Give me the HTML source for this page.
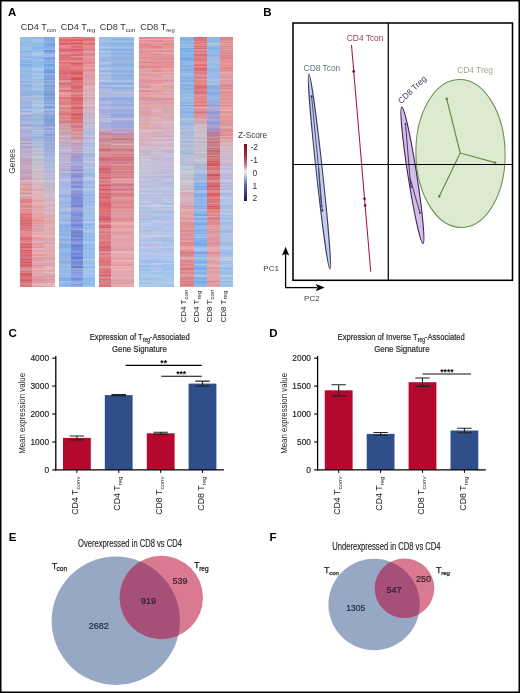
<!DOCTYPE html>
<html><head><meta charset="utf-8"><title>Figure</title>
<style>html,body{margin:0;padding:0;background:#fff;}svg{display:block;font-family:"Liberation Sans",sans-serif;will-change:transform;}</style>
</head><body>
<svg width="520" height="693" viewBox="0 0 520 693" font-family="Liberation Sans, sans-serif">
<rect x="0" y="0" width="520" height="693" fill="#fff"/>
<text x="8" y="16" font-size="11.5" font-weight="bold" fill="#000">A</text>
<text x="20.8" y="30.3" font-size="9" fill="#333">CD4 T<tspan font-size="5.9" dy="2.1">con</tspan></text>
<text x="60.8" y="30.3" font-size="9" fill="#333">CD4 T<tspan font-size="5.9" dy="2.1">reg</tspan></text>
<text x="99.8" y="30.3" font-size="9" fill="#333">CD8 T<tspan font-size="5.9" dy="2.1">con</tspan></text>
<text x="140.3" y="30.3" font-size="9" fill="#333">CD8 T<tspan font-size="5.9" dy="2.1">reg</tspan></text>
<g shape-rendering="crispEdges"><defs><linearGradient id="h0" x1="0" y1="0" x2="0" y2="1"><stop offset="0.2%" stop-color="#94bcf0"/><stop offset="0.6%" stop-color="#8ebde5"/><stop offset="1.0%" stop-color="#96c4e5"/><stop offset="1.4%" stop-color="#9abee4"/><stop offset="1.8%" stop-color="#97b7ea"/><stop offset="2.2%" stop-color="#93bbe7"/><stop offset="2.6%" stop-color="#9ab7e0"/><stop offset="3.0%" stop-color="#9ab8e6"/><stop offset="3.4%" stop-color="#8fbbe6"/><stop offset="3.8%" stop-color="#9ebde1"/><stop offset="4.2%" stop-color="#9ec3e4"/><stop offset="4.6%" stop-color="#91beed"/><stop offset="5.0%" stop-color="#a7c5e7"/><stop offset="5.4%" stop-color="#8dbae3"/><stop offset="5.8%" stop-color="#7eb2f5"/><stop offset="6.2%" stop-color="#96b8e5"/><stop offset="6.6%" stop-color="#98b7e7"/><stop offset="7.0%" stop-color="#a8bfe8"/><stop offset="7.4%" stop-color="#97bce5"/><stop offset="7.8%" stop-color="#99bbe2"/><stop offset="8.2%" stop-color="#8bb1e1"/><stop offset="8.6%" stop-color="#a1c2ec"/><stop offset="9.0%" stop-color="#96bbeb"/><stop offset="9.4%" stop-color="#8fb4ee"/><stop offset="9.8%" stop-color="#8eb6e5"/><stop offset="10.2%" stop-color="#80b2e5"/><stop offset="10.6%" stop-color="#94bae6"/><stop offset="11.0%" stop-color="#7face9"/><stop offset="11.4%" stop-color="#7faeee"/><stop offset="11.8%" stop-color="#8bb0e5"/><stop offset="12.2%" stop-color="#97bbec"/><stop offset="12.6%" stop-color="#9ebbe5"/><stop offset="13.0%" stop-color="#9bbae6"/><stop offset="13.4%" stop-color="#9fbbe3"/><stop offset="13.8%" stop-color="#90b2e5"/><stop offset="14.2%" stop-color="#9abdee"/><stop offset="14.6%" stop-color="#9abbe8"/><stop offset="15.0%" stop-color="#91b8e7"/><stop offset="15.4%" stop-color="#96b9ed"/><stop offset="15.8%" stop-color="#93b1e5"/><stop offset="16.2%" stop-color="#9cb4de"/><stop offset="16.6%" stop-color="#97bde8"/><stop offset="17.0%" stop-color="#9fb7e9"/><stop offset="17.4%" stop-color="#a7bddf"/><stop offset="17.8%" stop-color="#94b3e5"/><stop offset="18.2%" stop-color="#91b1e2"/><stop offset="18.6%" stop-color="#b0c4de"/><stop offset="19.0%" stop-color="#8fb3e0"/><stop offset="19.4%" stop-color="#8db1e4"/><stop offset="19.8%" stop-color="#92b8f1"/><stop offset="20.2%" stop-color="#9bb5e2"/><stop offset="20.6%" stop-color="#9ebae6"/><stop offset="21.0%" stop-color="#99b2e7"/><stop offset="21.4%" stop-color="#94b8e5"/><stop offset="21.8%" stop-color="#94b6dd"/><stop offset="22.2%" stop-color="#90b0e0"/><stop offset="22.6%" stop-color="#91b4e0"/><stop offset="23.0%" stop-color="#93addf"/><stop offset="23.4%" stop-color="#90b1e4"/><stop offset="23.8%" stop-color="#afc0e0"/><stop offset="24.2%" stop-color="#a6b7e1"/><stop offset="24.6%" stop-color="#a3b6e2"/><stop offset="25.1%" stop-color="#a9b8dc"/><stop offset="25.5%" stop-color="#a6b9dc"/><stop offset="25.9%" stop-color="#9ab5e3"/><stop offset="26.3%" stop-color="#a3b4d6"/><stop offset="26.7%" stop-color="#a4b2df"/><stop offset="27.1%" stop-color="#9bb7e3"/><stop offset="27.5%" stop-color="#aabce5"/><stop offset="27.9%" stop-color="#97aedc"/><stop offset="28.3%" stop-color="#97aee0"/><stop offset="28.7%" stop-color="#a2b4dd"/><stop offset="29.1%" stop-color="#b9c5e2"/><stop offset="29.5%" stop-color="#a9b9e6"/><stop offset="29.9%" stop-color="#96afe3"/><stop offset="30.3%" stop-color="#b1c0dd"/><stop offset="30.7%" stop-color="#c0c1d7"/><stop offset="31.1%" stop-color="#acb4df"/><stop offset="31.5%" stop-color="#94a9db"/><stop offset="31.9%" stop-color="#99b1e5"/><stop offset="32.3%" stop-color="#a5b2dd"/><stop offset="32.7%" stop-color="#9db3da"/><stop offset="33.1%" stop-color="#9daad5"/><stop offset="33.5%" stop-color="#a9b0df"/><stop offset="33.9%" stop-color="#a1b5dc"/><stop offset="34.3%" stop-color="#aeb5da"/><stop offset="34.7%" stop-color="#afbae6"/><stop offset="35.1%" stop-color="#a0a8d3"/><stop offset="35.5%" stop-color="#9ca6d4"/><stop offset="35.9%" stop-color="#aab1d7"/><stop offset="36.3%" stop-color="#c5bdd5"/><stop offset="36.7%" stop-color="#bbb5ce"/><stop offset="37.1%" stop-color="#9fb1dd"/><stop offset="37.5%" stop-color="#aaacdc"/><stop offset="37.9%" stop-color="#a2a8da"/><stop offset="38.3%" stop-color="#adadd5"/><stop offset="38.7%" stop-color="#b1b3dc"/><stop offset="39.1%" stop-color="#a9acd3"/><stop offset="39.5%" stop-color="#b9b1cf"/><stop offset="39.9%" stop-color="#b1b2d6"/><stop offset="40.3%" stop-color="#a7a6d5"/><stop offset="40.7%" stop-color="#a5a7d6"/><stop offset="41.1%" stop-color="#a8a7cd"/><stop offset="41.5%" stop-color="#a9a2c5"/><stop offset="41.9%" stop-color="#c5b5cc"/><stop offset="42.3%" stop-color="#b4b3d0"/><stop offset="42.7%" stop-color="#a49cca"/><stop offset="43.1%" stop-color="#c0b7d3"/><stop offset="43.5%" stop-color="#b7b5d3"/><stop offset="43.9%" stop-color="#b1a6c8"/><stop offset="44.3%" stop-color="#afa1c6"/><stop offset="44.7%" stop-color="#bcaacd"/><stop offset="45.1%" stop-color="#c2b5cc"/><stop offset="45.5%" stop-color="#b7accc"/><stop offset="45.9%" stop-color="#bca7c7"/><stop offset="46.3%" stop-color="#b5adc5"/><stop offset="46.7%" stop-color="#beadc7"/><stop offset="47.1%" stop-color="#ccb7ca"/><stop offset="47.5%" stop-color="#bca5c2"/><stop offset="47.9%" stop-color="#c8b7ce"/><stop offset="48.3%" stop-color="#c2b4cd"/><stop offset="48.7%" stop-color="#b0a7ca"/><stop offset="49.1%" stop-color="#baa4bc"/><stop offset="49.5%" stop-color="#bca5bc"/><stop offset="49.9%" stop-color="#bfa7bf"/><stop offset="50.3%" stop-color="#c0aac0"/><stop offset="50.7%" stop-color="#bda5ba"/><stop offset="51.1%" stop-color="#c6a9b9"/><stop offset="51.5%" stop-color="#c3b5c9"/><stop offset="51.9%" stop-color="#c3a5c6"/><stop offset="52.3%" stop-color="#cba9b7"/><stop offset="52.7%" stop-color="#ccaabe"/><stop offset="53.1%" stop-color="#c8a5b6"/><stop offset="53.5%" stop-color="#c39eb9"/><stop offset="53.9%" stop-color="#c5a4b8"/><stop offset="54.3%" stop-color="#c3a1bc"/><stop offset="54.7%" stop-color="#c0a0bd"/><stop offset="55.1%" stop-color="#cdacbe"/><stop offset="55.5%" stop-color="#c7a7bc"/><stop offset="55.9%" stop-color="#d29fb6"/><stop offset="56.3%" stop-color="#c699b6"/><stop offset="56.7%" stop-color="#c49cb8"/><stop offset="57.1%" stop-color="#c796b1"/><stop offset="57.5%" stop-color="#dab7c4"/><stop offset="57.9%" stop-color="#d5b1c1"/><stop offset="58.3%" stop-color="#d1a6b9"/><stop offset="58.7%" stop-color="#d0adb3"/><stop offset="59.1%" stop-color="#d49b9f"/><stop offset="59.5%" stop-color="#d9a0ac"/><stop offset="59.9%" stop-color="#dfaba7"/><stop offset="60.3%" stop-color="#dda2a1"/><stop offset="60.7%" stop-color="#dca9a6"/><stop offset="61.1%" stop-color="#d29199"/><stop offset="61.5%" stop-color="#dd9da3"/><stop offset="61.9%" stop-color="#e5adae"/><stop offset="62.3%" stop-color="#d5a5af"/><stop offset="62.7%" stop-color="#d5959a"/><stop offset="63.1%" stop-color="#d5a5a7"/><stop offset="63.5%" stop-color="#dfb6b5"/><stop offset="63.9%" stop-color="#dea7b3"/><stop offset="64.3%" stop-color="#de9b9e"/><stop offset="64.7%" stop-color="#e19b9f"/><stop offset="65.1%" stop-color="#d78a8d"/><stop offset="65.5%" stop-color="#dd8187"/><stop offset="65.9%" stop-color="#dc8489"/><stop offset="66.3%" stop-color="#e37672"/><stop offset="66.7%" stop-color="#e1a1a2"/><stop offset="67.1%" stop-color="#df989d"/><stop offset="67.5%" stop-color="#e58c8a"/><stop offset="67.9%" stop-color="#df7c85"/><stop offset="68.3%" stop-color="#d88c97"/><stop offset="68.7%" stop-color="#dfa5a9"/><stop offset="69.1%" stop-color="#e18580"/><stop offset="69.5%" stop-color="#e48c94"/><stop offset="69.9%" stop-color="#dc9096"/><stop offset="70.3%" stop-color="#e59697"/><stop offset="70.7%" stop-color="#e58285"/><stop offset="71.1%" stop-color="#e36971"/><stop offset="71.5%" stop-color="#db7b86"/><stop offset="71.9%" stop-color="#e17d87"/><stop offset="72.3%" stop-color="#e2747c"/><stop offset="72.7%" stop-color="#e4726f"/><stop offset="73.1%" stop-color="#e36e73"/><stop offset="73.5%" stop-color="#d86e76"/><stop offset="73.9%" stop-color="#da6773"/><stop offset="74.3%" stop-color="#e17d80"/><stop offset="74.7%" stop-color="#df5e64"/><stop offset="75.2%" stop-color="#d97780"/><stop offset="75.6%" stop-color="#db656e"/><stop offset="76.0%" stop-color="#db7f83"/><stop offset="76.4%" stop-color="#dc7983"/><stop offset="76.8%" stop-color="#d37180"/><stop offset="77.2%" stop-color="#de888a"/><stop offset="77.6%" stop-color="#e1767b"/><stop offset="78.0%" stop-color="#e69498"/><stop offset="78.4%" stop-color="#df8d90"/><stop offset="78.8%" stop-color="#e08490"/><stop offset="79.2%" stop-color="#db95a3"/><stop offset="79.6%" stop-color="#e38b8f"/><stop offset="80.0%" stop-color="#e58587"/><stop offset="80.4%" stop-color="#e17076"/><stop offset="80.8%" stop-color="#d86872"/><stop offset="81.2%" stop-color="#df6e72"/><stop offset="81.6%" stop-color="#dc858d"/><stop offset="82.0%" stop-color="#dd7985"/><stop offset="82.4%" stop-color="#e39293"/><stop offset="82.8%" stop-color="#d9767f"/><stop offset="83.2%" stop-color="#d9606c"/><stop offset="83.6%" stop-color="#db7a79"/><stop offset="84.0%" stop-color="#d06675"/><stop offset="84.4%" stop-color="#d76570"/><stop offset="84.8%" stop-color="#de828d"/><stop offset="85.2%" stop-color="#da858c"/><stop offset="85.6%" stop-color="#d65465"/><stop offset="86.0%" stop-color="#df7a7a"/><stop offset="86.4%" stop-color="#dd646a"/><stop offset="86.8%" stop-color="#d8777f"/><stop offset="87.2%" stop-color="#da6c73"/><stop offset="87.6%" stop-color="#e36463"/><stop offset="88.0%" stop-color="#d9727b"/><stop offset="88.4%" stop-color="#da7582"/><stop offset="88.8%" stop-color="#d97282"/><stop offset="89.2%" stop-color="#d06067"/><stop offset="89.6%" stop-color="#d56c73"/><stop offset="90.0%" stop-color="#da7076"/><stop offset="90.4%" stop-color="#db5956"/><stop offset="90.8%" stop-color="#e46c6f"/><stop offset="91.2%" stop-color="#d26a76"/><stop offset="91.6%" stop-color="#d65665"/><stop offset="92.0%" stop-color="#d6727a"/><stop offset="92.4%" stop-color="#d87f89"/><stop offset="92.8%" stop-color="#dd8d97"/><stop offset="93.2%" stop-color="#da939d"/><stop offset="93.6%" stop-color="#de929f"/><stop offset="94.0%" stop-color="#dd6d79"/><stop offset="94.4%" stop-color="#e17d80"/><stop offset="94.8%" stop-color="#d8666f"/><stop offset="95.2%" stop-color="#d7535c"/><stop offset="95.6%" stop-color="#dc6f75"/><stop offset="96.0%" stop-color="#d7667a"/><stop offset="96.4%" stop-color="#d57a84"/><stop offset="96.8%" stop-color="#db7479"/><stop offset="97.2%" stop-color="#d86872"/><stop offset="97.6%" stop-color="#d75a62"/><stop offset="98.0%" stop-color="#da7786"/><stop offset="98.4%" stop-color="#d4707c"/><stop offset="98.8%" stop-color="#da8a95"/><stop offset="99.2%" stop-color="#d98385"/><stop offset="99.6%" stop-color="#e0808c"/><stop offset="100.0%" stop-color="#de6c72"/></linearGradient>
<linearGradient id="h1" x1="0" y1="0" x2="0" y2="1"><stop offset="0.2%" stop-color="#8dbaed"/><stop offset="0.6%" stop-color="#8cb8ea"/><stop offset="1.0%" stop-color="#a2c4ed"/><stop offset="1.4%" stop-color="#a3c1ed"/><stop offset="1.8%" stop-color="#a8c8f0"/><stop offset="2.2%" stop-color="#92bae7"/><stop offset="2.6%" stop-color="#8cb9e6"/><stop offset="3.0%" stop-color="#90bbe7"/><stop offset="3.4%" stop-color="#8cbde9"/><stop offset="3.8%" stop-color="#95b9e8"/><stop offset="4.2%" stop-color="#7db8e8"/><stop offset="4.6%" stop-color="#86b3ec"/><stop offset="5.0%" stop-color="#9bc1ea"/><stop offset="5.4%" stop-color="#8bb8e0"/><stop offset="5.8%" stop-color="#9ac1e8"/><stop offset="6.2%" stop-color="#a5c5e6"/><stop offset="6.6%" stop-color="#b1c6e1"/><stop offset="7.0%" stop-color="#b7c6e8"/><stop offset="7.4%" stop-color="#a5c3e6"/><stop offset="7.8%" stop-color="#9dbee7"/><stop offset="8.2%" stop-color="#7db6ea"/><stop offset="8.6%" stop-color="#95bbee"/><stop offset="9.0%" stop-color="#8fbceb"/><stop offset="9.4%" stop-color="#9ac1eb"/><stop offset="9.8%" stop-color="#96bee9"/><stop offset="10.2%" stop-color="#8abce3"/><stop offset="10.6%" stop-color="#8cbaee"/><stop offset="11.0%" stop-color="#91b9e6"/><stop offset="11.4%" stop-color="#8cbce8"/><stop offset="11.8%" stop-color="#90bbe4"/><stop offset="12.2%" stop-color="#9abeed"/><stop offset="12.6%" stop-color="#aec6e7"/><stop offset="13.0%" stop-color="#a6c6f2"/><stop offset="13.4%" stop-color="#adc6ec"/><stop offset="13.8%" stop-color="#94bbe7"/><stop offset="14.2%" stop-color="#93bee6"/><stop offset="14.6%" stop-color="#a0bfe5"/><stop offset="15.0%" stop-color="#b4cae9"/><stop offset="15.4%" stop-color="#9ebdf0"/><stop offset="15.8%" stop-color="#96bfea"/><stop offset="16.2%" stop-color="#aec7eb"/><stop offset="16.6%" stop-color="#a6c3eb"/><stop offset="17.0%" stop-color="#99bae2"/><stop offset="17.4%" stop-color="#a6c0dc"/><stop offset="17.8%" stop-color="#9cbfe8"/><stop offset="18.2%" stop-color="#95bce0"/><stop offset="18.6%" stop-color="#b6c1de"/><stop offset="19.0%" stop-color="#a4c4e4"/><stop offset="19.4%" stop-color="#9ec1e6"/><stop offset="19.8%" stop-color="#98beed"/><stop offset="20.2%" stop-color="#99bae7"/><stop offset="20.6%" stop-color="#a7c4e3"/><stop offset="21.0%" stop-color="#a8c5ea"/><stop offset="21.4%" stop-color="#a3bbe1"/><stop offset="21.8%" stop-color="#8fb6df"/><stop offset="22.2%" stop-color="#8bb8e8"/><stop offset="22.6%" stop-color="#8db6e5"/><stop offset="23.0%" stop-color="#92b2e2"/><stop offset="23.4%" stop-color="#98bde3"/><stop offset="23.8%" stop-color="#b7c4e4"/><stop offset="24.2%" stop-color="#a4bedb"/><stop offset="24.6%" stop-color="#9dbedf"/><stop offset="25.1%" stop-color="#98bce5"/><stop offset="25.5%" stop-color="#a6c0e2"/><stop offset="25.9%" stop-color="#a6c5e4"/><stop offset="26.3%" stop-color="#afc3e6"/><stop offset="26.7%" stop-color="#a7bfdf"/><stop offset="27.1%" stop-color="#b3c9e2"/><stop offset="27.5%" stop-color="#b2c6e6"/><stop offset="27.9%" stop-color="#a8c4e5"/><stop offset="28.3%" stop-color="#96bbe7"/><stop offset="28.7%" stop-color="#a4c1e0"/><stop offset="29.1%" stop-color="#aec2e4"/><stop offset="29.5%" stop-color="#b1c7e9"/><stop offset="29.9%" stop-color="#aac1e6"/><stop offset="30.3%" stop-color="#acc6eb"/><stop offset="30.7%" stop-color="#aeb7dd"/><stop offset="31.1%" stop-color="#98b6db"/><stop offset="31.5%" stop-color="#9abae1"/><stop offset="31.9%" stop-color="#90b4ec"/><stop offset="32.3%" stop-color="#9dbee0"/><stop offset="32.7%" stop-color="#9cb5df"/><stop offset="33.1%" stop-color="#9fb0de"/><stop offset="33.5%" stop-color="#a2b9df"/><stop offset="33.9%" stop-color="#a0bade"/><stop offset="34.3%" stop-color="#9fb8dd"/><stop offset="34.7%" stop-color="#a7c5e7"/><stop offset="35.1%" stop-color="#94b1e0"/><stop offset="35.5%" stop-color="#90b1e5"/><stop offset="35.9%" stop-color="#90b3dd"/><stop offset="36.3%" stop-color="#a8bfda"/><stop offset="36.7%" stop-color="#acbadd"/><stop offset="37.1%" stop-color="#a2b7e3"/><stop offset="37.5%" stop-color="#b1c3eb"/><stop offset="37.9%" stop-color="#adc0e2"/><stop offset="38.3%" stop-color="#a4b8e1"/><stop offset="38.7%" stop-color="#b1bee7"/><stop offset="39.1%" stop-color="#98b8dc"/><stop offset="39.5%" stop-color="#b5bdd6"/><stop offset="39.9%" stop-color="#9bb3dc"/><stop offset="40.3%" stop-color="#96afde"/><stop offset="40.7%" stop-color="#a0b4e2"/><stop offset="41.1%" stop-color="#aab7d6"/><stop offset="41.5%" stop-color="#a6b7d5"/><stop offset="41.9%" stop-color="#b4bed2"/><stop offset="42.3%" stop-color="#b1bcdc"/><stop offset="42.7%" stop-color="#a7bae1"/><stop offset="43.1%" stop-color="#b2c4de"/><stop offset="43.5%" stop-color="#b0c0dd"/><stop offset="43.9%" stop-color="#acb7d7"/><stop offset="44.3%" stop-color="#aebbd4"/><stop offset="44.7%" stop-color="#c2c1d4"/><stop offset="45.1%" stop-color="#bbc5d7"/><stop offset="45.5%" stop-color="#babcd5"/><stop offset="45.9%" stop-color="#bbbdd5"/><stop offset="46.3%" stop-color="#c0c7d7"/><stop offset="46.7%" stop-color="#b7bbcf"/><stop offset="47.1%" stop-color="#b7bfd3"/><stop offset="47.5%" stop-color="#b7bbce"/><stop offset="47.9%" stop-color="#c9c9d4"/><stop offset="48.3%" stop-color="#c2c7d8"/><stop offset="48.7%" stop-color="#bbc3ce"/><stop offset="49.1%" stop-color="#bab8cf"/><stop offset="49.5%" stop-color="#b6bccc"/><stop offset="49.9%" stop-color="#bdc4ce"/><stop offset="50.3%" stop-color="#c2c6d1"/><stop offset="50.7%" stop-color="#c7bbc8"/><stop offset="51.1%" stop-color="#c2c0cc"/><stop offset="51.5%" stop-color="#bdc3dd"/><stop offset="51.9%" stop-color="#c7c2d3"/><stop offset="52.3%" stop-color="#c7c3cd"/><stop offset="52.7%" stop-color="#c9c0c6"/><stop offset="53.1%" stop-color="#d0c5cb"/><stop offset="53.5%" stop-color="#ccbfd0"/><stop offset="53.9%" stop-color="#c4b9c4"/><stop offset="54.3%" stop-color="#cbbfc7"/><stop offset="54.7%" stop-color="#c8bfd1"/><stop offset="55.1%" stop-color="#d4b9c4"/><stop offset="55.5%" stop-color="#cdbdcc"/><stop offset="55.9%" stop-color="#d4bdc5"/><stop offset="56.3%" stop-color="#cfbecb"/><stop offset="56.7%" stop-color="#c8bcc9"/><stop offset="57.1%" stop-color="#ccb5c5"/><stop offset="57.5%" stop-color="#e5c6ca"/><stop offset="57.9%" stop-color="#d2bfc9"/><stop offset="58.3%" stop-color="#d2bcd0"/><stop offset="58.7%" stop-color="#dabac2"/><stop offset="59.1%" stop-color="#d8b1c1"/><stop offset="59.5%" stop-color="#d8b7bf"/><stop offset="59.9%" stop-color="#dab6c0"/><stop offset="60.3%" stop-color="#e0b6b0"/><stop offset="60.7%" stop-color="#ddb9bf"/><stop offset="61.1%" stop-color="#d0a8ba"/><stop offset="61.5%" stop-color="#d8a9b1"/><stop offset="61.9%" stop-color="#e3b8b8"/><stop offset="62.3%" stop-color="#e0b7b1"/><stop offset="62.7%" stop-color="#e6bbb6"/><stop offset="63.1%" stop-color="#d9b0b8"/><stop offset="63.5%" stop-color="#ddbac4"/><stop offset="63.9%" stop-color="#e4b3c0"/><stop offset="64.3%" stop-color="#e1b3b6"/><stop offset="64.7%" stop-color="#e5b4b9"/><stop offset="65.1%" stop-color="#e9aaa8"/><stop offset="65.5%" stop-color="#dda1ab"/><stop offset="65.9%" stop-color="#e2a6a8"/><stop offset="66.3%" stop-color="#eaafab"/><stop offset="66.7%" stop-color="#ebb8bc"/><stop offset="67.1%" stop-color="#e1adb0"/><stop offset="67.5%" stop-color="#dbafb6"/><stop offset="67.9%" stop-color="#eb9ca1"/><stop offset="68.3%" stop-color="#e49da1"/><stop offset="68.7%" stop-color="#e6b1b3"/><stop offset="69.1%" stop-color="#e3a3a5"/><stop offset="69.5%" stop-color="#deb0bc"/><stop offset="69.9%" stop-color="#d8aabb"/><stop offset="70.3%" stop-color="#e8b1ab"/><stop offset="70.7%" stop-color="#e4a7ad"/><stop offset="71.1%" stop-color="#e09fa3"/><stop offset="71.5%" stop-color="#e4a5aa"/><stop offset="71.9%" stop-color="#e3a5a6"/><stop offset="72.3%" stop-color="#e4a29f"/><stop offset="72.7%" stop-color="#e79e9d"/><stop offset="73.1%" stop-color="#eaa1a5"/><stop offset="73.5%" stop-color="#e59098"/><stop offset="73.9%" stop-color="#e3969a"/><stop offset="74.3%" stop-color="#e3a4a5"/><stop offset="74.7%" stop-color="#df949b"/><stop offset="75.2%" stop-color="#dda9b4"/><stop offset="75.6%" stop-color="#e098a1"/><stop offset="76.0%" stop-color="#dea3ab"/><stop offset="76.4%" stop-color="#dea8ae"/><stop offset="76.8%" stop-color="#dea1ab"/><stop offset="77.2%" stop-color="#da9eb0"/><stop offset="77.6%" stop-color="#dea3a7"/><stop offset="78.0%" stop-color="#e5a3ad"/><stop offset="78.4%" stop-color="#e4aeba"/><stop offset="78.8%" stop-color="#e4a1a2"/><stop offset="79.2%" stop-color="#e3aaaf"/><stop offset="79.6%" stop-color="#ecb3b4"/><stop offset="80.0%" stop-color="#e6afb1"/><stop offset="80.4%" stop-color="#eb9c9b"/><stop offset="80.8%" stop-color="#e19c9f"/><stop offset="81.2%" stop-color="#de9ca7"/><stop offset="81.6%" stop-color="#d8a7b5"/><stop offset="82.0%" stop-color="#e3aebb"/><stop offset="82.4%" stop-color="#e3b0b6"/><stop offset="82.8%" stop-color="#df96a1"/><stop offset="83.2%" stop-color="#e7969a"/><stop offset="83.6%" stop-color="#e8a7a6"/><stop offset="84.0%" stop-color="#de9daa"/><stop offset="84.4%" stop-color="#d699a8"/><stop offset="84.8%" stop-color="#ddb1c0"/><stop offset="85.2%" stop-color="#e3b8bd"/><stop offset="85.6%" stop-color="#e3999c"/><stop offset="86.0%" stop-color="#e6a7a1"/><stop offset="86.4%" stop-color="#edb0b3"/><stop offset="86.8%" stop-color="#e7abb1"/><stop offset="87.2%" stop-color="#e0979d"/><stop offset="87.6%" stop-color="#e1999d"/><stop offset="88.0%" stop-color="#edaaab"/><stop offset="88.4%" stop-color="#e199a0"/><stop offset="88.8%" stop-color="#e7929d"/><stop offset="89.2%" stop-color="#dca3ba"/><stop offset="89.6%" stop-color="#d59dad"/><stop offset="90.0%" stop-color="#e5a8b3"/><stop offset="90.4%" stop-color="#e6abb0"/><stop offset="90.8%" stop-color="#e6a2a4"/><stop offset="91.2%" stop-color="#e0a7b8"/><stop offset="91.6%" stop-color="#e2909a"/><stop offset="92.0%" stop-color="#e1a1ac"/><stop offset="92.4%" stop-color="#e1a5ab"/><stop offset="92.8%" stop-color="#e8aaae"/><stop offset="93.2%" stop-color="#edb0b1"/><stop offset="93.6%" stop-color="#e39ba5"/><stop offset="94.0%" stop-color="#e2a6af"/><stop offset="94.4%" stop-color="#e4aeb9"/><stop offset="94.8%" stop-color="#dca5b1"/><stop offset="95.2%" stop-color="#e3a2a7"/><stop offset="95.6%" stop-color="#e4adb1"/><stop offset="96.0%" stop-color="#da97a5"/><stop offset="96.4%" stop-color="#df9eaa"/><stop offset="96.8%" stop-color="#e196a2"/><stop offset="97.2%" stop-color="#dd919b"/><stop offset="97.6%" stop-color="#e49497"/><stop offset="98.0%" stop-color="#dd97aa"/><stop offset="98.4%" stop-color="#dd9fac"/><stop offset="98.8%" stop-color="#deb1b2"/><stop offset="99.2%" stop-color="#e7b7bd"/><stop offset="99.6%" stop-color="#e6b1b1"/><stop offset="100.0%" stop-color="#e49ea3"/></linearGradient>
<linearGradient id="h2" x1="0" y1="0" x2="0" y2="1"><stop offset="0.2%" stop-color="#85aeeb"/><stop offset="0.6%" stop-color="#7fa2e4"/><stop offset="1.0%" stop-color="#84ade3"/><stop offset="1.4%" stop-color="#83ade1"/><stop offset="1.8%" stop-color="#81b1e6"/><stop offset="2.2%" stop-color="#90b6e4"/><stop offset="2.6%" stop-color="#78a5d8"/><stop offset="3.0%" stop-color="#7ba4e4"/><stop offset="3.4%" stop-color="#79a6e3"/><stop offset="3.8%" stop-color="#8aa8e4"/><stop offset="4.2%" stop-color="#8aaee3"/><stop offset="4.6%" stop-color="#8bade5"/><stop offset="5.0%" stop-color="#9eb5e3"/><stop offset="5.4%" stop-color="#6b98db"/><stop offset="5.8%" stop-color="#6b99e3"/><stop offset="6.2%" stop-color="#7ea5e0"/><stop offset="6.6%" stop-color="#91b4de"/><stop offset="7.0%" stop-color="#a2bce1"/><stop offset="7.4%" stop-color="#a1bbe7"/><stop offset="7.8%" stop-color="#9fbade"/><stop offset="8.2%" stop-color="#7bacdf"/><stop offset="8.6%" stop-color="#6c9fe5"/><stop offset="9.0%" stop-color="#7ba4e0"/><stop offset="9.4%" stop-color="#8bb2e8"/><stop offset="9.8%" stop-color="#8aa8dc"/><stop offset="10.2%" stop-color="#87ace4"/><stop offset="10.6%" stop-color="#90b4ec"/><stop offset="11.0%" stop-color="#72a1e2"/><stop offset="11.4%" stop-color="#79a3e4"/><stop offset="11.8%" stop-color="#7da7e5"/><stop offset="12.2%" stop-color="#8eb2e6"/><stop offset="12.6%" stop-color="#93b4e8"/><stop offset="13.0%" stop-color="#75a8e7"/><stop offset="13.4%" stop-color="#709fe1"/><stop offset="13.8%" stop-color="#729de1"/><stop offset="14.2%" stop-color="#6398e4"/><stop offset="14.6%" stop-color="#92b5dd"/><stop offset="15.0%" stop-color="#8eade0"/><stop offset="15.4%" stop-color="#8bade9"/><stop offset="15.8%" stop-color="#789ee2"/><stop offset="16.2%" stop-color="#87aae1"/><stop offset="16.6%" stop-color="#77a0dd"/><stop offset="17.0%" stop-color="#72a0dd"/><stop offset="17.4%" stop-color="#99aeda"/><stop offset="17.8%" stop-color="#88aae4"/><stop offset="18.2%" stop-color="#74a4e0"/><stop offset="18.6%" stop-color="#93b2e0"/><stop offset="19.0%" stop-color="#92addd"/><stop offset="19.4%" stop-color="#77a0da"/><stop offset="19.8%" stop-color="#6ea1e6"/><stop offset="20.2%" stop-color="#8baad9"/><stop offset="20.6%" stop-color="#86a1d5"/><stop offset="21.0%" stop-color="#85abde"/><stop offset="21.4%" stop-color="#92aad7"/><stop offset="21.8%" stop-color="#81a0d5"/><stop offset="22.2%" stop-color="#73a3da"/><stop offset="22.6%" stop-color="#7c9cd8"/><stop offset="23.0%" stop-color="#729ad7"/><stop offset="23.4%" stop-color="#7a9ee0"/><stop offset="23.8%" stop-color="#93aadb"/><stop offset="24.2%" stop-color="#7aa1dc"/><stop offset="24.6%" stop-color="#7fa0d9"/><stop offset="25.1%" stop-color="#81a1de"/><stop offset="25.5%" stop-color="#8babdc"/><stop offset="25.9%" stop-color="#91abe0"/><stop offset="26.3%" stop-color="#96b1df"/><stop offset="26.7%" stop-color="#80a0dd"/><stop offset="27.1%" stop-color="#a4b4dc"/><stop offset="27.5%" stop-color="#a6b6dc"/><stop offset="27.9%" stop-color="#789bde"/><stop offset="28.3%" stop-color="#74a0e1"/><stop offset="28.7%" stop-color="#8bafdf"/><stop offset="29.1%" stop-color="#abb9de"/><stop offset="29.5%" stop-color="#a3b5de"/><stop offset="29.9%" stop-color="#88a6da"/><stop offset="30.3%" stop-color="#9aafe0"/><stop offset="30.7%" stop-color="#a5afda"/><stop offset="31.1%" stop-color="#91a5d4"/><stop offset="31.5%" stop-color="#87a3d5"/><stop offset="31.9%" stop-color="#81a3e3"/><stop offset="32.3%" stop-color="#8ca9da"/><stop offset="32.7%" stop-color="#83a0dc"/><stop offset="33.1%" stop-color="#7e9ad6"/><stop offset="33.5%" stop-color="#85a1dd"/><stop offset="33.9%" stop-color="#799ee2"/><stop offset="34.3%" stop-color="#7ca3d8"/><stop offset="34.7%" stop-color="#8ea6e2"/><stop offset="35.1%" stop-color="#85a3d7"/><stop offset="35.5%" stop-color="#879dd8"/><stop offset="35.9%" stop-color="#96acdf"/><stop offset="36.3%" stop-color="#a9b6de"/><stop offset="36.7%" stop-color="#96a5dc"/><stop offset="37.1%" stop-color="#87a1df"/><stop offset="37.5%" stop-color="#a5b8e3"/><stop offset="37.9%" stop-color="#9bb4e1"/><stop offset="38.3%" stop-color="#97a8dc"/><stop offset="38.7%" stop-color="#98aedb"/><stop offset="39.1%" stop-color="#7c9ad9"/><stop offset="39.5%" stop-color="#90a3d7"/><stop offset="39.9%" stop-color="#9bb2da"/><stop offset="40.3%" stop-color="#95a6dc"/><stop offset="40.7%" stop-color="#85a5de"/><stop offset="41.1%" stop-color="#98afdc"/><stop offset="41.5%" stop-color="#8ea4d3"/><stop offset="41.9%" stop-color="#9fafdd"/><stop offset="42.3%" stop-color="#a1b5de"/><stop offset="42.7%" stop-color="#95a9da"/><stop offset="43.1%" stop-color="#98a9d9"/><stop offset="43.5%" stop-color="#9baee4"/><stop offset="43.9%" stop-color="#9cafde"/><stop offset="44.3%" stop-color="#97acd6"/><stop offset="44.7%" stop-color="#9badda"/><stop offset="45.1%" stop-color="#a2b3df"/><stop offset="45.5%" stop-color="#a3b1da"/><stop offset="45.9%" stop-color="#9cb0d7"/><stop offset="46.3%" stop-color="#a3b8e0"/><stop offset="46.7%" stop-color="#a1b1dc"/><stop offset="47.1%" stop-color="#aab4df"/><stop offset="47.5%" stop-color="#9dabdd"/><stop offset="47.9%" stop-color="#aabbde"/><stop offset="48.3%" stop-color="#b3badf"/><stop offset="48.7%" stop-color="#a9b8e6"/><stop offset="49.1%" stop-color="#aabbe1"/><stop offset="49.5%" stop-color="#a8b5d7"/><stop offset="49.9%" stop-color="#a5b3d9"/><stop offset="50.3%" stop-color="#b0bfdc"/><stop offset="50.7%" stop-color="#a7b9df"/><stop offset="51.1%" stop-color="#adbbe0"/><stop offset="51.5%" stop-color="#bbbce3"/><stop offset="51.9%" stop-color="#abb4de"/><stop offset="52.3%" stop-color="#acb7d4"/><stop offset="52.7%" stop-color="#b8c0db"/><stop offset="53.1%" stop-color="#bbc0da"/><stop offset="53.5%" stop-color="#b3b9d7"/><stop offset="53.9%" stop-color="#b6b2d2"/><stop offset="54.3%" stop-color="#b2b8da"/><stop offset="54.7%" stop-color="#bbc3e5"/><stop offset="55.1%" stop-color="#bebfda"/><stop offset="55.5%" stop-color="#bdbada"/><stop offset="55.9%" stop-color="#c3bcd4"/><stop offset="56.3%" stop-color="#bbbcd6"/><stop offset="56.7%" stop-color="#acb7dd"/><stop offset="57.1%" stop-color="#b7b8d6"/><stop offset="57.5%" stop-color="#cec4d5"/><stop offset="57.9%" stop-color="#c4c5d4"/><stop offset="58.3%" stop-color="#bfc0d5"/><stop offset="58.7%" stop-color="#beb5d5"/><stop offset="59.1%" stop-color="#c6b4c4"/><stop offset="59.5%" stop-color="#c1b7c9"/><stop offset="59.9%" stop-color="#c5b1cd"/><stop offset="60.3%" stop-color="#c4bacb"/><stop offset="60.7%" stop-color="#cabdce"/><stop offset="61.1%" stop-color="#c3b2cd"/><stop offset="61.5%" stop-color="#c5c1cc"/><stop offset="61.9%" stop-color="#cbb6c8"/><stop offset="62.3%" stop-color="#ccbccc"/><stop offset="62.7%" stop-color="#d5bac9"/><stop offset="63.1%" stop-color="#d4c2cb"/><stop offset="63.5%" stop-color="#d3bfd3"/><stop offset="63.9%" stop-color="#d0bbd0"/><stop offset="64.3%" stop-color="#cfbeca"/><stop offset="64.7%" stop-color="#d5b8c5"/><stop offset="65.1%" stop-color="#c8b3be"/><stop offset="65.5%" stop-color="#d4b2ba"/><stop offset="65.9%" stop-color="#d3b4be"/><stop offset="66.3%" stop-color="#ddb6bd"/><stop offset="66.7%" stop-color="#dabacb"/><stop offset="67.1%" stop-color="#d3b5c1"/><stop offset="67.5%" stop-color="#d1a8b8"/><stop offset="67.9%" stop-color="#d7b5bd"/><stop offset="68.3%" stop-color="#d7b5c1"/><stop offset="68.7%" stop-color="#d9bbc6"/><stop offset="69.1%" stop-color="#d7b1bb"/><stop offset="69.5%" stop-color="#d4b7c7"/><stop offset="69.9%" stop-color="#ceb0c5"/><stop offset="70.3%" stop-color="#dcc3c9"/><stop offset="70.7%" stop-color="#dcbcc0"/><stop offset="71.1%" stop-color="#d9acba"/><stop offset="71.5%" stop-color="#dbaab5"/><stop offset="71.9%" stop-color="#d8afb1"/><stop offset="72.3%" stop-color="#dfa5a8"/><stop offset="72.7%" stop-color="#ddb6b3"/><stop offset="73.1%" stop-color="#ddabb2"/><stop offset="73.5%" stop-color="#dca9ac"/><stop offset="73.9%" stop-color="#dea3a7"/><stop offset="74.3%" stop-color="#deabaf"/><stop offset="74.7%" stop-color="#dda3a9"/><stop offset="75.2%" stop-color="#e0b2b6"/><stop offset="75.6%" stop-color="#e5aeb7"/><stop offset="76.0%" stop-color="#e2a9b8"/><stop offset="76.4%" stop-color="#dfb2b8"/><stop offset="76.8%" stop-color="#dba8b6"/><stop offset="77.2%" stop-color="#d8acb5"/><stop offset="77.6%" stop-color="#e3acae"/><stop offset="78.0%" stop-color="#e1b2b4"/><stop offset="78.4%" stop-color="#dfb4be"/><stop offset="78.8%" stop-color="#dba5ae"/><stop offset="79.2%" stop-color="#dbb0b7"/><stop offset="79.6%" stop-color="#e7b8b4"/><stop offset="80.0%" stop-color="#e3b8bc"/><stop offset="80.4%" stop-color="#e5a9a8"/><stop offset="80.8%" stop-color="#dfa8b0"/><stop offset="81.2%" stop-color="#daa5ae"/><stop offset="81.6%" stop-color="#d9a8b2"/><stop offset="82.0%" stop-color="#dfaab8"/><stop offset="82.4%" stop-color="#d9aab0"/><stop offset="82.8%" stop-color="#dba2b0"/><stop offset="83.2%" stop-color="#e4acac"/><stop offset="83.6%" stop-color="#e7bbbf"/><stop offset="84.0%" stop-color="#d5a1af"/><stop offset="84.4%" stop-color="#daaeb8"/><stop offset="84.8%" stop-color="#e0a9b4"/><stop offset="85.2%" stop-color="#e2afb7"/><stop offset="85.6%" stop-color="#dba0a9"/><stop offset="86.0%" stop-color="#e3adb1"/><stop offset="86.4%" stop-color="#dcb0b9"/><stop offset="86.8%" stop-color="#dca7b1"/><stop offset="87.2%" stop-color="#e4adac"/><stop offset="87.6%" stop-color="#e5a4a8"/><stop offset="88.0%" stop-color="#e4b0b4"/><stop offset="88.4%" stop-color="#d99eaa"/><stop offset="88.8%" stop-color="#e0a2a7"/><stop offset="89.2%" stop-color="#dba5a6"/><stop offset="89.6%" stop-color="#d9aebf"/><stop offset="90.0%" stop-color="#e8b5b9"/><stop offset="90.4%" stop-color="#e5a8b1"/><stop offset="90.8%" stop-color="#d8acaf"/><stop offset="91.2%" stop-color="#d6a5b1"/><stop offset="91.6%" stop-color="#d9a0af"/><stop offset="92.0%" stop-color="#e2aebc"/><stop offset="92.4%" stop-color="#e1babd"/><stop offset="92.8%" stop-color="#e4b5b9"/><stop offset="93.2%" stop-color="#e9b3b4"/><stop offset="93.6%" stop-color="#e2a3a9"/><stop offset="94.0%" stop-color="#e4aaaf"/><stop offset="94.4%" stop-color="#eabcbf"/><stop offset="94.8%" stop-color="#e0b3b7"/><stop offset="95.2%" stop-color="#dca4ac"/><stop offset="95.6%" stop-color="#dca6a8"/><stop offset="96.0%" stop-color="#dc99a0"/><stop offset="96.4%" stop-color="#daa7b9"/><stop offset="96.8%" stop-color="#d9aab2"/><stop offset="97.2%" stop-color="#d79ba7"/><stop offset="97.6%" stop-color="#e2a19e"/><stop offset="98.0%" stop-color="#dfa4a7"/><stop offset="98.4%" stop-color="#d7a2ac"/><stop offset="98.8%" stop-color="#e3b8ba"/><stop offset="99.2%" stop-color="#deb4b3"/><stop offset="99.6%" stop-color="#e6bac3"/><stop offset="100.0%" stop-color="#e3a8ad"/></linearGradient>
<linearGradient id="h3" x1="0" y1="0" x2="0" y2="1"><stop offset="0.2%" stop-color="#eb897f"/><stop offset="0.6%" stop-color="#df808b"/><stop offset="1.0%" stop-color="#e36b6c"/><stop offset="1.4%" stop-color="#e76364"/><stop offset="1.8%" stop-color="#e17876"/><stop offset="2.2%" stop-color="#e47f82"/><stop offset="2.6%" stop-color="#d85f65"/><stop offset="3.0%" stop-color="#de686b"/><stop offset="3.4%" stop-color="#e68b8b"/><stop offset="3.8%" stop-color="#e1888a"/><stop offset="4.2%" stop-color="#e5888f"/><stop offset="4.6%" stop-color="#e07a7f"/><stop offset="5.0%" stop-color="#d96a7a"/><stop offset="5.4%" stop-color="#d96878"/><stop offset="5.8%" stop-color="#e36d76"/><stop offset="6.2%" stop-color="#dd8c96"/><stop offset="6.6%" stop-color="#de8f90"/><stop offset="7.0%" stop-color="#e17c88"/><stop offset="7.4%" stop-color="#de6e7a"/><stop offset="7.8%" stop-color="#dc7178"/><stop offset="8.2%" stop-color="#e0727d"/><stop offset="8.6%" stop-color="#e2727b"/><stop offset="9.0%" stop-color="#db7681"/><stop offset="9.4%" stop-color="#e3797c"/><stop offset="9.8%" stop-color="#e19d9c"/><stop offset="10.2%" stop-color="#eb5d5a"/><stop offset="10.6%" stop-color="#e4787b"/><stop offset="11.0%" stop-color="#e88283"/><stop offset="11.4%" stop-color="#e78382"/><stop offset="11.8%" stop-color="#db767f"/><stop offset="12.2%" stop-color="#de7f7f"/><stop offset="12.6%" stop-color="#e57c7c"/><stop offset="13.0%" stop-color="#df726f"/><stop offset="13.4%" stop-color="#db7482"/><stop offset="13.8%" stop-color="#dd6b6c"/><stop offset="14.2%" stop-color="#da6776"/><stop offset="14.6%" stop-color="#dc6a77"/><stop offset="15.0%" stop-color="#dc6c82"/><stop offset="15.4%" stop-color="#e37e81"/><stop offset="15.8%" stop-color="#e07475"/><stop offset="16.2%" stop-color="#dd7278"/><stop offset="16.6%" stop-color="#de7f8a"/><stop offset="17.0%" stop-color="#d66569"/><stop offset="17.4%" stop-color="#e48f94"/><stop offset="17.8%" stop-color="#e69f9f"/><stop offset="18.2%" stop-color="#e07982"/><stop offset="18.6%" stop-color="#e06c74"/><stop offset="19.0%" stop-color="#da6c7a"/><stop offset="19.4%" stop-color="#d9878f"/><stop offset="19.8%" stop-color="#e67d84"/><stop offset="20.2%" stop-color="#de848b"/><stop offset="20.6%" stop-color="#df9da5"/><stop offset="21.0%" stop-color="#e3989a"/><stop offset="21.4%" stop-color="#db6977"/><stop offset="21.8%" stop-color="#e67674"/><stop offset="22.2%" stop-color="#ea9d9f"/><stop offset="22.6%" stop-color="#e49da0"/><stop offset="23.0%" stop-color="#e6a1a8"/><stop offset="23.4%" stop-color="#db8f92"/><stop offset="23.8%" stop-color="#ee9a97"/><stop offset="24.2%" stop-color="#e27c81"/><stop offset="24.6%" stop-color="#d56f7c"/><stop offset="25.1%" stop-color="#e48a89"/><stop offset="25.5%" stop-color="#e0878a"/><stop offset="25.9%" stop-color="#dd7c7f"/><stop offset="26.3%" stop-color="#e0888c"/><stop offset="26.7%" stop-color="#dc767a"/><stop offset="27.1%" stop-color="#dc8891"/><stop offset="27.5%" stop-color="#e0979b"/><stop offset="27.9%" stop-color="#e19da7"/><stop offset="28.3%" stop-color="#dc898d"/><stop offset="28.7%" stop-color="#df7977"/><stop offset="29.1%" stop-color="#db8d94"/><stop offset="29.5%" stop-color="#de938e"/><stop offset="29.9%" stop-color="#e18488"/><stop offset="30.3%" stop-color="#da7e7e"/><stop offset="30.7%" stop-color="#e36f6b"/><stop offset="31.1%" stop-color="#d57883"/><stop offset="31.5%" stop-color="#d9828d"/><stop offset="31.9%" stop-color="#dd9091"/><stop offset="32.3%" stop-color="#dd8a8c"/><stop offset="32.7%" stop-color="#d17d88"/><stop offset="33.1%" stop-color="#d8979b"/><stop offset="33.5%" stop-color="#d48889"/><stop offset="33.9%" stop-color="#d27b87"/><stop offset="34.3%" stop-color="#d6807e"/><stop offset="34.7%" stop-color="#d99593"/><stop offset="35.1%" stop-color="#d49ea3"/><stop offset="35.5%" stop-color="#cda4b9"/><stop offset="35.9%" stop-color="#c795a7"/><stop offset="36.3%" stop-color="#d1a9af"/><stop offset="36.7%" stop-color="#cf9da1"/><stop offset="37.1%" stop-color="#c8a1b1"/><stop offset="37.5%" stop-color="#d0a6af"/><stop offset="37.9%" stop-color="#cfa6b6"/><stop offset="38.3%" stop-color="#c49eb0"/><stop offset="38.7%" stop-color="#c4a0ac"/><stop offset="39.1%" stop-color="#cca8b6"/><stop offset="39.5%" stop-color="#d2abb4"/><stop offset="39.9%" stop-color="#d0b6c6"/><stop offset="40.3%" stop-color="#cbacb7"/><stop offset="40.7%" stop-color="#c79dad"/><stop offset="41.1%" stop-color="#cdb2bd"/><stop offset="41.5%" stop-color="#c9b1c0"/><stop offset="41.9%" stop-color="#c1acbb"/><stop offset="42.3%" stop-color="#c6aabc"/><stop offset="42.7%" stop-color="#bfa6c3"/><stop offset="43.1%" stop-color="#c5b3c3"/><stop offset="43.5%" stop-color="#b3a5c5"/><stop offset="43.9%" stop-color="#bdafca"/><stop offset="44.3%" stop-color="#c3b7d1"/><stop offset="44.7%" stop-color="#c1b1d3"/><stop offset="45.1%" stop-color="#c7bdd2"/><stop offset="45.5%" stop-color="#d0b7ca"/><stop offset="45.9%" stop-color="#c5bad3"/><stop offset="46.3%" stop-color="#bdb3d0"/><stop offset="46.7%" stop-color="#b7a1bf"/><stop offset="47.1%" stop-color="#b5b0d0"/><stop offset="47.5%" stop-color="#bab1ce"/><stop offset="47.9%" stop-color="#b7adce"/><stop offset="48.3%" stop-color="#beb5d0"/><stop offset="48.7%" stop-color="#b8b4d8"/><stop offset="49.1%" stop-color="#b6b2d2"/><stop offset="49.5%" stop-color="#bbb6d3"/><stop offset="49.9%" stop-color="#b5b8da"/><stop offset="50.3%" stop-color="#c7bfd9"/><stop offset="50.7%" stop-color="#afb1ce"/><stop offset="51.1%" stop-color="#b6b2d0"/><stop offset="51.5%" stop-color="#b5b9da"/><stop offset="51.9%" stop-color="#aeb2d2"/><stop offset="52.3%" stop-color="#c2b6c9"/><stop offset="52.7%" stop-color="#b7afd2"/><stop offset="53.1%" stop-color="#b3b1cf"/><stop offset="53.5%" stop-color="#a5a7d5"/><stop offset="53.9%" stop-color="#bfbcdb"/><stop offset="54.3%" stop-color="#b4bad9"/><stop offset="54.7%" stop-color="#a7aad0"/><stop offset="55.1%" stop-color="#a8b3e0"/><stop offset="55.5%" stop-color="#a6aed4"/><stop offset="55.9%" stop-color="#acb5de"/><stop offset="56.3%" stop-color="#aab4df"/><stop offset="56.7%" stop-color="#b3b9d9"/><stop offset="57.1%" stop-color="#bfc1e1"/><stop offset="57.5%" stop-color="#c2c2dd"/><stop offset="57.9%" stop-color="#acbae5"/><stop offset="58.3%" stop-color="#a7b5e4"/><stop offset="58.7%" stop-color="#acb6dd"/><stop offset="59.1%" stop-color="#a6b6e4"/><stop offset="59.5%" stop-color="#9fb6ef"/><stop offset="59.9%" stop-color="#a3b9e5"/><stop offset="60.3%" stop-color="#a3b8e1"/><stop offset="60.7%" stop-color="#afbce5"/><stop offset="61.1%" stop-color="#a3b9e8"/><stop offset="61.5%" stop-color="#b5c2e9"/><stop offset="61.9%" stop-color="#a8b9e2"/><stop offset="62.3%" stop-color="#b0bbe1"/><stop offset="62.7%" stop-color="#adbde3"/><stop offset="63.1%" stop-color="#a4b7dd"/><stop offset="63.5%" stop-color="#88ade6"/><stop offset="63.9%" stop-color="#93ace7"/><stop offset="64.3%" stop-color="#a3b4e5"/><stop offset="64.7%" stop-color="#abb9e1"/><stop offset="65.1%" stop-color="#a7bee0"/><stop offset="65.5%" stop-color="#a8bae3"/><stop offset="65.9%" stop-color="#9ab3e5"/><stop offset="66.3%" stop-color="#98b4e5"/><stop offset="66.7%" stop-color="#8faee4"/><stop offset="67.1%" stop-color="#a7b9e1"/><stop offset="67.5%" stop-color="#a3b8e0"/><stop offset="67.9%" stop-color="#96b2de"/><stop offset="68.3%" stop-color="#a1bbe4"/><stop offset="68.7%" stop-color="#a9bfe7"/><stop offset="69.1%" stop-color="#b6c0dd"/><stop offset="69.5%" stop-color="#aabcdf"/><stop offset="69.9%" stop-color="#a6bbe6"/><stop offset="70.3%" stop-color="#8fb1e9"/><stop offset="70.7%" stop-color="#90b3e6"/><stop offset="71.1%" stop-color="#8fb2ef"/><stop offset="71.5%" stop-color="#a4bce3"/><stop offset="71.9%" stop-color="#a4bae2"/><stop offset="72.3%" stop-color="#a1b8dd"/><stop offset="72.7%" stop-color="#a1bce5"/><stop offset="73.1%" stop-color="#99b2e9"/><stop offset="73.5%" stop-color="#8fb2ea"/><stop offset="73.9%" stop-color="#9bb8e9"/><stop offset="74.3%" stop-color="#adc2e2"/><stop offset="74.7%" stop-color="#a8c0e8"/><stop offset="75.2%" stop-color="#8eb2ed"/><stop offset="75.6%" stop-color="#7aabed"/><stop offset="76.0%" stop-color="#8cb3e9"/><stop offset="76.4%" stop-color="#88aeeb"/><stop offset="76.8%" stop-color="#8db6ed"/><stop offset="77.2%" stop-color="#8cb5e7"/><stop offset="77.6%" stop-color="#87ade1"/><stop offset="78.0%" stop-color="#8fb3e8"/><stop offset="78.4%" stop-color="#99b8e3"/><stop offset="78.8%" stop-color="#8bb0e8"/><stop offset="79.2%" stop-color="#90b5e2"/><stop offset="79.6%" stop-color="#92b2eb"/><stop offset="80.0%" stop-color="#9bbbe3"/><stop offset="80.4%" stop-color="#a2c0e9"/><stop offset="80.8%" stop-color="#8ab2de"/><stop offset="81.2%" stop-color="#85aee2"/><stop offset="81.6%" stop-color="#8eaddf"/><stop offset="82.0%" stop-color="#94b9e7"/><stop offset="82.4%" stop-color="#a8b9e7"/><stop offset="82.8%" stop-color="#8fb1e0"/><stop offset="83.2%" stop-color="#88aae2"/><stop offset="83.6%" stop-color="#80acea"/><stop offset="84.0%" stop-color="#7eade7"/><stop offset="84.4%" stop-color="#80aeed"/><stop offset="84.8%" stop-color="#9ab3e1"/><stop offset="85.2%" stop-color="#93b9eb"/><stop offset="85.6%" stop-color="#9cc1e8"/><stop offset="86.0%" stop-color="#8fb7ef"/><stop offset="86.4%" stop-color="#94b7e2"/><stop offset="86.8%" stop-color="#83aee7"/><stop offset="87.2%" stop-color="#90b3e9"/><stop offset="87.6%" stop-color="#81b2e9"/><stop offset="88.0%" stop-color="#93b7e9"/><stop offset="88.4%" stop-color="#99b6e5"/><stop offset="88.8%" stop-color="#90b7e4"/><stop offset="89.2%" stop-color="#99bae4"/><stop offset="89.6%" stop-color="#8fb6e5"/><stop offset="90.0%" stop-color="#84ace4"/><stop offset="90.4%" stop-color="#7faee9"/><stop offset="90.8%" stop-color="#96b4e1"/><stop offset="91.2%" stop-color="#a4badd"/><stop offset="91.6%" stop-color="#9bb9e2"/><stop offset="92.0%" stop-color="#8dbce5"/><stop offset="92.4%" stop-color="#95b9e3"/><stop offset="92.8%" stop-color="#9cbee8"/><stop offset="93.2%" stop-color="#99bbef"/><stop offset="93.6%" stop-color="#9ab3e8"/><stop offset="94.0%" stop-color="#91bae7"/><stop offset="94.4%" stop-color="#90b8e9"/><stop offset="94.8%" stop-color="#a3c2ea"/><stop offset="95.2%" stop-color="#95b9ec"/><stop offset="95.6%" stop-color="#91b7ec"/><stop offset="96.0%" stop-color="#97bae8"/><stop offset="96.4%" stop-color="#8bbaea"/><stop offset="96.8%" stop-color="#70aded"/><stop offset="97.2%" stop-color="#84b0e6"/><stop offset="97.6%" stop-color="#88b0e6"/><stop offset="98.0%" stop-color="#a1bfe5"/><stop offset="98.4%" stop-color="#93bdef"/><stop offset="98.8%" stop-color="#95b7ef"/><stop offset="99.2%" stop-color="#89b9ea"/><stop offset="99.6%" stop-color="#87b3ee"/><stop offset="100.0%" stop-color="#9bbaea"/></linearGradient>
<linearGradient id="h4" x1="0" y1="0" x2="0" y2="1"><stop offset="0.2%" stop-color="#e56864"/><stop offset="0.6%" stop-color="#e3848c"/><stop offset="1.0%" stop-color="#de6b71"/><stop offset="1.4%" stop-color="#e15757"/><stop offset="1.8%" stop-color="#e38183"/><stop offset="2.2%" stop-color="#e26b6b"/><stop offset="2.6%" stop-color="#e1575e"/><stop offset="3.0%" stop-color="#df7178"/><stop offset="3.4%" stop-color="#e3817f"/><stop offset="3.8%" stop-color="#d96c77"/><stop offset="4.2%" stop-color="#e46971"/><stop offset="4.6%" stop-color="#e18288"/><stop offset="5.0%" stop-color="#d8525e"/><stop offset="5.4%" stop-color="#d96c78"/><stop offset="5.8%" stop-color="#e67477"/><stop offset="6.2%" stop-color="#dc7e8a"/><stop offset="6.6%" stop-color="#e18285"/><stop offset="7.0%" stop-color="#da6c7d"/><stop offset="7.4%" stop-color="#dc6566"/><stop offset="7.8%" stop-color="#e29095"/><stop offset="8.2%" stop-color="#e07a80"/><stop offset="8.6%" stop-color="#df6970"/><stop offset="9.0%" stop-color="#dc707c"/><stop offset="9.4%" stop-color="#dc7f87"/><stop offset="9.8%" stop-color="#e79296"/><stop offset="10.2%" stop-color="#e2787b"/><stop offset="10.6%" stop-color="#d65967"/><stop offset="11.0%" stop-color="#e06f77"/><stop offset="11.4%" stop-color="#e76a71"/><stop offset="11.8%" stop-color="#e18183"/><stop offset="12.2%" stop-color="#e07d84"/><stop offset="12.6%" stop-color="#eb8782"/><stop offset="13.0%" stop-color="#e4757c"/><stop offset="13.4%" stop-color="#d47684"/><stop offset="13.8%" stop-color="#db686f"/><stop offset="14.2%" stop-color="#da5663"/><stop offset="14.6%" stop-color="#db6163"/><stop offset="15.0%" stop-color="#d75969"/><stop offset="15.4%" stop-color="#df8888"/><stop offset="15.8%" stop-color="#e46f70"/><stop offset="16.2%" stop-color="#db6365"/><stop offset="16.6%" stop-color="#de5255"/><stop offset="17.0%" stop-color="#d74d55"/><stop offset="17.4%" stop-color="#df747c"/><stop offset="17.8%" stop-color="#dc707a"/><stop offset="18.2%" stop-color="#db6473"/><stop offset="18.6%" stop-color="#e47f7a"/><stop offset="19.0%" stop-color="#db727c"/><stop offset="19.4%" stop-color="#df7b7d"/><stop offset="19.8%" stop-color="#dd6062"/><stop offset="20.2%" stop-color="#de6869"/><stop offset="20.6%" stop-color="#d46675"/><stop offset="21.0%" stop-color="#d98687"/><stop offset="21.4%" stop-color="#d8717e"/><stop offset="21.8%" stop-color="#e46b65"/><stop offset="22.2%" stop-color="#e2868f"/><stop offset="22.6%" stop-color="#df9699"/><stop offset="23.0%" stop-color="#e38184"/><stop offset="23.4%" stop-color="#d66e7e"/><stop offset="23.8%" stop-color="#e07d84"/><stop offset="24.2%" stop-color="#da7277"/><stop offset="24.6%" stop-color="#d65563"/><stop offset="25.1%" stop-color="#dd676e"/><stop offset="25.5%" stop-color="#d76a6d"/><stop offset="25.9%" stop-color="#dd6f73"/><stop offset="26.3%" stop-color="#e17978"/><stop offset="26.7%" stop-color="#d9646b"/><stop offset="27.1%" stop-color="#e17d80"/><stop offset="27.5%" stop-color="#e08388"/><stop offset="27.9%" stop-color="#d7808c"/><stop offset="28.3%" stop-color="#d75863"/><stop offset="28.7%" stop-color="#dc6660"/><stop offset="29.1%" stop-color="#d97982"/><stop offset="29.5%" stop-color="#da848c"/><stop offset="29.9%" stop-color="#d8717c"/><stop offset="30.3%" stop-color="#de7f8c"/><stop offset="30.7%" stop-color="#db6868"/><stop offset="31.1%" stop-color="#cd5566"/><stop offset="31.5%" stop-color="#d86771"/><stop offset="31.9%" stop-color="#e47679"/><stop offset="32.3%" stop-color="#db6266"/><stop offset="32.7%" stop-color="#d8696a"/><stop offset="33.1%" stop-color="#e07378"/><stop offset="33.5%" stop-color="#d97a84"/><stop offset="33.9%" stop-color="#d86c6b"/><stop offset="34.3%" stop-color="#e47571"/><stop offset="34.7%" stop-color="#df8585"/><stop offset="35.1%" stop-color="#dd8d91"/><stop offset="35.5%" stop-color="#d57e85"/><stop offset="35.9%" stop-color="#d7747f"/><stop offset="36.3%" stop-color="#d47d85"/><stop offset="36.7%" stop-color="#df9491"/><stop offset="37.1%" stop-color="#d591a0"/><stop offset="37.5%" stop-color="#d88182"/><stop offset="37.9%" stop-color="#db9495"/><stop offset="38.3%" stop-color="#d79da8"/><stop offset="38.7%" stop-color="#d094a4"/><stop offset="39.1%" stop-color="#cb97a1"/><stop offset="39.5%" stop-color="#d69da4"/><stop offset="39.9%" stop-color="#d19da6"/><stop offset="40.3%" stop-color="#d0918f"/><stop offset="40.7%" stop-color="#cd889e"/><stop offset="41.1%" stop-color="#d39bab"/><stop offset="41.5%" stop-color="#ceb0bc"/><stop offset="41.9%" stop-color="#c7acc5"/><stop offset="42.3%" stop-color="#d2abbd"/><stop offset="42.7%" stop-color="#ba96b9"/><stop offset="43.1%" stop-color="#c19fb6"/><stop offset="43.5%" stop-color="#bc9fbc"/><stop offset="43.9%" stop-color="#c3acc7"/><stop offset="44.3%" stop-color="#bfa5c1"/><stop offset="44.7%" stop-color="#b9a9c5"/><stop offset="45.1%" stop-color="#bfa6c7"/><stop offset="45.5%" stop-color="#c5afc8"/><stop offset="45.9%" stop-color="#b3a3ca"/><stop offset="46.3%" stop-color="#c1b4ce"/><stop offset="46.7%" stop-color="#ac9bc2"/><stop offset="47.1%" stop-color="#a89acb"/><stop offset="47.5%" stop-color="#a3a0cb"/><stop offset="47.9%" stop-color="#a698d0"/><stop offset="48.3%" stop-color="#9896d0"/><stop offset="48.7%" stop-color="#a2a0dd"/><stop offset="49.1%" stop-color="#a49dd2"/><stop offset="49.5%" stop-color="#9f9bcb"/><stop offset="49.9%" stop-color="#a2a6d6"/><stop offset="50.3%" stop-color="#a7acd6"/><stop offset="50.7%" stop-color="#a9a7da"/><stop offset="51.1%" stop-color="#b3a7d2"/><stop offset="51.5%" stop-color="#a5a9df"/><stop offset="51.9%" stop-color="#969ad7"/><stop offset="52.3%" stop-color="#9b9ece"/><stop offset="52.7%" stop-color="#aaa2cd"/><stop offset="53.1%" stop-color="#9f96cd"/><stop offset="53.5%" stop-color="#898bce"/><stop offset="53.9%" stop-color="#aaa8db"/><stop offset="54.3%" stop-color="#a5aadc"/><stop offset="54.7%" stop-color="#9a99cd"/><stop offset="55.1%" stop-color="#8c95d5"/><stop offset="55.5%" stop-color="#878ed1"/><stop offset="55.9%" stop-color="#798bd6"/><stop offset="56.3%" stop-color="#939fde"/><stop offset="56.7%" stop-color="#a09bcf"/><stop offset="57.1%" stop-color="#a8a3da"/><stop offset="57.5%" stop-color="#9ea7dd"/><stop offset="57.9%" stop-color="#859ae1"/><stop offset="58.3%" stop-color="#7e8dd4"/><stop offset="58.7%" stop-color="#8e94d2"/><stop offset="59.1%" stop-color="#9ea0e0"/><stop offset="59.5%" stop-color="#889be4"/><stop offset="59.9%" stop-color="#898ad1"/><stop offset="60.3%" stop-color="#7e88d1"/><stop offset="60.7%" stop-color="#a3add8"/><stop offset="61.1%" stop-color="#9bafd6"/><stop offset="61.5%" stop-color="#9ba6df"/><stop offset="61.9%" stop-color="#8893d6"/><stop offset="62.3%" stop-color="#999ad4"/><stop offset="62.7%" stop-color="#9498d8"/><stop offset="63.1%" stop-color="#7f89d2"/><stop offset="63.5%" stop-color="#8893d6"/><stop offset="63.9%" stop-color="#8690d9"/><stop offset="64.3%" stop-color="#788ada"/><stop offset="64.7%" stop-color="#7989d5"/><stop offset="65.1%" stop-color="#868fd6"/><stop offset="65.5%" stop-color="#898fd5"/><stop offset="65.9%" stop-color="#868dd5"/><stop offset="66.3%" stop-color="#7b87dc"/><stop offset="66.7%" stop-color="#888fd6"/><stop offset="67.1%" stop-color="#8790d4"/><stop offset="67.5%" stop-color="#6e86dc"/><stop offset="67.9%" stop-color="#7683d1"/><stop offset="68.3%" stop-color="#8d99e2"/><stop offset="68.7%" stop-color="#a3a6d9"/><stop offset="69.1%" stop-color="#989ed6"/><stop offset="69.5%" stop-color="#9da4dd"/><stop offset="69.9%" stop-color="#8d96e0"/><stop offset="70.3%" stop-color="#8697dc"/><stop offset="70.7%" stop-color="#8794d4"/><stop offset="71.1%" stop-color="#7c85d3"/><stop offset="71.5%" stop-color="#7c8cd5"/><stop offset="71.9%" stop-color="#8d99d9"/><stop offset="72.3%" stop-color="#8590d5"/><stop offset="72.7%" stop-color="#929cdc"/><stop offset="73.1%" stop-color="#8890d4"/><stop offset="73.5%" stop-color="#788dd8"/><stop offset="73.9%" stop-color="#7b90d9"/><stop offset="74.3%" stop-color="#9ba3dc"/><stop offset="74.7%" stop-color="#8a98d9"/><stop offset="75.2%" stop-color="#7c8bd9"/><stop offset="75.6%" stop-color="#6b7fd6"/><stop offset="76.0%" stop-color="#9191d3"/><stop offset="76.4%" stop-color="#8390d8"/><stop offset="76.8%" stop-color="#939ee0"/><stop offset="77.2%" stop-color="#99aae5"/><stop offset="77.6%" stop-color="#7c88cf"/><stop offset="78.0%" stop-color="#7586da"/><stop offset="78.4%" stop-color="#7281d2"/><stop offset="78.8%" stop-color="#7487d3"/><stop offset="79.2%" stop-color="#8191d0"/><stop offset="79.6%" stop-color="#7383d6"/><stop offset="80.0%" stop-color="#6880d5"/><stop offset="80.4%" stop-color="#8c93d5"/><stop offset="80.8%" stop-color="#8d99d4"/><stop offset="81.2%" stop-color="#6a7dd4"/><stop offset="81.6%" stop-color="#7c8cd8"/><stop offset="82.0%" stop-color="#8a99d4"/><stop offset="82.4%" stop-color="#8b95d9"/><stop offset="82.8%" stop-color="#9098d8"/><stop offset="83.2%" stop-color="#808ed6"/><stop offset="83.6%" stop-color="#547ae2"/><stop offset="84.0%" stop-color="#6982d6"/><stop offset="84.4%" stop-color="#7189e1"/><stop offset="84.8%" stop-color="#7388d7"/><stop offset="85.2%" stop-color="#748dd6"/><stop offset="85.6%" stop-color="#7e8fdd"/><stop offset="86.0%" stop-color="#8797e4"/><stop offset="86.4%" stop-color="#7a93de"/><stop offset="86.8%" stop-color="#7185d8"/><stop offset="87.2%" stop-color="#7087d5"/><stop offset="87.6%" stop-color="#8091de"/><stop offset="88.0%" stop-color="#6d88e1"/><stop offset="88.4%" stop-color="#647ad8"/><stop offset="88.8%" stop-color="#637bd3"/><stop offset="89.2%" stop-color="#9096d3"/><stop offset="89.6%" stop-color="#8295d4"/><stop offset="90.0%" stop-color="#7f90db"/><stop offset="90.4%" stop-color="#7388db"/><stop offset="90.8%" stop-color="#828bd2"/><stop offset="91.2%" stop-color="#7c8ed6"/><stop offset="91.6%" stop-color="#929edf"/><stop offset="92.0%" stop-color="#637bdb"/><stop offset="92.4%" stop-color="#6f83da"/><stop offset="92.8%" stop-color="#97a2dc"/><stop offset="93.2%" stop-color="#96a9df"/><stop offset="93.6%" stop-color="#8895d8"/><stop offset="94.0%" stop-color="#a0a2d4"/><stop offset="94.4%" stop-color="#8197dd"/><stop offset="94.8%" stop-color="#949edc"/><stop offset="95.2%" stop-color="#919cdb"/><stop offset="95.6%" stop-color="#8aa3dd"/><stop offset="96.0%" stop-color="#8faae7"/><stop offset="96.4%" stop-color="#8ba2de"/><stop offset="96.8%" stop-color="#708ce5"/><stop offset="97.2%" stop-color="#7093dd"/><stop offset="97.6%" stop-color="#809cdd"/><stop offset="98.0%" stop-color="#a0abde"/><stop offset="98.4%" stop-color="#97aee8"/><stop offset="98.8%" stop-color="#96b0e7"/><stop offset="99.2%" stop-color="#759be9"/><stop offset="99.6%" stop-color="#84a5e5"/><stop offset="100.0%" stop-color="#9fafe2"/></linearGradient>
<linearGradient id="h5" x1="0" y1="0" x2="0" y2="1"><stop offset="0.2%" stop-color="#df868b"/><stop offset="0.6%" stop-color="#dc7f80"/><stop offset="1.0%" stop-color="#e66565"/><stop offset="1.4%" stop-color="#e66e70"/><stop offset="1.8%" stop-color="#da8f96"/><stop offset="2.2%" stop-color="#e18b95"/><stop offset="2.6%" stop-color="#e16c74"/><stop offset="3.0%" stop-color="#df7a7b"/><stop offset="3.4%" stop-color="#e28483"/><stop offset="3.8%" stop-color="#e09594"/><stop offset="4.2%" stop-color="#e88989"/><stop offset="4.6%" stop-color="#de8287"/><stop offset="5.0%" stop-color="#db7885"/><stop offset="5.4%" stop-color="#da8998"/><stop offset="5.8%" stop-color="#e89a98"/><stop offset="6.2%" stop-color="#e29ba1"/><stop offset="6.6%" stop-color="#ec888b"/><stop offset="7.0%" stop-color="#db898c"/><stop offset="7.4%" stop-color="#e3848b"/><stop offset="7.8%" stop-color="#e09ba1"/><stop offset="8.2%" stop-color="#e29b9b"/><stop offset="8.6%" stop-color="#e28f91"/><stop offset="9.0%" stop-color="#e58d96"/><stop offset="9.4%" stop-color="#e88f95"/><stop offset="9.8%" stop-color="#ea9091"/><stop offset="10.2%" stop-color="#e87c82"/><stop offset="10.6%" stop-color="#db878e"/><stop offset="11.0%" stop-color="#e2a2aa"/><stop offset="11.4%" stop-color="#e78b95"/><stop offset="11.8%" stop-color="#e39ba3"/><stop offset="12.2%" stop-color="#ea9ea1"/><stop offset="12.6%" stop-color="#ec999e"/><stop offset="13.0%" stop-color="#e39190"/><stop offset="13.4%" stop-color="#e18796"/><stop offset="13.8%" stop-color="#e59595"/><stop offset="14.2%" stop-color="#e2a3a9"/><stop offset="14.6%" stop-color="#e6a2a9"/><stop offset="15.0%" stop-color="#df94a0"/><stop offset="15.4%" stop-color="#dfa2a9"/><stop offset="15.8%" stop-color="#dd949a"/><stop offset="16.2%" stop-color="#dd9aa1"/><stop offset="16.6%" stop-color="#db9eaa"/><stop offset="17.0%" stop-color="#df9da6"/><stop offset="17.4%" stop-color="#e0a3ab"/><stop offset="17.8%" stop-color="#e5a7ac"/><stop offset="18.2%" stop-color="#e2a4aa"/><stop offset="18.6%" stop-color="#e0a3a9"/><stop offset="19.0%" stop-color="#d79eae"/><stop offset="19.4%" stop-color="#e1abb3"/><stop offset="19.8%" stop-color="#e3b3b4"/><stop offset="20.2%" stop-color="#e5b4b8"/><stop offset="20.6%" stop-color="#d6aebd"/><stop offset="21.0%" stop-color="#d7b2c0"/><stop offset="21.4%" stop-color="#dfa4a6"/><stop offset="21.8%" stop-color="#e9abb3"/><stop offset="22.2%" stop-color="#dcb8bd"/><stop offset="22.6%" stop-color="#dbb6c3"/><stop offset="23.0%" stop-color="#d6aeb9"/><stop offset="23.4%" stop-color="#d7afb7"/><stop offset="23.8%" stop-color="#e2bbbc"/><stop offset="24.2%" stop-color="#cfa4b2"/><stop offset="24.6%" stop-color="#d2a7be"/><stop offset="25.1%" stop-color="#d9b0b2"/><stop offset="25.5%" stop-color="#d9aeb8"/><stop offset="25.9%" stop-color="#d4b3c1"/><stop offset="26.3%" stop-color="#dcb9ca"/><stop offset="26.7%" stop-color="#d3b0bf"/><stop offset="27.1%" stop-color="#dcbac2"/><stop offset="27.5%" stop-color="#e1bfc8"/><stop offset="27.9%" stop-color="#d6b5c5"/><stop offset="28.3%" stop-color="#cfa9bb"/><stop offset="28.7%" stop-color="#d3adbd"/><stop offset="29.1%" stop-color="#d6bac5"/><stop offset="29.5%" stop-color="#cab1c8"/><stop offset="29.9%" stop-color="#cdb9cf"/><stop offset="30.3%" stop-color="#cdb6c9"/><stop offset="30.7%" stop-color="#cdafc0"/><stop offset="31.1%" stop-color="#c3b5cb"/><stop offset="31.5%" stop-color="#c9b7d2"/><stop offset="31.9%" stop-color="#ccb5c7"/><stop offset="32.3%" stop-color="#cab0c8"/><stop offset="32.7%" stop-color="#c9bdd6"/><stop offset="33.1%" stop-color="#cabdd0"/><stop offset="33.5%" stop-color="#ccbbd2"/><stop offset="33.9%" stop-color="#c3b4ce"/><stop offset="34.3%" stop-color="#c0bacd"/><stop offset="34.7%" stop-color="#b9adce"/><stop offset="35.1%" stop-color="#c7c3d7"/><stop offset="35.5%" stop-color="#bfc2d8"/><stop offset="35.9%" stop-color="#babdd7"/><stop offset="36.3%" stop-color="#c2c4d8"/><stop offset="36.7%" stop-color="#babdda"/><stop offset="37.1%" stop-color="#babde6"/><stop offset="37.5%" stop-color="#b6bcdd"/><stop offset="37.9%" stop-color="#b1badf"/><stop offset="38.3%" stop-color="#aeb5de"/><stop offset="38.7%" stop-color="#b6beda"/><stop offset="39.1%" stop-color="#bebad8"/><stop offset="39.5%" stop-color="#c7c2d8"/><stop offset="39.9%" stop-color="#bbc6e0"/><stop offset="40.3%" stop-color="#adb4d9"/><stop offset="40.7%" stop-color="#b4b8d3"/><stop offset="41.1%" stop-color="#bdc0d9"/><stop offset="41.5%" stop-color="#c0c5db"/><stop offset="41.9%" stop-color="#bcc6df"/><stop offset="42.3%" stop-color="#b8bfe2"/><stop offset="42.7%" stop-color="#a3b7e4"/><stop offset="43.1%" stop-color="#b5bee2"/><stop offset="43.5%" stop-color="#a6b8ef"/><stop offset="43.9%" stop-color="#aebbe7"/><stop offset="44.3%" stop-color="#bac2e5"/><stop offset="44.7%" stop-color="#b6c4e7"/><stop offset="45.1%" stop-color="#b4bfdf"/><stop offset="45.5%" stop-color="#bebeda"/><stop offset="45.9%" stop-color="#b7bcdd"/><stop offset="46.3%" stop-color="#bac5e5"/><stop offset="46.7%" stop-color="#adb5d6"/><stop offset="47.1%" stop-color="#9eb5e1"/><stop offset="47.5%" stop-color="#acbae3"/><stop offset="47.9%" stop-color="#a4b3d8"/><stop offset="48.3%" stop-color="#acbfe6"/><stop offset="48.7%" stop-color="#b4c5e8"/><stop offset="49.1%" stop-color="#afb9de"/><stop offset="49.5%" stop-color="#afbbe3"/><stop offset="49.9%" stop-color="#bac9e7"/><stop offset="50.3%" stop-color="#c2c7e1"/><stop offset="50.7%" stop-color="#aeb7dd"/><stop offset="51.1%" stop-color="#a5bfe4"/><stop offset="51.5%" stop-color="#a7bfea"/><stop offset="51.9%" stop-color="#a0bbe5"/><stop offset="52.3%" stop-color="#bfc5df"/><stop offset="52.7%" stop-color="#b6bcdf"/><stop offset="53.1%" stop-color="#a2bbde"/><stop offset="53.5%" stop-color="#9cbfe3"/><stop offset="53.9%" stop-color="#acc1e5"/><stop offset="54.3%" stop-color="#a4bde6"/><stop offset="54.7%" stop-color="#a1b7df"/><stop offset="55.1%" stop-color="#97bae6"/><stop offset="55.5%" stop-color="#9fb7e1"/><stop offset="55.9%" stop-color="#9fbce4"/><stop offset="56.3%" stop-color="#bac7e7"/><stop offset="56.7%" stop-color="#bfc9e3"/><stop offset="57.1%" stop-color="#b6c7e8"/><stop offset="57.5%" stop-color="#b1c5ea"/><stop offset="57.9%" stop-color="#9ebce7"/><stop offset="58.3%" stop-color="#a2bbe2"/><stop offset="58.7%" stop-color="#9db8e1"/><stop offset="59.1%" stop-color="#9cc0e9"/><stop offset="59.5%" stop-color="#a4c4f0"/><stop offset="59.9%" stop-color="#a3bce2"/><stop offset="60.3%" stop-color="#94b9e6"/><stop offset="60.7%" stop-color="#a9c6e6"/><stop offset="61.1%" stop-color="#b3c8e9"/><stop offset="61.5%" stop-color="#abc4e5"/><stop offset="61.9%" stop-color="#a4c0e8"/><stop offset="62.3%" stop-color="#9abde2"/><stop offset="62.7%" stop-color="#a3c3e8"/><stop offset="63.1%" stop-color="#8cbbe4"/><stop offset="63.5%" stop-color="#8eb3e8"/><stop offset="63.9%" stop-color="#a1bde7"/><stop offset="64.3%" stop-color="#9dc3eb"/><stop offset="64.7%" stop-color="#96bae2"/><stop offset="65.1%" stop-color="#a0bde7"/><stop offset="65.5%" stop-color="#9fc1e7"/><stop offset="65.9%" stop-color="#8ab7eb"/><stop offset="66.3%" stop-color="#95bef0"/><stop offset="66.7%" stop-color="#a1b9e5"/><stop offset="67.1%" stop-color="#a1bbe8"/><stop offset="67.5%" stop-color="#9dbae4"/><stop offset="67.9%" stop-color="#a4c4e7"/><stop offset="68.3%" stop-color="#a1c4f2"/><stop offset="68.7%" stop-color="#a4c0ee"/><stop offset="69.1%" stop-color="#9ebee7"/><stop offset="69.5%" stop-color="#afc8e1"/><stop offset="69.9%" stop-color="#9abee9"/><stop offset="70.3%" stop-color="#a2c1f2"/><stop offset="70.7%" stop-color="#93bbe8"/><stop offset="71.1%" stop-color="#9ec1ed"/><stop offset="71.5%" stop-color="#a4c4e8"/><stop offset="71.9%" stop-color="#9fbfe0"/><stop offset="72.3%" stop-color="#a2c6ec"/><stop offset="72.7%" stop-color="#a6bdea"/><stop offset="73.1%" stop-color="#99c4e6"/><stop offset="73.5%" stop-color="#8ab7f0"/><stop offset="73.9%" stop-color="#b1c6ec"/><stop offset="74.3%" stop-color="#becae3"/><stop offset="74.7%" stop-color="#a0c1e5"/><stop offset="75.2%" stop-color="#86baeb"/><stop offset="75.6%" stop-color="#95bce6"/><stop offset="76.0%" stop-color="#aac1e7"/><stop offset="76.4%" stop-color="#94c0f3"/><stop offset="76.8%" stop-color="#86baf6"/><stop offset="77.2%" stop-color="#a8c9ee"/><stop offset="77.6%" stop-color="#afc0e4"/><stop offset="78.0%" stop-color="#b1c2e9"/><stop offset="78.4%" stop-color="#a7c4e4"/><stop offset="78.8%" stop-color="#88b8e8"/><stop offset="79.2%" stop-color="#9fc0e6"/><stop offset="79.6%" stop-color="#82b9f2"/><stop offset="80.0%" stop-color="#8dbfef"/><stop offset="80.4%" stop-color="#9ec1ea"/><stop offset="80.8%" stop-color="#96bfe7"/><stop offset="81.2%" stop-color="#89b9f0"/><stop offset="81.6%" stop-color="#8dbcf3"/><stop offset="82.0%" stop-color="#9dc2f2"/><stop offset="82.4%" stop-color="#aec9ea"/><stop offset="82.8%" stop-color="#9abfe7"/><stop offset="83.2%" stop-color="#96c1e6"/><stop offset="83.6%" stop-color="#83b6f6"/><stop offset="84.0%" stop-color="#98c0e8"/><stop offset="84.4%" stop-color="#8ebdf2"/><stop offset="84.8%" stop-color="#8ab9ea"/><stop offset="85.2%" stop-color="#87bae9"/><stop offset="85.6%" stop-color="#a1c4ea"/><stop offset="86.0%" stop-color="#92bfeb"/><stop offset="86.4%" stop-color="#94bcee"/><stop offset="86.8%" stop-color="#9bbfed"/><stop offset="87.2%" stop-color="#8dbde9"/><stop offset="87.6%" stop-color="#95c2e9"/><stop offset="88.0%" stop-color="#8cc0f0"/><stop offset="88.4%" stop-color="#92bee6"/><stop offset="88.8%" stop-color="#99b9e1"/><stop offset="89.2%" stop-color="#b1cfe9"/><stop offset="89.6%" stop-color="#99c5ee"/><stop offset="90.0%" stop-color="#91bee5"/><stop offset="90.4%" stop-color="#9dc5e5"/><stop offset="90.8%" stop-color="#96bbe6"/><stop offset="91.2%" stop-color="#a2bfe3"/><stop offset="91.6%" stop-color="#a7c9ed"/><stop offset="92.0%" stop-color="#90bbee"/><stop offset="92.4%" stop-color="#8cb9ee"/><stop offset="92.8%" stop-color="#9dc3ea"/><stop offset="93.2%" stop-color="#adcbeb"/><stop offset="93.6%" stop-color="#9cc6e8"/><stop offset="94.0%" stop-color="#a5c5e7"/><stop offset="94.4%" stop-color="#a2c6f0"/><stop offset="94.8%" stop-color="#a6c7f1"/><stop offset="95.2%" stop-color="#a4c6e4"/><stop offset="95.6%" stop-color="#96c1f2"/><stop offset="96.0%" stop-color="#a0c5ec"/><stop offset="96.4%" stop-color="#93c2ea"/><stop offset="96.8%" stop-color="#7db9f4"/><stop offset="97.2%" stop-color="#89bbed"/><stop offset="97.6%" stop-color="#91bde4"/><stop offset="98.0%" stop-color="#9abce8"/><stop offset="98.4%" stop-color="#8dbced"/><stop offset="98.8%" stop-color="#8cbbf1"/><stop offset="99.2%" stop-color="#93c0e9"/><stop offset="99.6%" stop-color="#93c2f3"/><stop offset="100.0%" stop-color="#a4c1e9"/></linearGradient>
<linearGradient id="h6" x1="0" y1="0" x2="0" y2="1"><stop offset="0.2%" stop-color="#94c1ea"/><stop offset="0.6%" stop-color="#8dbbea"/><stop offset="1.0%" stop-color="#a5bfe2"/><stop offset="1.4%" stop-color="#a3bde1"/><stop offset="1.8%" stop-color="#a5c1e4"/><stop offset="2.2%" stop-color="#9ebfe4"/><stop offset="2.6%" stop-color="#8cb7e0"/><stop offset="3.0%" stop-color="#98bee8"/><stop offset="3.4%" stop-color="#8eb6ec"/><stop offset="3.8%" stop-color="#a8c3e6"/><stop offset="4.2%" stop-color="#b5c7e9"/><stop offset="4.6%" stop-color="#9fbdde"/><stop offset="5.0%" stop-color="#95b0df"/><stop offset="5.4%" stop-color="#9cbcee"/><stop offset="5.8%" stop-color="#afc4ec"/><stop offset="6.2%" stop-color="#a9c2ea"/><stop offset="6.6%" stop-color="#8fb8ef"/><stop offset="7.0%" stop-color="#a9bfe4"/><stop offset="7.4%" stop-color="#b0c2e6"/><stop offset="7.8%" stop-color="#a0bee9"/><stop offset="8.2%" stop-color="#9bbde9"/><stop offset="8.6%" stop-color="#99b5e9"/><stop offset="9.0%" stop-color="#9eb6ed"/><stop offset="9.4%" stop-color="#99b1e7"/><stop offset="9.8%" stop-color="#a6b4da"/><stop offset="10.2%" stop-color="#b8c4e0"/><stop offset="10.6%" stop-color="#b1c0e5"/><stop offset="11.0%" stop-color="#9cb8e8"/><stop offset="11.4%" stop-color="#a7b5db"/><stop offset="11.8%" stop-color="#8ab2e7"/><stop offset="12.2%" stop-color="#a8bde6"/><stop offset="12.6%" stop-color="#b3c6e8"/><stop offset="13.0%" stop-color="#a5c0e8"/><stop offset="13.4%" stop-color="#9cb6e9"/><stop offset="13.8%" stop-color="#92afe2"/><stop offset="14.2%" stop-color="#aebfe4"/><stop offset="14.6%" stop-color="#b1c4e3"/><stop offset="15.0%" stop-color="#a9bce2"/><stop offset="15.4%" stop-color="#9ab4e2"/><stop offset="15.8%" stop-color="#a9b7e1"/><stop offset="16.2%" stop-color="#b7c4e3"/><stop offset="16.6%" stop-color="#9db6e2"/><stop offset="17.0%" stop-color="#a4bbe5"/><stop offset="17.4%" stop-color="#bac7e5"/><stop offset="17.8%" stop-color="#b7c4e8"/><stop offset="18.2%" stop-color="#9ab4e3"/><stop offset="18.6%" stop-color="#93b2dd"/><stop offset="19.0%" stop-color="#8aabe6"/><stop offset="19.4%" stop-color="#b3badc"/><stop offset="19.8%" stop-color="#a0b7e5"/><stop offset="20.2%" stop-color="#90b0e6"/><stop offset="20.6%" stop-color="#a3b5e9"/><stop offset="21.0%" stop-color="#adb6e0"/><stop offset="21.4%" stop-color="#b0bde0"/><stop offset="21.8%" stop-color="#b8b8da"/><stop offset="22.2%" stop-color="#b2b6dc"/><stop offset="22.6%" stop-color="#acb7da"/><stop offset="23.0%" stop-color="#a5b4dd"/><stop offset="23.4%" stop-color="#b5badd"/><stop offset="23.8%" stop-color="#b6bde1"/><stop offset="24.2%" stop-color="#9dabd6"/><stop offset="24.6%" stop-color="#a0b1e1"/><stop offset="25.1%" stop-color="#90a6e0"/><stop offset="25.5%" stop-color="#9bb0e9"/><stop offset="25.9%" stop-color="#aabae2"/><stop offset="26.3%" stop-color="#b3bae0"/><stop offset="26.7%" stop-color="#b0bedf"/><stop offset="27.1%" stop-color="#99ade4"/><stop offset="27.5%" stop-color="#a4acda"/><stop offset="27.9%" stop-color="#b1b9e3"/><stop offset="28.3%" stop-color="#b7bee3"/><stop offset="28.7%" stop-color="#afb2df"/><stop offset="29.1%" stop-color="#a6b1d8"/><stop offset="29.5%" stop-color="#9aa7e3"/><stop offset="29.9%" stop-color="#a5ade2"/><stop offset="30.3%" stop-color="#a0ade4"/><stop offset="30.7%" stop-color="#b4b9e3"/><stop offset="31.1%" stop-color="#a3abdb"/><stop offset="31.5%" stop-color="#b3b7e3"/><stop offset="31.9%" stop-color="#adb4e2"/><stop offset="32.3%" stop-color="#acb1e3"/><stop offset="32.7%" stop-color="#b7bee1"/><stop offset="33.1%" stop-color="#babbe1"/><stop offset="33.5%" stop-color="#b9bcdb"/><stop offset="33.9%" stop-color="#b8c3de"/><stop offset="34.3%" stop-color="#a7b2d8"/><stop offset="34.7%" stop-color="#9aade2"/><stop offset="35.1%" stop-color="#a9afdf"/><stop offset="35.5%" stop-color="#a5aee6"/><stop offset="35.9%" stop-color="#b5a9d1"/><stop offset="36.3%" stop-color="#b1a8d2"/><stop offset="36.7%" stop-color="#beaed7"/><stop offset="37.1%" stop-color="#c6b3d1"/><stop offset="37.5%" stop-color="#bdaacb"/><stop offset="37.9%" stop-color="#c49db9"/><stop offset="38.3%" stop-color="#c394b1"/><stop offset="38.7%" stop-color="#bb84a3"/><stop offset="39.1%" stop-color="#cc8990"/><stop offset="39.5%" stop-color="#cb99ab"/><stop offset="39.9%" stop-color="#d598a1"/><stop offset="40.3%" stop-color="#cb8fa0"/><stop offset="40.7%" stop-color="#d08f96"/><stop offset="41.1%" stop-color="#d47f85"/><stop offset="41.5%" stop-color="#cd868f"/><stop offset="41.9%" stop-color="#ce8896"/><stop offset="42.3%" stop-color="#cd95ab"/><stop offset="42.7%" stop-color="#d09fb2"/><stop offset="43.1%" stop-color="#d48895"/><stop offset="43.5%" stop-color="#d48c91"/><stop offset="43.9%" stop-color="#cc8793"/><stop offset="44.3%" stop-color="#db989c"/><stop offset="44.7%" stop-color="#d1797e"/><stop offset="45.1%" stop-color="#d2666f"/><stop offset="45.5%" stop-color="#d17277"/><stop offset="45.9%" stop-color="#d88084"/><stop offset="46.3%" stop-color="#df9098"/><stop offset="46.7%" stop-color="#da919a"/><stop offset="47.1%" stop-color="#db8384"/><stop offset="47.5%" stop-color="#db8a8e"/><stop offset="47.9%" stop-color="#d88997"/><stop offset="48.3%" stop-color="#d57684"/><stop offset="48.7%" stop-color="#d36a74"/><stop offset="49.1%" stop-color="#cb6580"/><stop offset="49.5%" stop-color="#cf6e7c"/><stop offset="49.9%" stop-color="#d38393"/><stop offset="50.3%" stop-color="#d58493"/><stop offset="50.7%" stop-color="#d6838e"/><stop offset="51.1%" stop-color="#d58a98"/><stop offset="51.5%" stop-color="#dd7f8c"/><stop offset="51.9%" stop-color="#d86f76"/><stop offset="52.3%" stop-color="#d5757d"/><stop offset="52.7%" stop-color="#d55e62"/><stop offset="53.1%" stop-color="#d3686e"/><stop offset="53.5%" stop-color="#d1647b"/><stop offset="53.9%" stop-color="#d97077"/><stop offset="54.3%" stop-color="#d3666a"/><stop offset="54.7%" stop-color="#d67482"/><stop offset="55.1%" stop-color="#d68888"/><stop offset="55.5%" stop-color="#df7478"/><stop offset="55.9%" stop-color="#e1818a"/><stop offset="56.3%" stop-color="#d15f67"/><stop offset="56.7%" stop-color="#db767c"/><stop offset="57.1%" stop-color="#d9828b"/><stop offset="57.5%" stop-color="#e08993"/><stop offset="57.9%" stop-color="#d57c8a"/><stop offset="58.3%" stop-color="#d77e8d"/><stop offset="58.7%" stop-color="#d68c92"/><stop offset="59.1%" stop-color="#dc7581"/><stop offset="59.5%" stop-color="#d0525f"/><stop offset="59.9%" stop-color="#dc7a86"/><stop offset="60.3%" stop-color="#df7c82"/><stop offset="60.7%" stop-color="#da7a82"/><stop offset="61.1%" stop-color="#da5560"/><stop offset="61.5%" stop-color="#dc6c7a"/><stop offset="61.9%" stop-color="#de7f89"/><stop offset="62.3%" stop-color="#e37d7f"/><stop offset="62.7%" stop-color="#e06873"/><stop offset="63.1%" stop-color="#dd6869"/><stop offset="63.5%" stop-color="#d5758c"/><stop offset="63.9%" stop-color="#d6727f"/><stop offset="64.3%" stop-color="#d85562"/><stop offset="64.7%" stop-color="#df7579"/><stop offset="65.1%" stop-color="#dc767c"/><stop offset="65.5%" stop-color="#da777b"/><stop offset="65.9%" stop-color="#e07174"/><stop offset="66.3%" stop-color="#e56465"/><stop offset="66.7%" stop-color="#e0686a"/><stop offset="67.1%" stop-color="#d75c61"/><stop offset="67.5%" stop-color="#da686f"/><stop offset="67.9%" stop-color="#de676f"/><stop offset="68.3%" stop-color="#d96673"/><stop offset="68.7%" stop-color="#df6d6d"/><stop offset="69.1%" stop-color="#e2716e"/><stop offset="69.5%" stop-color="#e27d7d"/><stop offset="69.9%" stop-color="#dd6470"/><stop offset="70.3%" stop-color="#e47b84"/><stop offset="70.7%" stop-color="#dc6c76"/><stop offset="71.1%" stop-color="#db7785"/><stop offset="71.5%" stop-color="#e27679"/><stop offset="71.9%" stop-color="#d3647b"/><stop offset="72.3%" stop-color="#d86a71"/><stop offset="72.7%" stop-color="#d5555f"/><stop offset="73.1%" stop-color="#d25a60"/><stop offset="73.5%" stop-color="#da646e"/><stop offset="73.9%" stop-color="#e47781"/><stop offset="74.3%" stop-color="#d27886"/><stop offset="74.7%" stop-color="#e29c9e"/><stop offset="75.2%" stop-color="#d97f89"/><stop offset="75.6%" stop-color="#d56372"/><stop offset="76.0%" stop-color="#e06b73"/><stop offset="76.4%" stop-color="#d9585f"/><stop offset="76.8%" stop-color="#dc8d98"/><stop offset="77.2%" stop-color="#d78f98"/><stop offset="77.6%" stop-color="#e09098"/><stop offset="78.0%" stop-color="#d97f89"/><stop offset="78.4%" stop-color="#db737a"/><stop offset="78.8%" stop-color="#d890a1"/><stop offset="79.2%" stop-color="#d9848e"/><stop offset="79.6%" stop-color="#dc7d83"/><stop offset="80.0%" stop-color="#de797c"/><stop offset="80.4%" stop-color="#e07f8b"/><stop offset="80.8%" stop-color="#d87a8c"/><stop offset="81.2%" stop-color="#dd828a"/><stop offset="81.6%" stop-color="#e4868a"/><stop offset="82.0%" stop-color="#d57d8a"/><stop offset="82.4%" stop-color="#e27070"/><stop offset="82.8%" stop-color="#e17577"/><stop offset="83.2%" stop-color="#e07679"/><stop offset="83.6%" stop-color="#de7b7e"/><stop offset="84.0%" stop-color="#d2606d"/><stop offset="84.4%" stop-color="#d8656a"/><stop offset="84.8%" stop-color="#db666b"/><stop offset="85.2%" stop-color="#da7780"/><stop offset="85.6%" stop-color="#d46577"/><stop offset="86.0%" stop-color="#d78792"/><stop offset="86.4%" stop-color="#dd979d"/><stop offset="86.8%" stop-color="#e0727a"/><stop offset="87.2%" stop-color="#dc797f"/><stop offset="87.6%" stop-color="#e29193"/><stop offset="88.0%" stop-color="#df8991"/><stop offset="88.4%" stop-color="#d87d85"/><stop offset="88.8%" stop-color="#e17576"/><stop offset="89.2%" stop-color="#e88183"/><stop offset="89.6%" stop-color="#de6a72"/><stop offset="90.0%" stop-color="#d8787f"/><stop offset="90.4%" stop-color="#e56d6f"/><stop offset="90.8%" stop-color="#dd7e7f"/><stop offset="91.2%" stop-color="#da757b"/><stop offset="91.6%" stop-color="#de7b7e"/><stop offset="92.0%" stop-color="#dd939a"/><stop offset="92.4%" stop-color="#df9aa3"/><stop offset="92.8%" stop-color="#e6797e"/><stop offset="93.2%" stop-color="#e07372"/><stop offset="93.6%" stop-color="#d57a86"/><stop offset="94.0%" stop-color="#dc7576"/><stop offset="94.4%" stop-color="#d26d7a"/><stop offset="94.8%" stop-color="#db8691"/><stop offset="95.2%" stop-color="#dc6f73"/><stop offset="95.6%" stop-color="#db5f66"/><stop offset="96.0%" stop-color="#da7882"/><stop offset="96.4%" stop-color="#e29297"/><stop offset="96.8%" stop-color="#e57b7b"/><stop offset="97.2%" stop-color="#da6c7b"/><stop offset="97.6%" stop-color="#d5808f"/><stop offset="98.0%" stop-color="#de838b"/><stop offset="98.4%" stop-color="#d97787"/><stop offset="98.8%" stop-color="#d6818b"/><stop offset="99.2%" stop-color="#dd7e82"/><stop offset="99.6%" stop-color="#e26d73"/><stop offset="100.0%" stop-color="#db737f"/></linearGradient>
<linearGradient id="h7" x1="0" y1="0" x2="0" y2="1"><stop offset="0.2%" stop-color="#9ac1e9"/><stop offset="0.6%" stop-color="#96baed"/><stop offset="1.0%" stop-color="#82b2ea"/><stop offset="1.4%" stop-color="#98bae4"/><stop offset="1.8%" stop-color="#a0c0e6"/><stop offset="2.2%" stop-color="#a5bce3"/><stop offset="2.6%" stop-color="#7cb0e8"/><stop offset="3.0%" stop-color="#8cb8e4"/><stop offset="3.4%" stop-color="#89b7e8"/><stop offset="3.8%" stop-color="#9db6e2"/><stop offset="4.2%" stop-color="#aebae2"/><stop offset="4.6%" stop-color="#98b7e4"/><stop offset="5.0%" stop-color="#89afde"/><stop offset="5.4%" stop-color="#81b0e9"/><stop offset="5.8%" stop-color="#9fbde6"/><stop offset="6.2%" stop-color="#94b6e7"/><stop offset="6.6%" stop-color="#8bb3e7"/><stop offset="7.0%" stop-color="#8cb2ec"/><stop offset="7.4%" stop-color="#99b7e5"/><stop offset="7.8%" stop-color="#9eb2e3"/><stop offset="8.2%" stop-color="#8cb3e2"/><stop offset="8.6%" stop-color="#87b2e5"/><stop offset="9.0%" stop-color="#9ab7e1"/><stop offset="9.4%" stop-color="#9db8df"/><stop offset="9.8%" stop-color="#9ab5df"/><stop offset="10.2%" stop-color="#9abbe3"/><stop offset="10.6%" stop-color="#93b3e4"/><stop offset="11.0%" stop-color="#89b4ea"/><stop offset="11.4%" stop-color="#85abd9"/><stop offset="11.8%" stop-color="#98b5e6"/><stop offset="12.2%" stop-color="#a2b8e3"/><stop offset="12.6%" stop-color="#a0bbe6"/><stop offset="13.0%" stop-color="#a4bce7"/><stop offset="13.4%" stop-color="#91b3dc"/><stop offset="13.8%" stop-color="#87ace8"/><stop offset="14.2%" stop-color="#8eb2ed"/><stop offset="14.6%" stop-color="#a4bce3"/><stop offset="15.0%" stop-color="#90b8f0"/><stop offset="15.4%" stop-color="#8ba9dc"/><stop offset="15.8%" stop-color="#98aedf"/><stop offset="16.2%" stop-color="#95b6e7"/><stop offset="16.6%" stop-color="#92a9e3"/><stop offset="17.0%" stop-color="#9db7e4"/><stop offset="17.4%" stop-color="#aabfe7"/><stop offset="17.8%" stop-color="#a9c3e9"/><stop offset="18.2%" stop-color="#9dbbe5"/><stop offset="18.6%" stop-color="#89aae0"/><stop offset="19.0%" stop-color="#8eaeeb"/><stop offset="19.4%" stop-color="#b2c2e4"/><stop offset="19.8%" stop-color="#b0c0e1"/><stop offset="20.2%" stop-color="#8fade9"/><stop offset="20.6%" stop-color="#90b0e8"/><stop offset="21.0%" stop-color="#a6b8e0"/><stop offset="21.4%" stop-color="#a5b6e2"/><stop offset="21.8%" stop-color="#aeb3d9"/><stop offset="22.2%" stop-color="#babdd7"/><stop offset="22.6%" stop-color="#b5c1e2"/><stop offset="23.0%" stop-color="#aabbdc"/><stop offset="23.4%" stop-color="#aabbde"/><stop offset="23.8%" stop-color="#aec0e9"/><stop offset="24.2%" stop-color="#95adde"/><stop offset="24.6%" stop-color="#8fade5"/><stop offset="25.1%" stop-color="#8face6"/><stop offset="25.5%" stop-color="#99aee9"/><stop offset="25.9%" stop-color="#a2b5e0"/><stop offset="26.3%" stop-color="#9faadc"/><stop offset="26.7%" stop-color="#aab9e0"/><stop offset="27.1%" stop-color="#8ca8e5"/><stop offset="27.5%" stop-color="#96a7d8"/><stop offset="27.9%" stop-color="#a7b4dd"/><stop offset="28.3%" stop-color="#b0bae1"/><stop offset="28.7%" stop-color="#a8b1e2"/><stop offset="29.1%" stop-color="#9faedd"/><stop offset="29.5%" stop-color="#91a8e3"/><stop offset="29.9%" stop-color="#9eb0dd"/><stop offset="30.3%" stop-color="#9ab3e7"/><stop offset="30.7%" stop-color="#9dace0"/><stop offset="31.1%" stop-color="#96a4d6"/><stop offset="31.5%" stop-color="#a0a9db"/><stop offset="31.9%" stop-color="#96a6de"/><stop offset="32.3%" stop-color="#9fafe0"/><stop offset="32.7%" stop-color="#acbde8"/><stop offset="33.1%" stop-color="#bac0df"/><stop offset="33.5%" stop-color="#aeaed5"/><stop offset="33.9%" stop-color="#a1abdd"/><stop offset="34.3%" stop-color="#90a6da"/><stop offset="34.7%" stop-color="#98a7e0"/><stop offset="35.1%" stop-color="#91a9e6"/><stop offset="35.5%" stop-color="#9eaae3"/><stop offset="35.9%" stop-color="#a3a1d5"/><stop offset="36.3%" stop-color="#a8a7d4"/><stop offset="36.7%" stop-color="#b4accf"/><stop offset="37.1%" stop-color="#b1a6d4"/><stop offset="37.5%" stop-color="#a99ccf"/><stop offset="37.9%" stop-color="#be9fbe"/><stop offset="38.3%" stop-color="#c6a0bf"/><stop offset="38.7%" stop-color="#bf8cb0"/><stop offset="39.1%" stop-color="#bb8ca5"/><stop offset="39.5%" stop-color="#c18fad"/><stop offset="39.9%" stop-color="#ca9397"/><stop offset="40.3%" stop-color="#ce949c"/><stop offset="40.7%" stop-color="#c67d89"/><stop offset="41.1%" stop-color="#c67e86"/><stop offset="41.5%" stop-color="#d08a91"/><stop offset="41.9%" stop-color="#cc9aa5"/><stop offset="42.3%" stop-color="#c18796"/><stop offset="42.7%" stop-color="#cb9eb2"/><stop offset="43.1%" stop-color="#ddaeac"/><stop offset="43.5%" stop-color="#d59298"/><stop offset="43.9%" stop-color="#d38f9d"/><stop offset="44.3%" stop-color="#d5959b"/><stop offset="44.7%" stop-color="#d38990"/><stop offset="45.1%" stop-color="#cc7a84"/><stop offset="45.5%" stop-color="#ce7f84"/><stop offset="45.9%" stop-color="#d28996"/><stop offset="46.3%" stop-color="#d39497"/><stop offset="46.7%" stop-color="#e4908e"/><stop offset="47.1%" stop-color="#d57575"/><stop offset="47.5%" stop-color="#d2919e"/><stop offset="47.9%" stop-color="#d4818a"/><stop offset="48.3%" stop-color="#d27981"/><stop offset="48.7%" stop-color="#da7786"/><stop offset="49.1%" stop-color="#d36f7b"/><stop offset="49.5%" stop-color="#d2777b"/><stop offset="49.9%" stop-color="#cf8497"/><stop offset="50.3%" stop-color="#d2808c"/><stop offset="50.7%" stop-color="#d3808d"/><stop offset="51.1%" stop-color="#d7939d"/><stop offset="51.5%" stop-color="#e09198"/><stop offset="51.9%" stop-color="#d6737b"/><stop offset="52.3%" stop-color="#da8690"/><stop offset="52.7%" stop-color="#e08184"/><stop offset="53.1%" stop-color="#da7f87"/><stop offset="53.5%" stop-color="#d68b97"/><stop offset="53.9%" stop-color="#d7858d"/><stop offset="54.3%" stop-color="#d5757a"/><stop offset="54.7%" stop-color="#d88ea3"/><stop offset="55.1%" stop-color="#d68294"/><stop offset="55.5%" stop-color="#da9290"/><stop offset="55.9%" stop-color="#df8891"/><stop offset="56.3%" stop-color="#d47980"/><stop offset="56.7%" stop-color="#d8989e"/><stop offset="57.1%" stop-color="#dea7a9"/><stop offset="57.5%" stop-color="#dc989a"/><stop offset="57.9%" stop-color="#e29a9b"/><stop offset="58.3%" stop-color="#dd9eae"/><stop offset="58.7%" stop-color="#d58b96"/><stop offset="59.1%" stop-color="#d27985"/><stop offset="59.5%" stop-color="#d5747d"/><stop offset="59.9%" stop-color="#d89298"/><stop offset="60.3%" stop-color="#d28ba1"/><stop offset="60.7%" stop-color="#da8c92"/><stop offset="61.1%" stop-color="#d77983"/><stop offset="61.5%" stop-color="#dc7982"/><stop offset="61.9%" stop-color="#db97a8"/><stop offset="62.3%" stop-color="#db9097"/><stop offset="62.7%" stop-color="#de8083"/><stop offset="63.1%" stop-color="#e17071"/><stop offset="63.5%" stop-color="#da7d8b"/><stop offset="63.9%" stop-color="#dd8f90"/><stop offset="64.3%" stop-color="#d98d93"/><stop offset="64.7%" stop-color="#d9a4b1"/><stop offset="65.1%" stop-color="#d9929f"/><stop offset="65.5%" stop-color="#dd8c94"/><stop offset="65.9%" stop-color="#de8b8a"/><stop offset="66.3%" stop-color="#e28283"/><stop offset="66.7%" stop-color="#db898e"/><stop offset="67.1%" stop-color="#da8e98"/><stop offset="67.5%" stop-color="#e094a0"/><stop offset="67.9%" stop-color="#da8995"/><stop offset="68.3%" stop-color="#da808b"/><stop offset="68.7%" stop-color="#e29392"/><stop offset="69.1%" stop-color="#e29ca0"/><stop offset="69.5%" stop-color="#e59b99"/><stop offset="69.9%" stop-color="#df878d"/><stop offset="70.3%" stop-color="#dfa6a9"/><stop offset="70.7%" stop-color="#da9ca8"/><stop offset="71.1%" stop-color="#d999a2"/><stop offset="71.5%" stop-color="#e09ca7"/><stop offset="71.9%" stop-color="#df98a5"/><stop offset="72.3%" stop-color="#e49ba0"/><stop offset="72.7%" stop-color="#dd8e93"/><stop offset="73.1%" stop-color="#e08b92"/><stop offset="73.5%" stop-color="#df8a93"/><stop offset="73.9%" stop-color="#e69b9f"/><stop offset="74.3%" stop-color="#e0a6aa"/><stop offset="74.7%" stop-color="#eaafad"/><stop offset="75.2%" stop-color="#e8a9a9"/><stop offset="75.6%" stop-color="#e7989b"/><stop offset="76.0%" stop-color="#e79da1"/><stop offset="76.4%" stop-color="#e99293"/><stop offset="76.8%" stop-color="#e5afb0"/><stop offset="77.2%" stop-color="#e2aab3"/><stop offset="77.6%" stop-color="#e6a5ab"/><stop offset="78.0%" stop-color="#e1a5ab"/><stop offset="78.4%" stop-color="#e397a0"/><stop offset="78.8%" stop-color="#d9a2b1"/><stop offset="79.2%" stop-color="#e2a3a8"/><stop offset="79.6%" stop-color="#e5a2a6"/><stop offset="80.0%" stop-color="#e4afaf"/><stop offset="80.4%" stop-color="#e3a6a4"/><stop offset="80.8%" stop-color="#e5a7b6"/><stop offset="81.2%" stop-color="#e39ea4"/><stop offset="81.6%" stop-color="#e9a2a7"/><stop offset="82.0%" stop-color="#df9ca7"/><stop offset="82.4%" stop-color="#eaada9"/><stop offset="82.8%" stop-color="#e7a2a7"/><stop offset="83.2%" stop-color="#eba7aa"/><stop offset="83.6%" stop-color="#e2a5ac"/><stop offset="84.0%" stop-color="#e19ea1"/><stop offset="84.4%" stop-color="#dba5b0"/><stop offset="84.8%" stop-color="#dd9fa9"/><stop offset="85.2%" stop-color="#e09aa6"/><stop offset="85.6%" stop-color="#de9eae"/><stop offset="86.0%" stop-color="#e8b6b7"/><stop offset="86.4%" stop-color="#e6b9be"/><stop offset="86.8%" stop-color="#e2acab"/><stop offset="87.2%" stop-color="#e0a8a8"/><stop offset="87.6%" stop-color="#e9a9a6"/><stop offset="88.0%" stop-color="#e1a6ad"/><stop offset="88.4%" stop-color="#e4a3aa"/><stop offset="88.8%" stop-color="#e9999b"/><stop offset="89.2%" stop-color="#eaa2ab"/><stop offset="89.6%" stop-color="#e3b1bd"/><stop offset="90.0%" stop-color="#e2baba"/><stop offset="90.4%" stop-color="#e5989c"/><stop offset="90.8%" stop-color="#ebaba9"/><stop offset="91.2%" stop-color="#e39ba0"/><stop offset="91.6%" stop-color="#e797a0"/><stop offset="92.0%" stop-color="#e6b7b6"/><stop offset="92.4%" stop-color="#e9a6a8"/><stop offset="92.8%" stop-color="#eba8aa"/><stop offset="93.2%" stop-color="#edb2b1"/><stop offset="93.6%" stop-color="#e3afb1"/><stop offset="94.0%" stop-color="#e3a7aa"/><stop offset="94.4%" stop-color="#ddabb3"/><stop offset="94.8%" stop-color="#e1aab2"/><stop offset="95.2%" stop-color="#e2acb9"/><stop offset="95.6%" stop-color="#e2a1a3"/><stop offset="96.0%" stop-color="#e1a8b1"/><stop offset="96.4%" stop-color="#e8b1b9"/><stop offset="96.8%" stop-color="#e2acaf"/><stop offset="97.2%" stop-color="#e1a4a5"/><stop offset="97.6%" stop-color="#da9eae"/><stop offset="98.0%" stop-color="#e2a3a8"/><stop offset="98.4%" stop-color="#e19fa8"/><stop offset="98.8%" stop-color="#dd9ea1"/><stop offset="99.2%" stop-color="#ecaaa5"/><stop offset="99.6%" stop-color="#ebb0ae"/><stop offset="100.0%" stop-color="#dea4ae"/></linearGradient>
<linearGradient id="h8" x1="0" y1="0" x2="0" y2="1"><stop offset="0.2%" stop-color="#e28d8f"/><stop offset="0.6%" stop-color="#ea8180"/><stop offset="1.0%" stop-color="#e9abb4"/><stop offset="1.4%" stop-color="#de8fa0"/><stop offset="1.8%" stop-color="#e2979d"/><stop offset="2.2%" stop-color="#e79da5"/><stop offset="2.6%" stop-color="#e39098"/><stop offset="3.0%" stop-color="#e78388"/><stop offset="3.4%" stop-color="#db8d99"/><stop offset="3.8%" stop-color="#e8868a"/><stop offset="4.2%" stop-color="#e98789"/><stop offset="4.6%" stop-color="#d99ca1"/><stop offset="5.0%" stop-color="#df9ea6"/><stop offset="5.4%" stop-color="#e99da4"/><stop offset="5.8%" stop-color="#df828a"/><stop offset="6.2%" stop-color="#e39999"/><stop offset="6.6%" stop-color="#e79092"/><stop offset="7.0%" stop-color="#e49b9a"/><stop offset="7.4%" stop-color="#e5939f"/><stop offset="7.8%" stop-color="#e89b9d"/><stop offset="8.2%" stop-color="#e68888"/><stop offset="8.6%" stop-color="#e49ea4"/><stop offset="9.0%" stop-color="#e1959d"/><stop offset="9.4%" stop-color="#e3a2a9"/><stop offset="9.8%" stop-color="#e29595"/><stop offset="10.2%" stop-color="#de8290"/><stop offset="10.6%" stop-color="#e09da4"/><stop offset="11.0%" stop-color="#e19c9f"/><stop offset="11.4%" stop-color="#e59594"/><stop offset="11.8%" stop-color="#db888a"/><stop offset="12.2%" stop-color="#e0898f"/><stop offset="12.6%" stop-color="#e69996"/><stop offset="13.0%" stop-color="#e3aab3"/><stop offset="13.4%" stop-color="#e39ea4"/><stop offset="13.8%" stop-color="#e29aa0"/><stop offset="14.2%" stop-color="#dda8b3"/><stop offset="14.6%" stop-color="#e5a4a0"/><stop offset="15.0%" stop-color="#dd949e"/><stop offset="15.4%" stop-color="#e19fa2"/><stop offset="15.8%" stop-color="#dda2aa"/><stop offset="16.2%" stop-color="#e5a3a4"/><stop offset="16.6%" stop-color="#eaa8a1"/><stop offset="17.0%" stop-color="#e29d9c"/><stop offset="17.4%" stop-color="#d898a0"/><stop offset="17.8%" stop-color="#e1898a"/><stop offset="18.2%" stop-color="#e09fa4"/><stop offset="18.6%" stop-color="#dd959b"/><stop offset="19.0%" stop-color="#dda7b2"/><stop offset="19.4%" stop-color="#da9faf"/><stop offset="19.8%" stop-color="#e18f97"/><stop offset="20.2%" stop-color="#e49294"/><stop offset="20.6%" stop-color="#e0aab0"/><stop offset="21.0%" stop-color="#dcadb5"/><stop offset="21.4%" stop-color="#df939a"/><stop offset="21.8%" stop-color="#dd8787"/><stop offset="22.2%" stop-color="#dda3b3"/><stop offset="22.6%" stop-color="#dda6b5"/><stop offset="23.0%" stop-color="#e2969a"/><stop offset="23.4%" stop-color="#e8a6a2"/><stop offset="23.8%" stop-color="#e0a7af"/><stop offset="24.2%" stop-color="#e29099"/><stop offset="24.6%" stop-color="#db9399"/><stop offset="25.1%" stop-color="#df9ba6"/><stop offset="25.5%" stop-color="#dd969e"/><stop offset="25.9%" stop-color="#ddadb4"/><stop offset="26.3%" stop-color="#da9fa7"/><stop offset="26.7%" stop-color="#d6a3ad"/><stop offset="27.1%" stop-color="#dea1ae"/><stop offset="27.5%" stop-color="#ddadb3"/><stop offset="27.9%" stop-color="#eaa89f"/><stop offset="28.3%" stop-color="#e4a29f"/><stop offset="28.7%" stop-color="#e0a2a4"/><stop offset="29.1%" stop-color="#d9a6b8"/><stop offset="29.5%" stop-color="#d4a3b5"/><stop offset="29.9%" stop-color="#df9ba2"/><stop offset="30.3%" stop-color="#dca0a3"/><stop offset="30.7%" stop-color="#de9ea4"/><stop offset="31.1%" stop-color="#df9ca0"/><stop offset="31.5%" stop-color="#dda0ac"/><stop offset="31.9%" stop-color="#d8afbb"/><stop offset="32.3%" stop-color="#d0a9b9"/><stop offset="32.7%" stop-color="#dbafb6"/><stop offset="33.1%" stop-color="#e2a9a8"/><stop offset="33.5%" stop-color="#daaab0"/><stop offset="33.9%" stop-color="#d7afbb"/><stop offset="34.3%" stop-color="#d9aeb2"/><stop offset="34.7%" stop-color="#dca6a8"/><stop offset="35.1%" stop-color="#d9a6ad"/><stop offset="35.5%" stop-color="#deafad"/><stop offset="35.9%" stop-color="#d9b0b3"/><stop offset="36.3%" stop-color="#dfa2a0"/><stop offset="36.7%" stop-color="#d9a9ac"/><stop offset="37.1%" stop-color="#d1b3c1"/><stop offset="37.5%" stop-color="#e1bbbb"/><stop offset="37.9%" stop-color="#dbb8c4"/><stop offset="38.3%" stop-color="#dcb8bb"/><stop offset="38.7%" stop-color="#d6b0b9"/><stop offset="39.1%" stop-color="#dbb0bb"/><stop offset="39.5%" stop-color="#d7b2b9"/><stop offset="39.9%" stop-color="#d8aeba"/><stop offset="40.3%" stop-color="#dbb6bf"/><stop offset="40.7%" stop-color="#d4b3c3"/><stop offset="41.1%" stop-color="#d0b4c4"/><stop offset="41.5%" stop-color="#ceaaba"/><stop offset="41.9%" stop-color="#dfb4ba"/><stop offset="42.3%" stop-color="#dcb9bf"/><stop offset="42.7%" stop-color="#cab5c9"/><stop offset="43.1%" stop-color="#c9b1c7"/><stop offset="43.5%" stop-color="#d1afc5"/><stop offset="43.9%" stop-color="#d6bdcb"/><stop offset="44.3%" stop-color="#d6bacf"/><stop offset="44.7%" stop-color="#cec0cb"/><stop offset="45.1%" stop-color="#cfbfd1"/><stop offset="45.5%" stop-color="#d0b4ce"/><stop offset="45.9%" stop-color="#c6b1cd"/><stop offset="46.3%" stop-color="#c4b5cb"/><stop offset="46.7%" stop-color="#c9bed2"/><stop offset="47.1%" stop-color="#c1b4cb"/><stop offset="47.5%" stop-color="#c7bbd2"/><stop offset="47.9%" stop-color="#ccc0d6"/><stop offset="48.3%" stop-color="#cbbfd4"/><stop offset="48.7%" stop-color="#cbb8d1"/><stop offset="49.1%" stop-color="#d0c7db"/><stop offset="49.5%" stop-color="#cdc2de"/><stop offset="49.9%" stop-color="#bfc0e1"/><stop offset="50.3%" stop-color="#c7c1d1"/><stop offset="50.7%" stop-color="#c9c2d4"/><stop offset="51.1%" stop-color="#cbc6dc"/><stop offset="51.5%" stop-color="#bfbfe0"/><stop offset="51.9%" stop-color="#c4c4df"/><stop offset="52.3%" stop-color="#c8c1d4"/><stop offset="52.7%" stop-color="#c1c1d7"/><stop offset="53.1%" stop-color="#ccc2da"/><stop offset="53.5%" stop-color="#c8c7e2"/><stop offset="53.9%" stop-color="#c2c3dd"/><stop offset="54.3%" stop-color="#c6c2d6"/><stop offset="54.7%" stop-color="#c9c1d6"/><stop offset="55.1%" stop-color="#c5c3d4"/><stop offset="55.5%" stop-color="#ccc6d7"/><stop offset="55.9%" stop-color="#b7bedb"/><stop offset="56.3%" stop-color="#b9b8dd"/><stop offset="56.7%" stop-color="#c3c1db"/><stop offset="57.1%" stop-color="#cecadd"/><stop offset="57.5%" stop-color="#c0c1e3"/><stop offset="57.9%" stop-color="#b9c1e0"/><stop offset="58.3%" stop-color="#b5bcde"/><stop offset="58.7%" stop-color="#c5c4df"/><stop offset="59.1%" stop-color="#bac5e1"/><stop offset="59.5%" stop-color="#bcc1e4"/><stop offset="59.9%" stop-color="#c4bdd3"/><stop offset="60.3%" stop-color="#c1c5e2"/><stop offset="60.7%" stop-color="#bdc4de"/><stop offset="61.1%" stop-color="#cacde1"/><stop offset="61.5%" stop-color="#c2c5d8"/><stop offset="61.9%" stop-color="#b3bee3"/><stop offset="62.3%" stop-color="#bfc2e4"/><stop offset="62.7%" stop-color="#cccfe5"/><stop offset="63.1%" stop-color="#bfc2de"/><stop offset="63.5%" stop-color="#a9bfe4"/><stop offset="63.9%" stop-color="#b9c6e5"/><stop offset="64.3%" stop-color="#b0bde1"/><stop offset="64.7%" stop-color="#b8c2e4"/><stop offset="65.1%" stop-color="#c2c4e3"/><stop offset="65.5%" stop-color="#b9c4dd"/><stop offset="65.9%" stop-color="#c4cde1"/><stop offset="66.3%" stop-color="#bec4e4"/><stop offset="66.7%" stop-color="#b5bce3"/><stop offset="67.1%" stop-color="#b7bfdc"/><stop offset="67.5%" stop-color="#c4c9e2"/><stop offset="67.9%" stop-color="#c6cce4"/><stop offset="68.3%" stop-color="#acbfe3"/><stop offset="68.7%" stop-color="#a9bce6"/><stop offset="69.1%" stop-color="#b6c5e4"/><stop offset="69.5%" stop-color="#b8c7e3"/><stop offset="69.9%" stop-color="#acbfe2"/><stop offset="70.3%" stop-color="#adbfe3"/><stop offset="70.7%" stop-color="#b5c1e5"/><stop offset="71.1%" stop-color="#bbc1de"/><stop offset="71.5%" stop-color="#afbee4"/><stop offset="71.9%" stop-color="#b7bcde"/><stop offset="72.3%" stop-color="#b5c5e5"/><stop offset="72.7%" stop-color="#abbeea"/><stop offset="73.1%" stop-color="#a5bbea"/><stop offset="73.5%" stop-color="#b6c5e7"/><stop offset="73.9%" stop-color="#b4c3e4"/><stop offset="74.3%" stop-color="#b7c0e0"/><stop offset="74.7%" stop-color="#bacee9"/><stop offset="75.2%" stop-color="#bac9eb"/><stop offset="75.6%" stop-color="#bec7e7"/><stop offset="76.0%" stop-color="#acc0ea"/><stop offset="76.4%" stop-color="#afc3e9"/><stop offset="76.8%" stop-color="#bdc6e3"/><stop offset="77.2%" stop-color="#b8c3e5"/><stop offset="77.6%" stop-color="#acbcdd"/><stop offset="78.0%" stop-color="#b3c0e0"/><stop offset="78.4%" stop-color="#b4c2e1"/><stop offset="78.8%" stop-color="#bbc6e5"/><stop offset="79.2%" stop-color="#b2c5e6"/><stop offset="79.6%" stop-color="#c1cbe4"/><stop offset="80.0%" stop-color="#c2d3e8"/><stop offset="80.4%" stop-color="#bdc4e4"/><stop offset="80.8%" stop-color="#b2c3e3"/><stop offset="81.2%" stop-color="#b1c1e9"/><stop offset="81.6%" stop-color="#a4c0ea"/><stop offset="82.0%" stop-color="#b5c2eb"/><stop offset="82.4%" stop-color="#bbc4e3"/><stop offset="82.8%" stop-color="#b6c1e7"/><stop offset="83.2%" stop-color="#abbbe8"/><stop offset="83.6%" stop-color="#b8c1e3"/><stop offset="84.0%" stop-color="#b7c5ea"/><stop offset="84.4%" stop-color="#c2c8e8"/><stop offset="84.8%" stop-color="#afc6ed"/><stop offset="85.2%" stop-color="#b2c0e9"/><stop offset="85.6%" stop-color="#b7c5e9"/><stop offset="86.0%" stop-color="#adc8ec"/><stop offset="86.4%" stop-color="#b1cbe8"/><stop offset="86.8%" stop-color="#bbcce8"/><stop offset="87.2%" stop-color="#b5c7f1"/><stop offset="87.6%" stop-color="#b1c4ec"/><stop offset="88.0%" stop-color="#a8c5f2"/><stop offset="88.4%" stop-color="#afcae7"/><stop offset="88.8%" stop-color="#b7c9ec"/><stop offset="89.2%" stop-color="#abc3ec"/><stop offset="89.6%" stop-color="#a7b9e5"/><stop offset="90.0%" stop-color="#9ebded"/><stop offset="90.4%" stop-color="#98bdf2"/><stop offset="90.8%" stop-color="#b2c6e7"/><stop offset="91.2%" stop-color="#b4cee9"/><stop offset="91.6%" stop-color="#96bef3"/><stop offset="92.0%" stop-color="#99bef0"/><stop offset="92.4%" stop-color="#a6c0e8"/><stop offset="92.8%" stop-color="#9ec5ef"/><stop offset="93.2%" stop-color="#a8c0e4"/><stop offset="93.6%" stop-color="#9abdeb"/><stop offset="94.0%" stop-color="#a7c7eb"/><stop offset="94.4%" stop-color="#a0c4ef"/><stop offset="94.8%" stop-color="#a8c2ee"/><stop offset="95.2%" stop-color="#b4cae9"/><stop offset="95.6%" stop-color="#b6cbe8"/><stop offset="96.0%" stop-color="#a6c6ee"/><stop offset="96.4%" stop-color="#aec9eb"/><stop offset="96.8%" stop-color="#a5c2e8"/><stop offset="97.2%" stop-color="#96c0ee"/><stop offset="97.6%" stop-color="#b1c3e6"/><stop offset="98.0%" stop-color="#b2cce8"/><stop offset="98.4%" stop-color="#a6c6f2"/><stop offset="98.8%" stop-color="#95bfee"/><stop offset="99.2%" stop-color="#a8cbe6"/><stop offset="99.6%" stop-color="#accaee"/><stop offset="100.0%" stop-color="#a9c9e9"/></linearGradient>
<linearGradient id="h9" x1="0" y1="0" x2="0" y2="1"><stop offset="0.2%" stop-color="#e87f81"/><stop offset="0.6%" stop-color="#eb8f95"/><stop offset="1.0%" stop-color="#dcabb7"/><stop offset="1.4%" stop-color="#da8fa2"/><stop offset="1.8%" stop-color="#e5828c"/><stop offset="2.2%" stop-color="#e2a1a8"/><stop offset="2.6%" stop-color="#e5969e"/><stop offset="3.0%" stop-color="#ea8f92"/><stop offset="3.4%" stop-color="#e399a2"/><stop offset="3.8%" stop-color="#e67d80"/><stop offset="4.2%" stop-color="#e28288"/><stop offset="4.6%" stop-color="#e38f96"/><stop offset="5.0%" stop-color="#e6a1a7"/><stop offset="5.4%" stop-color="#e89091"/><stop offset="5.8%" stop-color="#e48a97"/><stop offset="6.2%" stop-color="#e2a6b2"/><stop offset="6.6%" stop-color="#e094a1"/><stop offset="7.0%" stop-color="#e38c90"/><stop offset="7.4%" stop-color="#db979d"/><stop offset="7.8%" stop-color="#df9298"/><stop offset="8.2%" stop-color="#df9496"/><stop offset="8.6%" stop-color="#df969e"/><stop offset="9.0%" stop-color="#df838b"/><stop offset="9.4%" stop-color="#df9fa7"/><stop offset="9.8%" stop-color="#e49296"/><stop offset="10.2%" stop-color="#e48a86"/><stop offset="10.6%" stop-color="#df8b93"/><stop offset="11.0%" stop-color="#e4969f"/><stop offset="11.4%" stop-color="#e89297"/><stop offset="11.8%" stop-color="#e58487"/><stop offset="12.2%" stop-color="#dd8d97"/><stop offset="12.6%" stop-color="#e69f9c"/><stop offset="13.0%" stop-color="#e39a9d"/><stop offset="13.4%" stop-color="#e39295"/><stop offset="13.8%" stop-color="#da8d97"/><stop offset="14.2%" stop-color="#e9a9ad"/><stop offset="14.6%" stop-color="#eca6a6"/><stop offset="15.0%" stop-color="#e39698"/><stop offset="15.4%" stop-color="#e4a1a6"/><stop offset="15.8%" stop-color="#e09aaa"/><stop offset="16.2%" stop-color="#e1a2ab"/><stop offset="16.6%" stop-color="#e5a8ad"/><stop offset="17.0%" stop-color="#e2a5aa"/><stop offset="17.4%" stop-color="#de8f98"/><stop offset="17.8%" stop-color="#e39794"/><stop offset="18.2%" stop-color="#e29292"/><stop offset="18.6%" stop-color="#e09798"/><stop offset="19.0%" stop-color="#e3b1b2"/><stop offset="19.4%" stop-color="#e3acb6"/><stop offset="19.8%" stop-color="#dea3a0"/><stop offset="20.2%" stop-color="#e4aaa5"/><stop offset="20.6%" stop-color="#e8a7ad"/><stop offset="21.0%" stop-color="#e1a4ad"/><stop offset="21.4%" stop-color="#e4a09a"/><stop offset="21.8%" stop-color="#e58b8c"/><stop offset="22.2%" stop-color="#e4afac"/><stop offset="22.6%" stop-color="#e6a5a4"/><stop offset="23.0%" stop-color="#dea3a7"/><stop offset="23.4%" stop-color="#e1b0b5"/><stop offset="23.8%" stop-color="#e4abaf"/><stop offset="24.2%" stop-color="#e3a4aa"/><stop offset="24.6%" stop-color="#dc8d9a"/><stop offset="25.1%" stop-color="#de979e"/><stop offset="25.5%" stop-color="#db9998"/><stop offset="25.9%" stop-color="#d9a5b3"/><stop offset="26.3%" stop-color="#d7a3b3"/><stop offset="26.7%" stop-color="#daa5b6"/><stop offset="27.1%" stop-color="#e0aab3"/><stop offset="27.5%" stop-color="#d9afb4"/><stop offset="27.9%" stop-color="#e7a298"/><stop offset="28.3%" stop-color="#e7aba9"/><stop offset="28.7%" stop-color="#dfa6a5"/><stop offset="29.1%" stop-color="#daaebc"/><stop offset="29.5%" stop-color="#d5b5c8"/><stop offset="29.9%" stop-color="#e4b5bb"/><stop offset="30.3%" stop-color="#dbadb3"/><stop offset="30.7%" stop-color="#dda8a9"/><stop offset="31.1%" stop-color="#deacaf"/><stop offset="31.5%" stop-color="#d8a1a3"/><stop offset="31.9%" stop-color="#d7abb6"/><stop offset="32.3%" stop-color="#daafba"/><stop offset="32.7%" stop-color="#e0b6c6"/><stop offset="33.1%" stop-color="#e0aeb1"/><stop offset="33.5%" stop-color="#d8abac"/><stop offset="33.9%" stop-color="#e1b1b7"/><stop offset="34.3%" stop-color="#debbc5"/><stop offset="34.7%" stop-color="#deabae"/><stop offset="35.1%" stop-color="#d9b1bc"/><stop offset="35.5%" stop-color="#d8afba"/><stop offset="35.9%" stop-color="#deaabe"/><stop offset="36.3%" stop-color="#dbadb0"/><stop offset="36.7%" stop-color="#d8abb3"/><stop offset="37.1%" stop-color="#d4b3c8"/><stop offset="37.5%" stop-color="#e2c2ca"/><stop offset="37.9%" stop-color="#d9acb4"/><stop offset="38.3%" stop-color="#dbafb7"/><stop offset="38.7%" stop-color="#d5adbc"/><stop offset="39.1%" stop-color="#d5abbc"/><stop offset="39.5%" stop-color="#d5b2bf"/><stop offset="39.9%" stop-color="#d7a6b3"/><stop offset="40.3%" stop-color="#d7bdc8"/><stop offset="40.7%" stop-color="#d0b9c8"/><stop offset="41.1%" stop-color="#d1bbcc"/><stop offset="41.5%" stop-color="#cfabc4"/><stop offset="41.9%" stop-color="#dabbc5"/><stop offset="42.3%" stop-color="#d4c1d0"/><stop offset="42.7%" stop-color="#cfbdd0"/><stop offset="43.1%" stop-color="#cdb3cb"/><stop offset="43.5%" stop-color="#d2b4c2"/><stop offset="43.9%" stop-color="#cfb2c8"/><stop offset="44.3%" stop-color="#d8c3cf"/><stop offset="44.7%" stop-color="#cebad1"/><stop offset="45.1%" stop-color="#cbbed3"/><stop offset="45.5%" stop-color="#cdbdce"/><stop offset="45.9%" stop-color="#c4b9ce"/><stop offset="46.3%" stop-color="#d2c3d0"/><stop offset="46.7%" stop-color="#ccc0d4"/><stop offset="47.1%" stop-color="#c4b7cd"/><stop offset="47.5%" stop-color="#cfbfda"/><stop offset="47.9%" stop-color="#c8b8d1"/><stop offset="48.3%" stop-color="#c9bfd2"/><stop offset="48.7%" stop-color="#c3b9d2"/><stop offset="49.1%" stop-color="#c0b7d8"/><stop offset="49.5%" stop-color="#c8bed3"/><stop offset="49.9%" stop-color="#c1c2df"/><stop offset="50.3%" stop-color="#c7bfd7"/><stop offset="50.7%" stop-color="#c5bfd8"/><stop offset="51.1%" stop-color="#c5c2d7"/><stop offset="51.5%" stop-color="#c1c0db"/><stop offset="51.9%" stop-color="#c9bfdd"/><stop offset="52.3%" stop-color="#ccc2d0"/><stop offset="52.7%" stop-color="#cac2db"/><stop offset="53.1%" stop-color="#c2bcd5"/><stop offset="53.5%" stop-color="#c7c2db"/><stop offset="53.9%" stop-color="#c3bedd"/><stop offset="54.3%" stop-color="#c5b9cd"/><stop offset="54.7%" stop-color="#c1bbd7"/><stop offset="55.1%" stop-color="#c1c0d9"/><stop offset="55.5%" stop-color="#c1c4df"/><stop offset="55.9%" stop-color="#b5badb"/><stop offset="56.3%" stop-color="#bdbbe1"/><stop offset="56.7%" stop-color="#c1bfda"/><stop offset="57.1%" stop-color="#bbbdd8"/><stop offset="57.5%" stop-color="#b6b7dd"/><stop offset="57.9%" stop-color="#bdc1dc"/><stop offset="58.3%" stop-color="#bdbedd"/><stop offset="58.7%" stop-color="#c0bfda"/><stop offset="59.1%" stop-color="#bdc2de"/><stop offset="59.5%" stop-color="#b2bee8"/><stop offset="59.9%" stop-color="#b3c6e3"/><stop offset="60.3%" stop-color="#c5c5d9"/><stop offset="60.7%" stop-color="#b8c3de"/><stop offset="61.1%" stop-color="#c3c7e2"/><stop offset="61.5%" stop-color="#bcc1df"/><stop offset="61.9%" stop-color="#b5bde0"/><stop offset="62.3%" stop-color="#bec4df"/><stop offset="62.7%" stop-color="#c4cae1"/><stop offset="63.1%" stop-color="#b6c3df"/><stop offset="63.5%" stop-color="#b5c5e2"/><stop offset="63.9%" stop-color="#bec6e0"/><stop offset="64.3%" stop-color="#afc2e8"/><stop offset="64.7%" stop-color="#b9bde0"/><stop offset="65.1%" stop-color="#bcc1d8"/><stop offset="65.5%" stop-color="#b8c0dc"/><stop offset="65.9%" stop-color="#b4bee4"/><stop offset="66.3%" stop-color="#bbc3dd"/><stop offset="66.7%" stop-color="#b6c2de"/><stop offset="67.1%" stop-color="#bdc9e3"/><stop offset="67.5%" stop-color="#c9ceea"/><stop offset="67.9%" stop-color="#c7d0e9"/><stop offset="68.3%" stop-color="#b7c1e4"/><stop offset="68.7%" stop-color="#bfbfe3"/><stop offset="69.1%" stop-color="#c2c3e1"/><stop offset="69.5%" stop-color="#b7c6e4"/><stop offset="69.9%" stop-color="#a6bde9"/><stop offset="70.3%" stop-color="#adbfe5"/><stop offset="70.7%" stop-color="#acbfea"/><stop offset="71.1%" stop-color="#b3c6e8"/><stop offset="71.5%" stop-color="#bbc6da"/><stop offset="71.9%" stop-color="#b3bde3"/><stop offset="72.3%" stop-color="#abbae4"/><stop offset="72.7%" stop-color="#a9bbe8"/><stop offset="73.1%" stop-color="#b0c2e4"/><stop offset="73.5%" stop-color="#b6c2e5"/><stop offset="73.9%" stop-color="#c3cfec"/><stop offset="74.3%" stop-color="#b4c4e9"/><stop offset="74.7%" stop-color="#b2c1eb"/><stop offset="75.2%" stop-color="#b3bfe4"/><stop offset="75.6%" stop-color="#b6c3ea"/><stop offset="76.0%" stop-color="#b4c6eb"/><stop offset="76.4%" stop-color="#acbdef"/><stop offset="76.8%" stop-color="#aebde1"/><stop offset="77.2%" stop-color="#b1c2e7"/><stop offset="77.6%" stop-color="#b7c0e3"/><stop offset="78.0%" stop-color="#bdc9e3"/><stop offset="78.4%" stop-color="#c3c6df"/><stop offset="78.8%" stop-color="#bcc4e5"/><stop offset="79.2%" stop-color="#bec9e4"/><stop offset="79.6%" stop-color="#bfcbe7"/><stop offset="80.0%" stop-color="#c2ccea"/><stop offset="80.4%" stop-color="#b8c3de"/><stop offset="80.8%" stop-color="#b1bce0"/><stop offset="81.2%" stop-color="#aabfe5"/><stop offset="81.6%" stop-color="#a5bcec"/><stop offset="82.0%" stop-color="#b9c9e9"/><stop offset="82.4%" stop-color="#bec7e2"/><stop offset="82.8%" stop-color="#b8c5e0"/><stop offset="83.2%" stop-color="#b9bfe2"/><stop offset="83.6%" stop-color="#bcc5e2"/><stop offset="84.0%" stop-color="#b8c8e9"/><stop offset="84.4%" stop-color="#bccae8"/><stop offset="84.8%" stop-color="#b1c3ed"/><stop offset="85.2%" stop-color="#b8c3e6"/><stop offset="85.6%" stop-color="#adc1ea"/><stop offset="86.0%" stop-color="#aebfee"/><stop offset="86.4%" stop-color="#b2c1e8"/><stop offset="86.8%" stop-color="#c4c9e1"/><stop offset="87.2%" stop-color="#b6c7eb"/><stop offset="87.6%" stop-color="#b8c9ea"/><stop offset="88.0%" stop-color="#b1c3ea"/><stop offset="88.4%" stop-color="#adc5f2"/><stop offset="88.8%" stop-color="#b6c8ea"/><stop offset="89.2%" stop-color="#a4c0e5"/><stop offset="89.6%" stop-color="#aabee8"/><stop offset="90.0%" stop-color="#9dbaed"/><stop offset="90.4%" stop-color="#9dbfee"/><stop offset="90.8%" stop-color="#bdcde8"/><stop offset="91.2%" stop-color="#b4c8ed"/><stop offset="91.6%" stop-color="#9fbfec"/><stop offset="92.0%" stop-color="#9ec0ea"/><stop offset="92.4%" stop-color="#abc3ee"/><stop offset="92.8%" stop-color="#a6c6f1"/><stop offset="93.2%" stop-color="#b3c9e8"/><stop offset="93.6%" stop-color="#a8c3e8"/><stop offset="94.0%" stop-color="#b0c9eb"/><stop offset="94.4%" stop-color="#a0c4e6"/><stop offset="94.8%" stop-color="#99bfe9"/><stop offset="95.2%" stop-color="#9ecaf8"/><stop offset="95.6%" stop-color="#afcde2"/><stop offset="96.0%" stop-color="#b0caed"/><stop offset="96.4%" stop-color="#acc6ea"/><stop offset="96.8%" stop-color="#a2c3e7"/><stop offset="97.2%" stop-color="#97c3ee"/><stop offset="97.6%" stop-color="#b1c4e2"/><stop offset="98.0%" stop-color="#adcae8"/><stop offset="98.4%" stop-color="#b2cbed"/><stop offset="98.8%" stop-color="#adc8e7"/><stop offset="99.2%" stop-color="#a9cbef"/><stop offset="99.6%" stop-color="#acccee"/><stop offset="100.0%" stop-color="#a5c8e9"/></linearGradient>
<linearGradient id="h10" x1="0" y1="0" x2="0" y2="1"><stop offset="0.2%" stop-color="#e39197"/><stop offset="0.6%" stop-color="#ee8c89"/><stop offset="1.0%" stop-color="#e8aaab"/><stop offset="1.4%" stop-color="#e397a0"/><stop offset="1.8%" stop-color="#e19494"/><stop offset="2.2%" stop-color="#e79ea9"/><stop offset="2.6%" stop-color="#e58e91"/><stop offset="3.0%" stop-color="#e28484"/><stop offset="3.4%" stop-color="#e0919b"/><stop offset="3.8%" stop-color="#e49391"/><stop offset="4.2%" stop-color="#e79491"/><stop offset="4.6%" stop-color="#e59697"/><stop offset="5.0%" stop-color="#e4a7af"/><stop offset="5.4%" stop-color="#e19694"/><stop offset="5.8%" stop-color="#e38b8a"/><stop offset="6.2%" stop-color="#dda8b2"/><stop offset="6.6%" stop-color="#e3a5ab"/><stop offset="7.0%" stop-color="#dd9aa5"/><stop offset="7.4%" stop-color="#dd969c"/><stop offset="7.8%" stop-color="#e4989f"/><stop offset="8.2%" stop-color="#e48d8b"/><stop offset="8.6%" stop-color="#de9199"/><stop offset="9.0%" stop-color="#db848e"/><stop offset="9.4%" stop-color="#e4a1a4"/><stop offset="9.8%" stop-color="#e39597"/><stop offset="10.2%" stop-color="#e1828c"/><stop offset="10.6%" stop-color="#dd9aa9"/><stop offset="11.0%" stop-color="#e28d8c"/><stop offset="11.4%" stop-color="#e59b9c"/><stop offset="11.8%" stop-color="#ea8684"/><stop offset="12.2%" stop-color="#e99594"/><stop offset="12.6%" stop-color="#e8a1a3"/><stop offset="13.0%" stop-color="#e5a5a3"/><stop offset="13.4%" stop-color="#e699a1"/><stop offset="13.8%" stop-color="#da9aaa"/><stop offset="14.2%" stop-color="#dfb5b7"/><stop offset="14.6%" stop-color="#e29da8"/><stop offset="15.0%" stop-color="#e09f9d"/><stop offset="15.4%" stop-color="#e5b4b8"/><stop offset="15.8%" stop-color="#dda2af"/><stop offset="16.2%" stop-color="#e4afb8"/><stop offset="16.6%" stop-color="#e5a6ae"/><stop offset="17.0%" stop-color="#e0a2a9"/><stop offset="17.4%" stop-color="#e1929a"/><stop offset="17.8%" stop-color="#df9699"/><stop offset="18.2%" stop-color="#e3b1b3"/><stop offset="18.6%" stop-color="#e1a7af"/><stop offset="19.0%" stop-color="#e2b0b7"/><stop offset="19.4%" stop-color="#dba3b0"/><stop offset="19.8%" stop-color="#d69b9f"/><stop offset="20.2%" stop-color="#e2a2a8"/><stop offset="20.6%" stop-color="#e39f9f"/><stop offset="21.0%" stop-color="#e3aeaa"/><stop offset="21.4%" stop-color="#e0a5ab"/><stop offset="21.8%" stop-color="#e1a2a2"/><stop offset="22.2%" stop-color="#e4b1b9"/><stop offset="22.6%" stop-color="#dea8a9"/><stop offset="23.0%" stop-color="#e49ca5"/><stop offset="23.4%" stop-color="#e6b0b6"/><stop offset="23.8%" stop-color="#daa5af"/><stop offset="24.2%" stop-color="#e7b0b2"/><stop offset="24.6%" stop-color="#d9929b"/><stop offset="25.1%" stop-color="#da93a6"/><stop offset="25.5%" stop-color="#e99e9a"/><stop offset="25.9%" stop-color="#e09fad"/><stop offset="26.3%" stop-color="#d3a1b2"/><stop offset="26.7%" stop-color="#db9ba1"/><stop offset="27.1%" stop-color="#dea5a5"/><stop offset="27.5%" stop-color="#d5aebd"/><stop offset="27.9%" stop-color="#e3a5a5"/><stop offset="28.3%" stop-color="#e0a5ab"/><stop offset="28.7%" stop-color="#dea3a5"/><stop offset="29.1%" stop-color="#d8abb4"/><stop offset="29.5%" stop-color="#d3a9ba"/><stop offset="29.9%" stop-color="#dca6b0"/><stop offset="30.3%" stop-color="#d8a6ad"/><stop offset="30.7%" stop-color="#d9a7ac"/><stop offset="31.1%" stop-color="#dbafb9"/><stop offset="31.5%" stop-color="#daabb9"/><stop offset="31.9%" stop-color="#d8aeb7"/><stop offset="32.3%" stop-color="#d3a8b8"/><stop offset="32.7%" stop-color="#d4aab9"/><stop offset="33.1%" stop-color="#d8b0b2"/><stop offset="33.5%" stop-color="#d5afbb"/><stop offset="33.9%" stop-color="#d9bdc5"/><stop offset="34.3%" stop-color="#dfc1c9"/><stop offset="34.7%" stop-color="#d5afc3"/><stop offset="35.1%" stop-color="#d5b5bb"/><stop offset="35.5%" stop-color="#d8b5be"/><stop offset="35.9%" stop-color="#d8b0c1"/><stop offset="36.3%" stop-color="#d8afb9"/><stop offset="36.7%" stop-color="#d5aebc"/><stop offset="37.1%" stop-color="#d4b7c8"/><stop offset="37.5%" stop-color="#dcb6be"/><stop offset="37.9%" stop-color="#d8afc3"/><stop offset="38.3%" stop-color="#d7b1c1"/><stop offset="38.7%" stop-color="#dcb4c2"/><stop offset="39.1%" stop-color="#dbb6c5"/><stop offset="39.5%" stop-color="#cfaec7"/><stop offset="39.9%" stop-color="#cbabc3"/><stop offset="40.3%" stop-color="#d7b9ca"/><stop offset="40.7%" stop-color="#d7bacb"/><stop offset="41.1%" stop-color="#cfb4cb"/><stop offset="41.5%" stop-color="#c9aecb"/><stop offset="41.9%" stop-color="#d4c1d7"/><stop offset="42.3%" stop-color="#d8c1cc"/><stop offset="42.7%" stop-color="#cab9d4"/><stop offset="43.1%" stop-color="#cfb8cf"/><stop offset="43.5%" stop-color="#d0bcc2"/><stop offset="43.9%" stop-color="#cdb7cb"/><stop offset="44.3%" stop-color="#d3bbd3"/><stop offset="44.7%" stop-color="#d6c7d5"/><stop offset="45.1%" stop-color="#d2b6c9"/><stop offset="45.5%" stop-color="#cbb1ca"/><stop offset="45.9%" stop-color="#c0b2d0"/><stop offset="46.3%" stop-color="#c6b7d3"/><stop offset="46.7%" stop-color="#cabeda"/><stop offset="47.1%" stop-color="#cbc1d8"/><stop offset="47.5%" stop-color="#c4bfe4"/><stop offset="47.9%" stop-color="#cdc7dd"/><stop offset="48.3%" stop-color="#bebed8"/><stop offset="48.7%" stop-color="#c5b8d1"/><stop offset="49.1%" stop-color="#ceb9d2"/><stop offset="49.5%" stop-color="#c3bcdf"/><stop offset="49.9%" stop-color="#c6badc"/><stop offset="50.3%" stop-color="#c8bfdc"/><stop offset="50.7%" stop-color="#c7bdde"/><stop offset="51.1%" stop-color="#cbc3e3"/><stop offset="51.5%" stop-color="#c4b8da"/><stop offset="51.9%" stop-color="#cac7df"/><stop offset="52.3%" stop-color="#c4b8d1"/><stop offset="52.7%" stop-color="#cac0dd"/><stop offset="53.1%" stop-color="#c5c0e1"/><stop offset="53.5%" stop-color="#b7bae4"/><stop offset="53.9%" stop-color="#bac0df"/><stop offset="54.3%" stop-color="#bcbad7"/><stop offset="54.7%" stop-color="#bcbfe1"/><stop offset="55.1%" stop-color="#d0c4da"/><stop offset="55.5%" stop-color="#c2bbe0"/><stop offset="55.9%" stop-color="#b7b8e1"/><stop offset="56.3%" stop-color="#aeb8e0"/><stop offset="56.7%" stop-color="#bdc3d8"/><stop offset="57.1%" stop-color="#c3bedc"/><stop offset="57.5%" stop-color="#bbc2db"/><stop offset="57.9%" stop-color="#c6c2e3"/><stop offset="58.3%" stop-color="#b9bcdf"/><stop offset="58.7%" stop-color="#b1badc"/><stop offset="59.1%" stop-color="#babadd"/><stop offset="59.5%" stop-color="#b6bfe5"/><stop offset="59.9%" stop-color="#b4bcde"/><stop offset="60.3%" stop-color="#c3c8e4"/><stop offset="60.7%" stop-color="#bdc4e9"/><stop offset="61.1%" stop-color="#c3cae2"/><stop offset="61.5%" stop-color="#bac5e5"/><stop offset="61.9%" stop-color="#acbfeb"/><stop offset="62.3%" stop-color="#b1c0e0"/><stop offset="62.7%" stop-color="#c3c9e1"/><stop offset="63.1%" stop-color="#b3bddc"/><stop offset="63.5%" stop-color="#b0b8de"/><stop offset="63.9%" stop-color="#c3c4d9"/><stop offset="64.3%" stop-color="#b4c1e9"/><stop offset="64.7%" stop-color="#c1c8e0"/><stop offset="65.1%" stop-color="#bfc5da"/><stop offset="65.5%" stop-color="#b9c4dc"/><stop offset="65.9%" stop-color="#bec9e4"/><stop offset="66.3%" stop-color="#b7c2e2"/><stop offset="66.7%" stop-color="#abbce2"/><stop offset="67.1%" stop-color="#b1bce1"/><stop offset="67.5%" stop-color="#c2cfea"/><stop offset="67.9%" stop-color="#c0d0e8"/><stop offset="68.3%" stop-color="#b2bfea"/><stop offset="68.7%" stop-color="#bbc9e5"/><stop offset="69.1%" stop-color="#bcc7e1"/><stop offset="69.5%" stop-color="#b7c4e6"/><stop offset="69.9%" stop-color="#a5b7e9"/><stop offset="70.3%" stop-color="#a5bfe8"/><stop offset="70.7%" stop-color="#b4c3e4"/><stop offset="71.1%" stop-color="#b2c3e2"/><stop offset="71.5%" stop-color="#b9c2e6"/><stop offset="71.9%" stop-color="#afc2e7"/><stop offset="72.3%" stop-color="#acbde8"/><stop offset="72.7%" stop-color="#b0c1ed"/><stop offset="73.1%" stop-color="#adc0e5"/><stop offset="73.5%" stop-color="#b3c1ec"/><stop offset="73.9%" stop-color="#c2cae2"/><stop offset="74.3%" stop-color="#c1c4e3"/><stop offset="74.7%" stop-color="#b4bfee"/><stop offset="75.2%" stop-color="#afc3ed"/><stop offset="75.6%" stop-color="#b3c1ea"/><stop offset="76.0%" stop-color="#adc5e4"/><stop offset="76.4%" stop-color="#b8cae9"/><stop offset="76.8%" stop-color="#b5c4e6"/><stop offset="77.2%" stop-color="#b6ccec"/><stop offset="77.6%" stop-color="#abbbe9"/><stop offset="78.0%" stop-color="#b2c5e7"/><stop offset="78.4%" stop-color="#c0c9e6"/><stop offset="78.8%" stop-color="#b4c3e9"/><stop offset="79.2%" stop-color="#b6c4eb"/><stop offset="79.6%" stop-color="#beccea"/><stop offset="80.0%" stop-color="#bfd1ed"/><stop offset="80.4%" stop-color="#afc0e0"/><stop offset="80.8%" stop-color="#a4bdec"/><stop offset="81.2%" stop-color="#a8c3ee"/><stop offset="81.6%" stop-color="#9ab8f4"/><stop offset="82.0%" stop-color="#aac1e8"/><stop offset="82.4%" stop-color="#b7c6e1"/><stop offset="82.8%" stop-color="#aec4f0"/><stop offset="83.2%" stop-color="#aac3e9"/><stop offset="83.6%" stop-color="#bbc6e4"/><stop offset="84.0%" stop-color="#a6c3ec"/><stop offset="84.4%" stop-color="#beceea"/><stop offset="84.8%" stop-color="#a5c2f0"/><stop offset="85.2%" stop-color="#b5c0e5"/><stop offset="85.6%" stop-color="#afc1e6"/><stop offset="86.0%" stop-color="#b2c7e5"/><stop offset="86.4%" stop-color="#b8c6e4"/><stop offset="86.8%" stop-color="#b9c8e9"/><stop offset="87.2%" stop-color="#aacdf0"/><stop offset="87.6%" stop-color="#b2ceea"/><stop offset="88.0%" stop-color="#adc5eb"/><stop offset="88.4%" stop-color="#b5c3f0"/><stop offset="88.8%" stop-color="#b5caeb"/><stop offset="89.2%" stop-color="#a3c5ec"/><stop offset="89.6%" stop-color="#b7c4e5"/><stop offset="90.0%" stop-color="#97c0f5"/><stop offset="90.4%" stop-color="#9bbbee"/><stop offset="90.8%" stop-color="#b7d0e8"/><stop offset="91.2%" stop-color="#a7c2f0"/><stop offset="91.6%" stop-color="#9cc3f1"/><stop offset="92.0%" stop-color="#a4c3ef"/><stop offset="92.4%" stop-color="#9ebef1"/><stop offset="92.8%" stop-color="#a4c2ea"/><stop offset="93.2%" stop-color="#97c1ec"/><stop offset="93.6%" stop-color="#a5c4ea"/><stop offset="94.0%" stop-color="#b3cbe9"/><stop offset="94.4%" stop-color="#9ebfee"/><stop offset="94.8%" stop-color="#a2c1e9"/><stop offset="95.2%" stop-color="#a1c5e7"/><stop offset="95.6%" stop-color="#afc8ec"/><stop offset="96.0%" stop-color="#9dc1f3"/><stop offset="96.4%" stop-color="#a6cbeb"/><stop offset="96.8%" stop-color="#aac4e8"/><stop offset="97.2%" stop-color="#a7cbed"/><stop offset="97.6%" stop-color="#adc7e3"/><stop offset="98.0%" stop-color="#b0c3e5"/><stop offset="98.4%" stop-color="#bbd0e5"/><stop offset="98.8%" stop-color="#abc6ed"/><stop offset="99.2%" stop-color="#a3cbef"/><stop offset="99.6%" stop-color="#a0c6ef"/><stop offset="100.0%" stop-color="#99c4ed"/></linearGradient>
<linearGradient id="h11" x1="0" y1="0" x2="0" y2="1"><stop offset="0.2%" stop-color="#85b4eb"/><stop offset="0.6%" stop-color="#82b4e5"/><stop offset="1.0%" stop-color="#82b0db"/><stop offset="1.4%" stop-color="#89b5e7"/><stop offset="1.8%" stop-color="#8cbbeb"/><stop offset="2.2%" stop-color="#90b7e9"/><stop offset="2.6%" stop-color="#90b2e2"/><stop offset="3.0%" stop-color="#9abcdd"/><stop offset="3.4%" stop-color="#9fb8e4"/><stop offset="3.8%" stop-color="#87b5e9"/><stop offset="4.2%" stop-color="#a0c3e6"/><stop offset="4.6%" stop-color="#76ace4"/><stop offset="5.0%" stop-color="#7ab0e6"/><stop offset="5.4%" stop-color="#86b1e9"/><stop offset="5.8%" stop-color="#7aaeef"/><stop offset="6.2%" stop-color="#8bb4e5"/><stop offset="6.6%" stop-color="#92bbe6"/><stop offset="7.0%" stop-color="#80aee5"/><stop offset="7.4%" stop-color="#83b2e9"/><stop offset="7.8%" stop-color="#8eb5df"/><stop offset="8.2%" stop-color="#83ade4"/><stop offset="8.6%" stop-color="#75abed"/><stop offset="9.0%" stop-color="#71aae8"/><stop offset="9.4%" stop-color="#80b0de"/><stop offset="9.8%" stop-color="#8eb6e2"/><stop offset="10.2%" stop-color="#95b6e7"/><stop offset="10.6%" stop-color="#94b7e3"/><stop offset="11.0%" stop-color="#99b9e4"/><stop offset="11.4%" stop-color="#82b1ea"/><stop offset="11.8%" stop-color="#83abdf"/><stop offset="12.2%" stop-color="#95bce0"/><stop offset="12.6%" stop-color="#88ace1"/><stop offset="13.0%" stop-color="#91b3e2"/><stop offset="13.4%" stop-color="#71a4ec"/><stop offset="13.8%" stop-color="#96bbe7"/><stop offset="14.2%" stop-color="#86b3e9"/><stop offset="14.6%" stop-color="#9cbfeb"/><stop offset="15.0%" stop-color="#a4bdde"/><stop offset="15.4%" stop-color="#93b9e8"/><stop offset="15.8%" stop-color="#95b5ed"/><stop offset="16.2%" stop-color="#8ab9ee"/><stop offset="16.6%" stop-color="#80b1e5"/><stop offset="17.0%" stop-color="#95b6e6"/><stop offset="17.4%" stop-color="#88b1e0"/><stop offset="17.8%" stop-color="#7eace4"/><stop offset="18.2%" stop-color="#9bb9e7"/><stop offset="18.6%" stop-color="#a2c2eb"/><stop offset="19.0%" stop-color="#86b1e2"/><stop offset="19.4%" stop-color="#83afe3"/><stop offset="19.8%" stop-color="#8ab9e7"/><stop offset="20.2%" stop-color="#95b5e5"/><stop offset="20.6%" stop-color="#84aadc"/><stop offset="21.0%" stop-color="#8fb1e0"/><stop offset="21.4%" stop-color="#8bb4da"/><stop offset="21.8%" stop-color="#95bee6"/><stop offset="22.2%" stop-color="#84b0e4"/><stop offset="22.6%" stop-color="#91bae4"/><stop offset="23.0%" stop-color="#9cbbe9"/><stop offset="23.4%" stop-color="#98b9e3"/><stop offset="23.8%" stop-color="#91b4e4"/><stop offset="24.2%" stop-color="#a1c1e8"/><stop offset="24.6%" stop-color="#99b9df"/><stop offset="25.1%" stop-color="#9cbbdf"/><stop offset="25.5%" stop-color="#99bce7"/><stop offset="25.9%" stop-color="#9cb8d8"/><stop offset="26.3%" stop-color="#98b3db"/><stop offset="26.7%" stop-color="#8eb0dc"/><stop offset="27.1%" stop-color="#9dbeec"/><stop offset="27.5%" stop-color="#76a8e0"/><stop offset="27.9%" stop-color="#97bbe2"/><stop offset="28.3%" stop-color="#a5bfe4"/><stop offset="28.7%" stop-color="#92b1e4"/><stop offset="29.1%" stop-color="#9fbbe4"/><stop offset="29.5%" stop-color="#91b4dd"/><stop offset="29.9%" stop-color="#8bb7e7"/><stop offset="30.3%" stop-color="#7faee6"/><stop offset="30.7%" stop-color="#8db7e3"/><stop offset="31.1%" stop-color="#a5bae0"/><stop offset="31.5%" stop-color="#91b2df"/><stop offset="31.9%" stop-color="#93b3df"/><stop offset="32.3%" stop-color="#97badf"/><stop offset="32.7%" stop-color="#abbdde"/><stop offset="33.1%" stop-color="#afc6e4"/><stop offset="33.5%" stop-color="#9abade"/><stop offset="33.9%" stop-color="#adbfe0"/><stop offset="34.3%" stop-color="#9ab9dd"/><stop offset="34.7%" stop-color="#91b4db"/><stop offset="35.1%" stop-color="#9abbe1"/><stop offset="35.5%" stop-color="#9fb8dc"/><stop offset="35.9%" stop-color="#b4c0d9"/><stop offset="36.3%" stop-color="#acbede"/><stop offset="36.7%" stop-color="#a8b9df"/><stop offset="37.1%" stop-color="#a9c4e1"/><stop offset="37.5%" stop-color="#b4c2d9"/><stop offset="37.9%" stop-color="#a6bbde"/><stop offset="38.3%" stop-color="#a1b9da"/><stop offset="38.7%" stop-color="#a3b8d8"/><stop offset="39.1%" stop-color="#acbfe1"/><stop offset="39.5%" stop-color="#b1b8d3"/><stop offset="39.9%" stop-color="#b4bed6"/><stop offset="40.3%" stop-color="#aebbd8"/><stop offset="40.7%" stop-color="#a9bbe5"/><stop offset="41.1%" stop-color="#aec3e2"/><stop offset="41.5%" stop-color="#b3c4dc"/><stop offset="41.9%" stop-color="#a6b1d5"/><stop offset="42.3%" stop-color="#a4bbd6"/><stop offset="42.7%" stop-color="#c1bfd4"/><stop offset="43.1%" stop-color="#b8bdd4"/><stop offset="43.5%" stop-color="#afbad7"/><stop offset="43.9%" stop-color="#b1b7d3"/><stop offset="44.3%" stop-color="#b1c5de"/><stop offset="44.7%" stop-color="#adc1db"/><stop offset="45.1%" stop-color="#bec8d9"/><stop offset="45.5%" stop-color="#abb3d3"/><stop offset="45.9%" stop-color="#adbdd5"/><stop offset="46.3%" stop-color="#a5bbde"/><stop offset="46.7%" stop-color="#a5b7d4"/><stop offset="47.1%" stop-color="#aab8dd"/><stop offset="47.5%" stop-color="#c8c4d8"/><stop offset="47.9%" stop-color="#b1bdd6"/><stop offset="48.3%" stop-color="#bbc0e0"/><stop offset="48.7%" stop-color="#b3bfdb"/><stop offset="49.1%" stop-color="#b7c4d6"/><stop offset="49.5%" stop-color="#c5c0ce"/><stop offset="49.9%" stop-color="#babbce"/><stop offset="50.3%" stop-color="#b1c1e3"/><stop offset="50.7%" stop-color="#b1bfe4"/><stop offset="51.1%" stop-color="#acbad6"/><stop offset="51.5%" stop-color="#b2c1d7"/><stop offset="51.9%" stop-color="#bfcbe0"/><stop offset="52.3%" stop-color="#bec6e0"/><stop offset="52.7%" stop-color="#c3c7cd"/><stop offset="53.1%" stop-color="#b8c2d7"/><stop offset="53.5%" stop-color="#c1c9d8"/><stop offset="53.9%" stop-color="#c5cedd"/><stop offset="54.3%" stop-color="#cdcbdc"/><stop offset="54.7%" stop-color="#bcc7de"/><stop offset="55.1%" stop-color="#c7c8ce"/><stop offset="55.5%" stop-color="#bebcce"/><stop offset="55.9%" stop-color="#c7c1ce"/><stop offset="56.3%" stop-color="#bec0d3"/><stop offset="56.7%" stop-color="#c4bcbe"/><stop offset="57.1%" stop-color="#c2bdca"/><stop offset="57.5%" stop-color="#cac4cc"/><stop offset="57.9%" stop-color="#cdcdd6"/><stop offset="58.3%" stop-color="#c6c6d7"/><stop offset="58.7%" stop-color="#c5c8ce"/><stop offset="59.1%" stop-color="#cdc5cb"/><stop offset="59.5%" stop-color="#bfbbc9"/><stop offset="59.9%" stop-color="#c5bebf"/><stop offset="60.3%" stop-color="#d1c1ca"/><stop offset="60.7%" stop-color="#ccbcc7"/><stop offset="61.1%" stop-color="#c1b0ba"/><stop offset="61.5%" stop-color="#dbc2c5"/><stop offset="61.9%" stop-color="#dcc3cc"/><stop offset="62.3%" stop-color="#d5a9b2"/><stop offset="62.7%" stop-color="#d3adb0"/><stop offset="63.1%" stop-color="#d4acb4"/><stop offset="63.5%" stop-color="#d4afb8"/><stop offset="63.9%" stop-color="#d2b3bf"/><stop offset="64.3%" stop-color="#d5b1c0"/><stop offset="64.7%" stop-color="#d7bbc9"/><stop offset="65.1%" stop-color="#d8b4ba"/><stop offset="65.5%" stop-color="#d9b4be"/><stop offset="65.9%" stop-color="#d9b6c1"/><stop offset="66.3%" stop-color="#d9a6ac"/><stop offset="66.7%" stop-color="#deb1b8"/><stop offset="67.1%" stop-color="#d3aab6"/><stop offset="67.5%" stop-color="#d5abb4"/><stop offset="67.9%" stop-color="#d199aa"/><stop offset="68.3%" stop-color="#dba6a9"/><stop offset="68.7%" stop-color="#df9e9e"/><stop offset="69.1%" stop-color="#e3afb1"/><stop offset="69.5%" stop-color="#deb4b6"/><stop offset="69.9%" stop-color="#d9a5b1"/><stop offset="70.3%" stop-color="#e0a5aa"/><stop offset="70.7%" stop-color="#d8a2a9"/><stop offset="71.1%" stop-color="#dea5a6"/><stop offset="71.5%" stop-color="#e2a5a5"/><stop offset="71.9%" stop-color="#e4a6ab"/><stop offset="72.3%" stop-color="#e2a4a4"/><stop offset="72.7%" stop-color="#d68fa2"/><stop offset="73.1%" stop-color="#d7a0a7"/><stop offset="73.5%" stop-color="#e3aab4"/><stop offset="73.9%" stop-color="#e2a8b0"/><stop offset="74.3%" stop-color="#db9191"/><stop offset="74.7%" stop-color="#db8f9a"/><stop offset="75.2%" stop-color="#da939a"/><stop offset="75.6%" stop-color="#e0a0a3"/><stop offset="76.0%" stop-color="#dd8b8a"/><stop offset="76.4%" stop-color="#e09ca0"/><stop offset="76.8%" stop-color="#e69691"/><stop offset="77.2%" stop-color="#e19b9d"/><stop offset="77.6%" stop-color="#da898c"/><stop offset="78.0%" stop-color="#d68d93"/><stop offset="78.4%" stop-color="#dc9c9f"/><stop offset="78.8%" stop-color="#da8f9c"/><stop offset="79.2%" stop-color="#db9ba7"/><stop offset="79.6%" stop-color="#dc8691"/><stop offset="80.0%" stop-color="#db9ca7"/><stop offset="80.4%" stop-color="#de9899"/><stop offset="80.8%" stop-color="#e08c94"/><stop offset="81.2%" stop-color="#da8998"/><stop offset="81.6%" stop-color="#e299a1"/><stop offset="82.0%" stop-color="#e39ea3"/><stop offset="82.4%" stop-color="#e6878a"/><stop offset="82.8%" stop-color="#e0817d"/><stop offset="83.2%" stop-color="#e29198"/><stop offset="83.6%" stop-color="#e0858b"/><stop offset="84.0%" stop-color="#e1a8a7"/><stop offset="84.4%" stop-color="#e6a2a3"/><stop offset="84.8%" stop-color="#e5abaf"/><stop offset="85.2%" stop-color="#e09a9d"/><stop offset="85.6%" stop-color="#de9996"/><stop offset="86.0%" stop-color="#e18990"/><stop offset="86.4%" stop-color="#d97982"/><stop offset="86.8%" stop-color="#dc8185"/><stop offset="87.2%" stop-color="#d78a94"/><stop offset="87.6%" stop-color="#dc8692"/><stop offset="88.0%" stop-color="#dc9293"/><stop offset="88.4%" stop-color="#e5a8ab"/><stop offset="88.8%" stop-color="#dfaeb0"/><stop offset="89.2%" stop-color="#dd9ba4"/><stop offset="89.6%" stop-color="#e38f90"/><stop offset="90.0%" stop-color="#d48391"/><stop offset="90.4%" stop-color="#d59da6"/><stop offset="90.8%" stop-color="#df8b94"/><stop offset="91.2%" stop-color="#e58284"/><stop offset="91.6%" stop-color="#de8289"/><stop offset="92.0%" stop-color="#e29ea1"/><stop offset="92.4%" stop-color="#dd8791"/><stop offset="92.8%" stop-color="#d8757c"/><stop offset="93.2%" stop-color="#de7677"/><stop offset="93.6%" stop-color="#df9396"/><stop offset="94.0%" stop-color="#da97a0"/><stop offset="94.4%" stop-color="#e08786"/><stop offset="94.8%" stop-color="#dc888b"/><stop offset="95.2%" stop-color="#e0a0a1"/><stop offset="95.6%" stop-color="#db979e"/><stop offset="96.0%" stop-color="#e79a9b"/><stop offset="96.4%" stop-color="#e07f82"/><stop offset="96.8%" stop-color="#da8789"/><stop offset="97.2%" stop-color="#e28487"/><stop offset="97.6%" stop-color="#e08f97"/><stop offset="98.0%" stop-color="#d67781"/><stop offset="98.4%" stop-color="#d88e9c"/><stop offset="98.8%" stop-color="#d7818f"/><stop offset="99.2%" stop-color="#e27c74"/><stop offset="99.6%" stop-color="#de8083"/><stop offset="100.0%" stop-color="#d897a1"/></linearGradient>
<linearGradient id="h12" x1="0" y1="0" x2="0" y2="1"><stop offset="0.2%" stop-color="#da6470"/><stop offset="0.6%" stop-color="#e27778"/><stop offset="1.0%" stop-color="#e16e76"/><stop offset="1.4%" stop-color="#db717a"/><stop offset="1.8%" stop-color="#dd8d97"/><stop offset="2.2%" stop-color="#e0767c"/><stop offset="2.6%" stop-color="#e6898b"/><stop offset="3.0%" stop-color="#e68786"/><stop offset="3.4%" stop-color="#e6888a"/><stop offset="3.8%" stop-color="#da717c"/><stop offset="4.2%" stop-color="#db8891"/><stop offset="4.6%" stop-color="#e06b6d"/><stop offset="5.0%" stop-color="#df929d"/><stop offset="5.4%" stop-color="#dd8b95"/><stop offset="5.8%" stop-color="#d87c86"/><stop offset="6.2%" stop-color="#e3808e"/><stop offset="6.6%" stop-color="#dd8f9b"/><stop offset="7.0%" stop-color="#dc7074"/><stop offset="7.4%" stop-color="#db6f7a"/><stop offset="7.8%" stop-color="#d9838b"/><stop offset="8.2%" stop-color="#e68081"/><stop offset="8.6%" stop-color="#df7e87"/><stop offset="9.0%" stop-color="#dd747f"/><stop offset="9.4%" stop-color="#dd7579"/><stop offset="9.8%" stop-color="#e28588"/><stop offset="10.2%" stop-color="#ea908d"/><stop offset="10.6%" stop-color="#e28c92"/><stop offset="11.0%" stop-color="#e47477"/><stop offset="11.4%" stop-color="#de6e6e"/><stop offset="11.8%" stop-color="#dd888d"/><stop offset="12.2%" stop-color="#e68185"/><stop offset="12.6%" stop-color="#da626a"/><stop offset="13.0%" stop-color="#df6c73"/><stop offset="13.4%" stop-color="#dc686e"/><stop offset="13.8%" stop-color="#df8987"/><stop offset="14.2%" stop-color="#d57884"/><stop offset="14.6%" stop-color="#de888e"/><stop offset="15.0%" stop-color="#db878b"/><stop offset="15.4%" stop-color="#e299a0"/><stop offset="15.8%" stop-color="#d7929f"/><stop offset="16.2%" stop-color="#db7687"/><stop offset="16.6%" stop-color="#e2848c"/><stop offset="17.0%" stop-color="#e19f9e"/><stop offset="17.4%" stop-color="#e68484"/><stop offset="17.8%" stop-color="#dd8896"/><stop offset="18.2%" stop-color="#e27f80"/><stop offset="18.6%" stop-color="#de969e"/><stop offset="19.0%" stop-color="#e78483"/><stop offset="19.4%" stop-color="#e17c82"/><stop offset="19.8%" stop-color="#da686f"/><stop offset="20.2%" stop-color="#d87577"/><stop offset="20.6%" stop-color="#da6d72"/><stop offset="21.0%" stop-color="#de8c8f"/><stop offset="21.4%" stop-color="#e27f7d"/><stop offset="21.8%" stop-color="#df7c7f"/><stop offset="22.2%" stop-color="#db6774"/><stop offset="22.6%" stop-color="#d77884"/><stop offset="23.0%" stop-color="#d78d98"/><stop offset="23.4%" stop-color="#e49298"/><stop offset="23.8%" stop-color="#dd8d90"/><stop offset="24.2%" stop-color="#e48a94"/><stop offset="24.6%" stop-color="#e2868c"/><stop offset="25.1%" stop-color="#e48681"/><stop offset="25.5%" stop-color="#dc92a0"/><stop offset="25.9%" stop-color="#e47c83"/><stop offset="26.3%" stop-color="#e77775"/><stop offset="26.7%" stop-color="#ed9192"/><stop offset="27.1%" stop-color="#e38b8d"/><stop offset="27.5%" stop-color="#e1767b"/><stop offset="27.9%" stop-color="#e88785"/><stop offset="28.3%" stop-color="#e2aba8"/><stop offset="28.7%" stop-color="#e69898"/><stop offset="29.1%" stop-color="#da979f"/><stop offset="29.5%" stop-color="#e59292"/><stop offset="29.9%" stop-color="#d7868e"/><stop offset="30.3%" stop-color="#dd7475"/><stop offset="30.7%" stop-color="#d78a97"/><stop offset="31.1%" stop-color="#db9fa7"/><stop offset="31.5%" stop-color="#da9097"/><stop offset="31.9%" stop-color="#d8959a"/><stop offset="32.3%" stop-color="#d79b9d"/><stop offset="32.7%" stop-color="#db9e9e"/><stop offset="33.1%" stop-color="#d9b4bb"/><stop offset="33.5%" stop-color="#d0a8b1"/><stop offset="33.9%" stop-color="#d2a4b0"/><stop offset="34.3%" stop-color="#d2a1b0"/><stop offset="34.7%" stop-color="#cea8b9"/><stop offset="35.1%" stop-color="#d1bbc7"/><stop offset="35.5%" stop-color="#d4b9c7"/><stop offset="35.9%" stop-color="#d5bdc5"/><stop offset="36.3%" stop-color="#cfbac7"/><stop offset="36.7%" stop-color="#d3bcc3"/><stop offset="37.1%" stop-color="#c8bdcf"/><stop offset="37.5%" stop-color="#c8c3ce"/><stop offset="37.9%" stop-color="#cab7c2"/><stop offset="38.3%" stop-color="#c3c0ca"/><stop offset="38.7%" stop-color="#c8c2c9"/><stop offset="39.1%" stop-color="#cac0d1"/><stop offset="39.5%" stop-color="#cfc3c4"/><stop offset="39.9%" stop-color="#cfbfcf"/><stop offset="40.3%" stop-color="#c2b7c3"/><stop offset="40.7%" stop-color="#bfbbca"/><stop offset="41.1%" stop-color="#c3bfd4"/><stop offset="41.5%" stop-color="#cdc4d4"/><stop offset="41.9%" stop-color="#c6b8c2"/><stop offset="42.3%" stop-color="#b9b6c9"/><stop offset="42.7%" stop-color="#cac0c8"/><stop offset="43.1%" stop-color="#c3becb"/><stop offset="43.5%" stop-color="#c7c1cc"/><stop offset="43.9%" stop-color="#c7b8bf"/><stop offset="44.3%" stop-color="#c8c3d1"/><stop offset="44.7%" stop-color="#c0bbca"/><stop offset="45.1%" stop-color="#c8c2ce"/><stop offset="45.5%" stop-color="#c3bfc8"/><stop offset="45.9%" stop-color="#bdbdcb"/><stop offset="46.3%" stop-color="#c9ccd4"/><stop offset="46.7%" stop-color="#bdc0cb"/><stop offset="47.1%" stop-color="#b1b6d3"/><stop offset="47.5%" stop-color="#c7bbc9"/><stop offset="47.9%" stop-color="#c0bac9"/><stop offset="48.3%" stop-color="#bebfd5"/><stop offset="48.7%" stop-color="#c1c4ce"/><stop offset="49.1%" stop-color="#c6c5ce"/><stop offset="49.5%" stop-color="#d1c5cf"/><stop offset="49.9%" stop-color="#bdc0d6"/><stop offset="50.3%" stop-color="#c5c7da"/><stop offset="50.7%" stop-color="#a8bad5"/><stop offset="51.1%" stop-color="#b6b9cc"/><stop offset="51.5%" stop-color="#a5b6d0"/><stop offset="51.9%" stop-color="#b7bbd5"/><stop offset="52.3%" stop-color="#a7bad2"/><stop offset="52.7%" stop-color="#aab8d2"/><stop offset="53.1%" stop-color="#b3bddb"/><stop offset="53.5%" stop-color="#b5c4e0"/><stop offset="53.9%" stop-color="#abbfe9"/><stop offset="54.3%" stop-color="#bdc8e0"/><stop offset="54.7%" stop-color="#a0bce0"/><stop offset="55.1%" stop-color="#9ebfe2"/><stop offset="55.5%" stop-color="#95b2de"/><stop offset="55.9%" stop-color="#9cb8dd"/><stop offset="56.3%" stop-color="#9bb7e3"/><stop offset="56.7%" stop-color="#99b7e0"/><stop offset="57.1%" stop-color="#9bafdb"/><stop offset="57.5%" stop-color="#9fb9df"/><stop offset="57.9%" stop-color="#afc7e7"/><stop offset="58.3%" stop-color="#97b5ef"/><stop offset="58.7%" stop-color="#82ace9"/><stop offset="59.1%" stop-color="#90b4e3"/><stop offset="59.5%" stop-color="#8eb5ed"/><stop offset="59.9%" stop-color="#75a5e3"/><stop offset="60.3%" stop-color="#85b5e9"/><stop offset="60.7%" stop-color="#84a9ef"/><stop offset="61.1%" stop-color="#79aaf0"/><stop offset="61.5%" stop-color="#99bbea"/><stop offset="61.9%" stop-color="#aec2e5"/><stop offset="62.3%" stop-color="#9fbbe4"/><stop offset="62.7%" stop-color="#97b3eb"/><stop offset="63.1%" stop-color="#73a8ea"/><stop offset="63.5%" stop-color="#84afe8"/><stop offset="63.9%" stop-color="#7fb0e9"/><stop offset="64.3%" stop-color="#8cb2e6"/><stop offset="64.7%" stop-color="#a1bfe8"/><stop offset="65.1%" stop-color="#90aeea"/><stop offset="65.5%" stop-color="#93b9eb"/><stop offset="65.9%" stop-color="#8db6ef"/><stop offset="66.3%" stop-color="#91b2e9"/><stop offset="66.7%" stop-color="#99b8ec"/><stop offset="67.1%" stop-color="#8cb9f0"/><stop offset="67.5%" stop-color="#9bb9eb"/><stop offset="67.9%" stop-color="#73aaee"/><stop offset="68.3%" stop-color="#97b8e6"/><stop offset="68.7%" stop-color="#85ace9"/><stop offset="69.1%" stop-color="#a8bfe4"/><stop offset="69.5%" stop-color="#adbde6"/><stop offset="69.9%" stop-color="#8fb8ee"/><stop offset="70.3%" stop-color="#8bb3e9"/><stop offset="70.7%" stop-color="#93bae9"/><stop offset="71.1%" stop-color="#6da8ea"/><stop offset="71.5%" stop-color="#6eaaea"/><stop offset="71.9%" stop-color="#a0bde4"/><stop offset="72.3%" stop-color="#a5bfe5"/><stop offset="72.7%" stop-color="#74a8f5"/><stop offset="73.1%" stop-color="#78aef4"/><stop offset="73.5%" stop-color="#9dbbe7"/><stop offset="73.9%" stop-color="#93bbe9"/><stop offset="74.3%" stop-color="#88b2ec"/><stop offset="74.7%" stop-color="#7dade7"/><stop offset="75.2%" stop-color="#75a7ee"/><stop offset="75.6%" stop-color="#94b8eb"/><stop offset="76.0%" stop-color="#8eb5e8"/><stop offset="76.4%" stop-color="#a6bbe0"/><stop offset="76.8%" stop-color="#9ab7e4"/><stop offset="77.2%" stop-color="#89b3e9"/><stop offset="77.6%" stop-color="#7aafeb"/><stop offset="78.0%" stop-color="#85b4ef"/><stop offset="78.4%" stop-color="#87b6ea"/><stop offset="78.8%" stop-color="#85b2eb"/><stop offset="79.2%" stop-color="#9bbaea"/><stop offset="79.6%" stop-color="#93b3e7"/><stop offset="80.0%" stop-color="#9abce9"/><stop offset="80.4%" stop-color="#a9bde5"/><stop offset="80.8%" stop-color="#80aeeb"/><stop offset="81.2%" stop-color="#90b5ef"/><stop offset="81.6%" stop-color="#7cabee"/><stop offset="82.0%" stop-color="#86afe4"/><stop offset="82.4%" stop-color="#80abe7"/><stop offset="82.8%" stop-color="#79aae8"/><stop offset="83.2%" stop-color="#6eadf3"/><stop offset="83.6%" stop-color="#75a7ea"/><stop offset="84.0%" stop-color="#a2b9e1"/><stop offset="84.4%" stop-color="#9ebce6"/><stop offset="84.8%" stop-color="#a6c3ea"/><stop offset="85.2%" stop-color="#a5c5ef"/><stop offset="85.6%" stop-color="#acc5e9"/><stop offset="86.0%" stop-color="#8bb5e8"/><stop offset="86.4%" stop-color="#7aa5e4"/><stop offset="86.8%" stop-color="#75a5e7"/><stop offset="87.2%" stop-color="#a0b8e9"/><stop offset="87.6%" stop-color="#90b6ed"/><stop offset="88.0%" stop-color="#8eb1ec"/><stop offset="88.4%" stop-color="#9fbff0"/><stop offset="88.8%" stop-color="#a9c6ea"/><stop offset="89.2%" stop-color="#87b3ed"/><stop offset="89.6%" stop-color="#9abcea"/><stop offset="90.0%" stop-color="#74abe9"/><stop offset="90.4%" stop-color="#80acf4"/><stop offset="90.8%" stop-color="#7cb4f0"/><stop offset="91.2%" stop-color="#adc5e1"/><stop offset="91.6%" stop-color="#92b2e2"/><stop offset="92.0%" stop-color="#8bb6ee"/><stop offset="92.4%" stop-color="#77afef"/><stop offset="92.8%" stop-color="#6ea9e9"/><stop offset="93.2%" stop-color="#8aabe4"/><stop offset="93.6%" stop-color="#97baea"/><stop offset="94.0%" stop-color="#92b5ea"/><stop offset="94.4%" stop-color="#86b4e8"/><stop offset="94.8%" stop-color="#7fa6ef"/><stop offset="95.2%" stop-color="#b4bee7"/><stop offset="95.6%" stop-color="#a0c2e5"/><stop offset="96.0%" stop-color="#adc4e5"/><stop offset="96.4%" stop-color="#8ab1e2"/><stop offset="96.8%" stop-color="#7daeed"/><stop offset="97.2%" stop-color="#8aaee7"/><stop offset="97.6%" stop-color="#8cb3ec"/><stop offset="98.0%" stop-color="#72abeb"/><stop offset="98.4%" stop-color="#7cabeb"/><stop offset="98.8%" stop-color="#83b3f2"/><stop offset="99.2%" stop-color="#90b0e3"/><stop offset="99.6%" stop-color="#9ab6e4"/><stop offset="100.0%" stop-color="#91bbf3"/></linearGradient>
<linearGradient id="h13" x1="0" y1="0" x2="0" y2="1"><stop offset="0.2%" stop-color="#92b7e6"/><stop offset="0.6%" stop-color="#96b9e1"/><stop offset="1.0%" stop-color="#98b4e1"/><stop offset="1.4%" stop-color="#90b7ea"/><stop offset="1.8%" stop-color="#8cb7eb"/><stop offset="2.2%" stop-color="#9db9e0"/><stop offset="2.6%" stop-color="#b9c5d8"/><stop offset="3.0%" stop-color="#abbedb"/><stop offset="3.4%" stop-color="#9fc2e5"/><stop offset="3.8%" stop-color="#8ab9e9"/><stop offset="4.2%" stop-color="#8cb1e0"/><stop offset="4.6%" stop-color="#7faee2"/><stop offset="5.0%" stop-color="#95bae5"/><stop offset="5.4%" stop-color="#8fb7e9"/><stop offset="5.8%" stop-color="#8abaee"/><stop offset="6.2%" stop-color="#91b9e9"/><stop offset="6.6%" stop-color="#98beed"/><stop offset="7.0%" stop-color="#94bae6"/><stop offset="7.4%" stop-color="#8eafdc"/><stop offset="7.8%" stop-color="#9ab3df"/><stop offset="8.2%" stop-color="#a3bee6"/><stop offset="8.6%" stop-color="#9abde4"/><stop offset="9.0%" stop-color="#9ebce1"/><stop offset="9.4%" stop-color="#a1c0e0"/><stop offset="9.8%" stop-color="#a5c0e7"/><stop offset="10.2%" stop-color="#a7bfe2"/><stop offset="10.6%" stop-color="#a9bae0"/><stop offset="11.0%" stop-color="#9bb6de"/><stop offset="11.4%" stop-color="#9bbde1"/><stop offset="11.8%" stop-color="#94b9df"/><stop offset="12.2%" stop-color="#aac0e7"/><stop offset="12.6%" stop-color="#8bb3e5"/><stop offset="13.0%" stop-color="#9eb9dc"/><stop offset="13.4%" stop-color="#94b1e7"/><stop offset="13.8%" stop-color="#89b4ec"/><stop offset="14.2%" stop-color="#98bfeb"/><stop offset="14.6%" stop-color="#9db5e3"/><stop offset="15.0%" stop-color="#a4bde3"/><stop offset="15.4%" stop-color="#a3bce5"/><stop offset="15.8%" stop-color="#96b2eb"/><stop offset="16.2%" stop-color="#a2bdea"/><stop offset="16.6%" stop-color="#9abbea"/><stop offset="17.0%" stop-color="#aec2e4"/><stop offset="17.4%" stop-color="#b3c2df"/><stop offset="17.8%" stop-color="#a2bbe7"/><stop offset="18.2%" stop-color="#9fb6e3"/><stop offset="18.6%" stop-color="#adc2e8"/><stop offset="19.0%" stop-color="#a8badf"/><stop offset="19.4%" stop-color="#9bb5df"/><stop offset="19.8%" stop-color="#82ace4"/><stop offset="20.2%" stop-color="#86afeb"/><stop offset="20.6%" stop-color="#89ace5"/><stop offset="21.0%" stop-color="#8fafed"/><stop offset="21.4%" stop-color="#97b9e7"/><stop offset="21.8%" stop-color="#93b8e2"/><stop offset="22.2%" stop-color="#87a7e3"/><stop offset="22.6%" stop-color="#95acde"/><stop offset="23.0%" stop-color="#85a8e9"/><stop offset="23.4%" stop-color="#97b4e1"/><stop offset="23.8%" stop-color="#99b3e5"/><stop offset="24.2%" stop-color="#9eb9e8"/><stop offset="24.6%" stop-color="#96b3e1"/><stop offset="25.1%" stop-color="#a4b4e0"/><stop offset="25.5%" stop-color="#91ade9"/><stop offset="25.9%" stop-color="#99afda"/><stop offset="26.3%" stop-color="#a2a8d5"/><stop offset="26.7%" stop-color="#a0b0d8"/><stop offset="27.1%" stop-color="#98aadf"/><stop offset="27.5%" stop-color="#919ed8"/><stop offset="27.9%" stop-color="#a0a9cf"/><stop offset="28.3%" stop-color="#afb6e0"/><stop offset="28.7%" stop-color="#adaad5"/><stop offset="29.1%" stop-color="#acadd7"/><stop offset="29.5%" stop-color="#afa9d2"/><stop offset="29.9%" stop-color="#929dd6"/><stop offset="30.3%" stop-color="#9293d3"/><stop offset="30.7%" stop-color="#9c96d3"/><stop offset="31.1%" stop-color="#aca9d2"/><stop offset="31.5%" stop-color="#a69dd6"/><stop offset="31.9%" stop-color="#aea6d6"/><stop offset="32.3%" stop-color="#a39acb"/><stop offset="32.7%" stop-color="#a0a1db"/><stop offset="33.1%" stop-color="#abacdc"/><stop offset="33.5%" stop-color="#a6a2db"/><stop offset="33.9%" stop-color="#9b9cd6"/><stop offset="34.3%" stop-color="#999bca"/><stop offset="34.7%" stop-color="#918fd1"/><stop offset="35.1%" stop-color="#a5a3e0"/><stop offset="35.5%" stop-color="#a7a0cd"/><stop offset="35.9%" stop-color="#bba4cf"/><stop offset="36.3%" stop-color="#aa9aca"/><stop offset="36.7%" stop-color="#aa92ca"/><stop offset="37.1%" stop-color="#a985bd"/><stop offset="37.5%" stop-color="#b494be"/><stop offset="37.9%" stop-color="#b689ac"/><stop offset="38.3%" stop-color="#a87ba6"/><stop offset="38.7%" stop-color="#b881ad"/><stop offset="39.1%" stop-color="#b67da5"/><stop offset="39.5%" stop-color="#c37994"/><stop offset="39.9%" stop-color="#ca8a8b"/><stop offset="40.3%" stop-color="#c78a8d"/><stop offset="40.7%" stop-color="#c58697"/><stop offset="41.1%" stop-color="#b77d90"/><stop offset="41.5%" stop-color="#c8909c"/><stop offset="41.9%" stop-color="#c47b88"/><stop offset="42.3%" stop-color="#c66e7b"/><stop offset="42.7%" stop-color="#cf838a"/><stop offset="43.1%" stop-color="#cc7e8a"/><stop offset="43.5%" stop-color="#c77e88"/><stop offset="43.9%" stop-color="#cc888c"/><stop offset="44.3%" stop-color="#c694a4"/><stop offset="44.7%" stop-color="#ca6f78"/><stop offset="45.1%" stop-color="#d28688"/><stop offset="45.5%" stop-color="#c5636d"/><stop offset="45.9%" stop-color="#c76c78"/><stop offset="46.3%" stop-color="#c37989"/><stop offset="46.7%" stop-color="#cd757d"/><stop offset="47.1%" stop-color="#c67483"/><stop offset="47.5%" stop-color="#d79097"/><stop offset="47.9%" stop-color="#d06b75"/><stop offset="48.3%" stop-color="#d57f88"/><stop offset="48.7%" stop-color="#d88182"/><stop offset="49.1%" stop-color="#d77171"/><stop offset="49.5%" stop-color="#dc7376"/><stop offset="49.9%" stop-color="#ce5c69"/><stop offset="50.3%" stop-color="#c9707e"/><stop offset="50.7%" stop-color="#d05b69"/><stop offset="51.1%" stop-color="#cf5c68"/><stop offset="51.5%" stop-color="#d75658"/><stop offset="51.9%" stop-color="#da7e81"/><stop offset="52.3%" stop-color="#d97b7b"/><stop offset="52.7%" stop-color="#df7172"/><stop offset="53.1%" stop-color="#d5697a"/><stop offset="53.5%" stop-color="#da8e95"/><stop offset="53.9%" stop-color="#d7838b"/><stop offset="54.3%" stop-color="#db929c"/><stop offset="54.7%" stop-color="#d97a7b"/><stop offset="55.1%" stop-color="#d86064"/><stop offset="55.5%" stop-color="#d15059"/><stop offset="55.9%" stop-color="#db7179"/><stop offset="56.3%" stop-color="#e07177"/><stop offset="56.7%" stop-color="#da6d70"/><stop offset="57.1%" stop-color="#e26e6a"/><stop offset="57.5%" stop-color="#dd9192"/><stop offset="57.9%" stop-color="#d992a0"/><stop offset="58.3%" stop-color="#d97b85"/><stop offset="58.7%" stop-color="#d66b72"/><stop offset="59.1%" stop-color="#da696d"/><stop offset="59.5%" stop-color="#d16778"/><stop offset="59.9%" stop-color="#dd4d52"/><stop offset="60.3%" stop-color="#df787a"/><stop offset="60.7%" stop-color="#d87377"/><stop offset="61.1%" stop-color="#d56174"/><stop offset="61.5%" stop-color="#dd8b93"/><stop offset="61.9%" stop-color="#dd8591"/><stop offset="62.3%" stop-color="#da7f8c"/><stop offset="62.7%" stop-color="#de656e"/><stop offset="63.1%" stop-color="#da545b"/><stop offset="63.5%" stop-color="#dd6469"/><stop offset="63.9%" stop-color="#de7073"/><stop offset="64.3%" stop-color="#df858d"/><stop offset="64.7%" stop-color="#dc8694"/><stop offset="65.1%" stop-color="#d77073"/><stop offset="65.5%" stop-color="#d87a86"/><stop offset="65.9%" stop-color="#da747e"/><stop offset="66.3%" stop-color="#e1757a"/><stop offset="66.7%" stop-color="#e49090"/><stop offset="67.1%" stop-color="#d4748a"/><stop offset="67.5%" stop-color="#db7d88"/><stop offset="67.9%" stop-color="#d45861"/><stop offset="68.3%" stop-color="#dc7176"/><stop offset="68.7%" stop-color="#df5d59"/><stop offset="69.1%" stop-color="#e18182"/><stop offset="69.5%" stop-color="#e58f92"/><stop offset="69.9%" stop-color="#e07d83"/><stop offset="70.3%" stop-color="#e18382"/><stop offset="70.7%" stop-color="#df999b"/><stop offset="71.1%" stop-color="#e6878e"/><stop offset="71.5%" stop-color="#db8184"/><stop offset="71.9%" stop-color="#dda3a7"/><stop offset="72.3%" stop-color="#dd8487"/><stop offset="72.7%" stop-color="#d77982"/><stop offset="73.1%" stop-color="#d77989"/><stop offset="73.5%" stop-color="#e2969b"/><stop offset="73.9%" stop-color="#de8a92"/><stop offset="74.3%" stop-color="#df8e95"/><stop offset="74.7%" stop-color="#de888f"/><stop offset="75.2%" stop-color="#e18b91"/><stop offset="75.6%" stop-color="#e2a8ae"/><stop offset="76.0%" stop-color="#df969b"/><stop offset="76.4%" stop-color="#e2a39f"/><stop offset="76.8%" stop-color="#e39a9c"/><stop offset="77.2%" stop-color="#d999a0"/><stop offset="77.6%" stop-color="#e39fa7"/><stop offset="78.0%" stop-color="#da939b"/><stop offset="78.4%" stop-color="#da9fa2"/><stop offset="78.8%" stop-color="#db95a3"/><stop offset="79.2%" stop-color="#e0a8b2"/><stop offset="79.6%" stop-color="#e3a0a4"/><stop offset="80.0%" stop-color="#e29f9e"/><stop offset="80.4%" stop-color="#de9ea2"/><stop offset="80.8%" stop-color="#dd929e"/><stop offset="81.2%" stop-color="#e297a1"/><stop offset="81.6%" stop-color="#db99a9"/><stop offset="82.0%" stop-color="#dea1a1"/><stop offset="82.4%" stop-color="#e1938c"/><stop offset="82.8%" stop-color="#df8c8d"/><stop offset="83.2%" stop-color="#da9ea6"/><stop offset="83.6%" stop-color="#d892a1"/><stop offset="84.0%" stop-color="#dfabae"/><stop offset="84.4%" stop-color="#e3abb1"/><stop offset="84.8%" stop-color="#eaaeb3"/><stop offset="85.2%" stop-color="#dea8af"/><stop offset="85.6%" stop-color="#e2aeb4"/><stop offset="86.0%" stop-color="#dca4a4"/><stop offset="86.4%" stop-color="#df8e94"/><stop offset="86.8%" stop-color="#e28d91"/><stop offset="87.2%" stop-color="#e2a1a6"/><stop offset="87.6%" stop-color="#e7999d"/><stop offset="88.0%" stop-color="#e7a1a4"/><stop offset="88.4%" stop-color="#e2aeb1"/><stop offset="88.8%" stop-color="#deb4bd"/><stop offset="89.2%" stop-color="#ddacb4"/><stop offset="89.6%" stop-color="#deadbe"/><stop offset="90.0%" stop-color="#dd9da0"/><stop offset="90.4%" stop-color="#df9fab"/><stop offset="90.8%" stop-color="#dca4a6"/><stop offset="91.2%" stop-color="#eaa2a2"/><stop offset="91.6%" stop-color="#e7b3b6"/><stop offset="92.0%" stop-color="#e5afa9"/><stop offset="92.4%" stop-color="#d89ea6"/><stop offset="92.8%" stop-color="#dd9da3"/><stop offset="93.2%" stop-color="#e7a4a0"/><stop offset="93.6%" stop-color="#e0a8a8"/><stop offset="94.0%" stop-color="#dd9da5"/><stop offset="94.4%" stop-color="#e29ba0"/><stop offset="94.8%" stop-color="#e1a7a9"/><stop offset="95.2%" stop-color="#e5a6a4"/><stop offset="95.6%" stop-color="#e1abb0"/><stop offset="96.0%" stop-color="#e5a8a3"/><stop offset="96.4%" stop-color="#e2a0a2"/><stop offset="96.8%" stop-color="#ddabb2"/><stop offset="97.2%" stop-color="#dea9b3"/><stop offset="97.6%" stop-color="#dca0a6"/><stop offset="98.0%" stop-color="#dc8c93"/><stop offset="98.4%" stop-color="#e09a9f"/><stop offset="98.8%" stop-color="#e1a2a9"/><stop offset="99.2%" stop-color="#e89797"/><stop offset="99.6%" stop-color="#df98a2"/><stop offset="100.0%" stop-color="#d6acbb"/></linearGradient>
<linearGradient id="h14" x1="0" y1="0" x2="0" y2="1"><stop offset="0.2%" stop-color="#e27a82"/><stop offset="0.6%" stop-color="#e08b8f"/><stop offset="1.0%" stop-color="#e28380"/><stop offset="1.4%" stop-color="#dc9599"/><stop offset="1.8%" stop-color="#dc9c9f"/><stop offset="2.2%" stop-color="#e48c8e"/><stop offset="2.6%" stop-color="#e4a0a4"/><stop offset="3.0%" stop-color="#e6979f"/><stop offset="3.4%" stop-color="#e79e98"/><stop offset="3.8%" stop-color="#da8190"/><stop offset="4.2%" stop-color="#e09c9d"/><stop offset="4.6%" stop-color="#db9098"/><stop offset="5.0%" stop-color="#dfa1a9"/><stop offset="5.4%" stop-color="#d9929d"/><stop offset="5.8%" stop-color="#dd9294"/><stop offset="6.2%" stop-color="#df8d8c"/><stop offset="6.6%" stop-color="#db8e9a"/><stop offset="7.0%" stop-color="#e79491"/><stop offset="7.4%" stop-color="#da8a88"/><stop offset="7.8%" stop-color="#dd848b"/><stop offset="8.2%" stop-color="#e58c8e"/><stop offset="8.6%" stop-color="#d9838e"/><stop offset="9.0%" stop-color="#dc8e9a"/><stop offset="9.4%" stop-color="#dd9998"/><stop offset="9.8%" stop-color="#dc8e93"/><stop offset="10.2%" stop-color="#e99592"/><stop offset="10.6%" stop-color="#e69898"/><stop offset="11.0%" stop-color="#e29996"/><stop offset="11.4%" stop-color="#e19497"/><stop offset="11.8%" stop-color="#e39293"/><stop offset="12.2%" stop-color="#dd9697"/><stop offset="12.6%" stop-color="#de7d81"/><stop offset="13.0%" stop-color="#e59394"/><stop offset="13.4%" stop-color="#de8383"/><stop offset="13.8%" stop-color="#e19b9b"/><stop offset="14.2%" stop-color="#d5acb9"/><stop offset="14.6%" stop-color="#e7a1a6"/><stop offset="15.0%" stop-color="#e3a0a3"/><stop offset="15.4%" stop-color="#daa0a4"/><stop offset="15.8%" stop-color="#d99aa6"/><stop offset="16.2%" stop-color="#d998a7"/><stop offset="16.6%" stop-color="#da989e"/><stop offset="17.0%" stop-color="#e6afb1"/><stop offset="17.4%" stop-color="#de999d"/><stop offset="17.8%" stop-color="#db9faa"/><stop offset="18.2%" stop-color="#dd98a2"/><stop offset="18.6%" stop-color="#e1a9b2"/><stop offset="19.0%" stop-color="#e78e8b"/><stop offset="19.4%" stop-color="#d98392"/><stop offset="19.8%" stop-color="#dc8b98"/><stop offset="20.2%" stop-color="#dd98a4"/><stop offset="20.6%" stop-color="#da868e"/><stop offset="21.0%" stop-color="#dda0a5"/><stop offset="21.4%" stop-color="#e99fa0"/><stop offset="21.8%" stop-color="#e09698"/><stop offset="22.2%" stop-color="#de9194"/><stop offset="22.6%" stop-color="#e19198"/><stop offset="23.0%" stop-color="#df99a7"/><stop offset="23.4%" stop-color="#e29692"/><stop offset="23.8%" stop-color="#e39496"/><stop offset="24.2%" stop-color="#dca3a6"/><stop offset="24.6%" stop-color="#e08e8e"/><stop offset="25.1%" stop-color="#e48e8f"/><stop offset="25.5%" stop-color="#e2a09d"/><stop offset="25.9%" stop-color="#e09a9a"/><stop offset="26.3%" stop-color="#e68f90"/><stop offset="26.7%" stop-color="#e299a0"/><stop offset="27.1%" stop-color="#dea7a4"/><stop offset="27.5%" stop-color="#e18d90"/><stop offset="27.9%" stop-color="#e79397"/><stop offset="28.3%" stop-color="#e3aaaf"/><stop offset="28.7%" stop-color="#e69496"/><stop offset="29.1%" stop-color="#e3afb3"/><stop offset="29.5%" stop-color="#e4abb0"/><stop offset="29.9%" stop-color="#e0959f"/><stop offset="30.3%" stop-color="#df9292"/><stop offset="30.7%" stop-color="#e39c9e"/><stop offset="31.1%" stop-color="#e4b1ae"/><stop offset="31.5%" stop-color="#e69797"/><stop offset="31.9%" stop-color="#e29395"/><stop offset="32.3%" stop-color="#e39b9d"/><stop offset="32.7%" stop-color="#e49d9d"/><stop offset="33.1%" stop-color="#df9da6"/><stop offset="33.5%" stop-color="#e19498"/><stop offset="33.9%" stop-color="#e29896"/><stop offset="34.3%" stop-color="#dc95a3"/><stop offset="34.7%" stop-color="#e09098"/><stop offset="35.1%" stop-color="#d597a3"/><stop offset="35.5%" stop-color="#df9b9b"/><stop offset="35.9%" stop-color="#dfa7b5"/><stop offset="36.3%" stop-color="#dcaab1"/><stop offset="36.7%" stop-color="#e19e9e"/><stop offset="37.1%" stop-color="#d48995"/><stop offset="37.5%" stop-color="#de939b"/><stop offset="37.9%" stop-color="#e68f8c"/><stop offset="38.3%" stop-color="#de97a6"/><stop offset="38.7%" stop-color="#df9aa3"/><stop offset="39.1%" stop-color="#df8e91"/><stop offset="39.5%" stop-color="#e88d89"/><stop offset="39.9%" stop-color="#e2b0ae"/><stop offset="40.3%" stop-color="#df8d95"/><stop offset="40.7%" stop-color="#da9fa2"/><stop offset="41.1%" stop-color="#d8a9af"/><stop offset="41.5%" stop-color="#e0aeaf"/><stop offset="41.9%" stop-color="#e09d99"/><stop offset="42.3%" stop-color="#ddb2b7"/><stop offset="42.7%" stop-color="#d9b2b3"/><stop offset="43.1%" stop-color="#d6b6b8"/><stop offset="43.5%" stop-color="#d2afbe"/><stop offset="43.9%" stop-color="#deb4c1"/><stop offset="44.3%" stop-color="#d6bacd"/><stop offset="44.7%" stop-color="#d6b2c5"/><stop offset="45.1%" stop-color="#dbbcc3"/><stop offset="45.5%" stop-color="#d8b7c3"/><stop offset="45.9%" stop-color="#d9b1c1"/><stop offset="46.3%" stop-color="#d1b9ce"/><stop offset="46.7%" stop-color="#d5baca"/><stop offset="47.1%" stop-color="#c7bad5"/><stop offset="47.5%" stop-color="#d4bdd2"/><stop offset="47.9%" stop-color="#c9b7cb"/><stop offset="48.3%" stop-color="#cab9d3"/><stop offset="48.7%" stop-color="#cfb7cf"/><stop offset="49.1%" stop-color="#c8b7cb"/><stop offset="49.5%" stop-color="#d9bdc6"/><stop offset="49.9%" stop-color="#d1bdd1"/><stop offset="50.3%" stop-color="#c6c1e2"/><stop offset="50.7%" stop-color="#bab4d6"/><stop offset="51.1%" stop-color="#c2bad0"/><stop offset="51.5%" stop-color="#bcafd4"/><stop offset="51.9%" stop-color="#c6c6df"/><stop offset="52.3%" stop-color="#c8c0db"/><stop offset="52.7%" stop-color="#c0b8d1"/><stop offset="53.1%" stop-color="#c3bbd7"/><stop offset="53.5%" stop-color="#cfc7db"/><stop offset="53.9%" stop-color="#c9c1e0"/><stop offset="54.3%" stop-color="#ccc3dd"/><stop offset="54.7%" stop-color="#b9c0df"/><stop offset="55.1%" stop-color="#c2bbd5"/><stop offset="55.5%" stop-color="#b8b7da"/><stop offset="55.9%" stop-color="#c2c0d4"/><stop offset="56.3%" stop-color="#b9b5d5"/><stop offset="56.7%" stop-color="#bfb6d6"/><stop offset="57.1%" stop-color="#c1c2de"/><stop offset="57.5%" stop-color="#ccc7dd"/><stop offset="57.9%" stop-color="#c9c7e0"/><stop offset="58.3%" stop-color="#b7bee3"/><stop offset="58.7%" stop-color="#b6b5da"/><stop offset="59.1%" stop-color="#bec0d6"/><stop offset="59.5%" stop-color="#b4bbdf"/><stop offset="59.9%" stop-color="#afbade"/><stop offset="60.3%" stop-color="#bfc2df"/><stop offset="60.7%" stop-color="#b2bbe2"/><stop offset="61.1%" stop-color="#a9b6e2"/><stop offset="61.5%" stop-color="#c3c6e3"/><stop offset="61.9%" stop-color="#c7c7e1"/><stop offset="62.3%" stop-color="#b5c2e5"/><stop offset="62.7%" stop-color="#abbae3"/><stop offset="63.1%" stop-color="#a9b9de"/><stop offset="63.5%" stop-color="#b3bcdc"/><stop offset="63.9%" stop-color="#b9bee8"/><stop offset="64.3%" stop-color="#bdc4e7"/><stop offset="64.7%" stop-color="#c1c9eb"/><stop offset="65.1%" stop-color="#afc2e9"/><stop offset="65.5%" stop-color="#b2c4ec"/><stop offset="65.9%" stop-color="#b2c2e2"/><stop offset="66.3%" stop-color="#b1c1e7"/><stop offset="66.7%" stop-color="#bfcae0"/><stop offset="67.1%" stop-color="#aec1e9"/><stop offset="67.5%" stop-color="#b0c1ea"/><stop offset="67.9%" stop-color="#9bb9ed"/><stop offset="68.3%" stop-color="#b2c0e5"/><stop offset="68.7%" stop-color="#adbce4"/><stop offset="69.1%" stop-color="#b4c8eb"/><stop offset="69.5%" stop-color="#b4c5e4"/><stop offset="69.9%" stop-color="#acbce2"/><stop offset="70.3%" stop-color="#b3c5e8"/><stop offset="70.7%" stop-color="#bccae6"/><stop offset="71.1%" stop-color="#b8c4e6"/><stop offset="71.5%" stop-color="#a6bce1"/><stop offset="71.9%" stop-color="#b4c6e6"/><stop offset="72.3%" stop-color="#a8bde8"/><stop offset="72.7%" stop-color="#a4bae9"/><stop offset="73.1%" stop-color="#a3baea"/><stop offset="73.5%" stop-color="#becbe1"/><stop offset="73.9%" stop-color="#b0c1ea"/><stop offset="74.3%" stop-color="#99baeb"/><stop offset="74.7%" stop-color="#9cbdee"/><stop offset="75.2%" stop-color="#acbee9"/><stop offset="75.6%" stop-color="#b5c6e4"/><stop offset="76.0%" stop-color="#b0c1df"/><stop offset="76.4%" stop-color="#b9c3e4"/><stop offset="76.8%" stop-color="#b4c1e3"/><stop offset="77.2%" stop-color="#a6bfec"/><stop offset="77.6%" stop-color="#a9bae3"/><stop offset="78.0%" stop-color="#9eb7e8"/><stop offset="78.4%" stop-color="#a0bde8"/><stop offset="78.8%" stop-color="#b7c4e8"/><stop offset="79.2%" stop-color="#b1c2ec"/><stop offset="79.6%" stop-color="#abc2e5"/><stop offset="80.0%" stop-color="#acc0e8"/><stop offset="80.4%" stop-color="#bac6eb"/><stop offset="80.8%" stop-color="#a7bde6"/><stop offset="81.2%" stop-color="#b3c4e9"/><stop offset="81.6%" stop-color="#adc1e5"/><stop offset="82.0%" stop-color="#b2c1df"/><stop offset="82.4%" stop-color="#a3bfe6"/><stop offset="82.8%" stop-color="#9bb6df"/><stop offset="83.2%" stop-color="#a1bfe9"/><stop offset="83.6%" stop-color="#99c2ea"/><stop offset="84.0%" stop-color="#b0c7e2"/><stop offset="84.4%" stop-color="#b6c8f2"/><stop offset="84.8%" stop-color="#b3c8ea"/><stop offset="85.2%" stop-color="#aec4ec"/><stop offset="85.6%" stop-color="#a7bde0"/><stop offset="86.0%" stop-color="#a5c2e4"/><stop offset="86.4%" stop-color="#9abeed"/><stop offset="86.8%" stop-color="#96bde9"/><stop offset="87.2%" stop-color="#a1bce5"/><stop offset="87.6%" stop-color="#9dc3ec"/><stop offset="88.0%" stop-color="#acc3e4"/><stop offset="88.4%" stop-color="#c2cde5"/><stop offset="88.8%" stop-color="#b7c6e5"/><stop offset="89.2%" stop-color="#b9cfe9"/><stop offset="89.6%" stop-color="#b2caec"/><stop offset="90.0%" stop-color="#a1c2e7"/><stop offset="90.4%" stop-color="#abc3e4"/><stop offset="90.8%" stop-color="#a0bee6"/><stop offset="91.2%" stop-color="#b8c2e3"/><stop offset="91.6%" stop-color="#aac6ee"/><stop offset="92.0%" stop-color="#b2c4ea"/><stop offset="92.4%" stop-color="#98c2f1"/><stop offset="92.8%" stop-color="#88b8ec"/><stop offset="93.2%" stop-color="#98bfea"/><stop offset="93.6%" stop-color="#a4c0e7"/><stop offset="94.0%" stop-color="#98c2f0"/><stop offset="94.4%" stop-color="#9fbce4"/><stop offset="94.8%" stop-color="#8cbaee"/><stop offset="95.2%" stop-color="#a0c7e6"/><stop offset="95.6%" stop-color="#b0c9ea"/><stop offset="96.0%" stop-color="#becde2"/><stop offset="96.4%" stop-color="#9abfe6"/><stop offset="96.8%" stop-color="#9ac3e2"/><stop offset="97.2%" stop-color="#abc2e5"/><stop offset="97.6%" stop-color="#acc9ed"/><stop offset="98.0%" stop-color="#8ebdea"/><stop offset="98.4%" stop-color="#98beee"/><stop offset="98.8%" stop-color="#9cc6ec"/><stop offset="99.2%" stop-color="#9fc2e3"/><stop offset="99.6%" stop-color="#a8bde3"/><stop offset="100.0%" stop-color="#9ac2f3"/></linearGradient></defs><rect x="20.0" y="37.0" width="12.0" height="249.5" fill="url(#h0)"/>
<rect x="32.0" y="37.0" width="11.5" height="249.5" fill="url(#h1)"/>
<rect x="43.5" y="37.0" width="11.5" height="249.5" fill="url(#h2)"/>
<rect x="59.3" y="37.0" width="11.7" height="249.5" fill="url(#h3)"/>
<rect x="71.0" y="37.0" width="12.3" height="249.5" fill="url(#h4)"/>
<rect x="83.3" y="37.0" width="11.4" height="249.5" fill="url(#h5)"/>
<rect x="99.3" y="37.0" width="11.3" height="249.5" fill="url(#h6)"/>
<rect x="110.6" y="37.0" width="23.8" height="249.5" fill="url(#h7)"/>
<rect x="138.9" y="37.0" width="11.6" height="249.5" fill="url(#h8)"/>
<rect x="150.5" y="37.0" width="11.7" height="249.5" fill="url(#h9)"/>
<rect x="162.2" y="37.0" width="11.6" height="249.5" fill="url(#h10)"/>
<rect x="180.3" y="37.0" width="13.2" height="249.5" fill="url(#h11)"/>
<rect x="193.5" y="37.0" width="13.1" height="249.5" fill="url(#h12)"/>
<rect x="206.6" y="37.0" width="13.1" height="249.5" fill="url(#h13)"/>
<rect x="219.7" y="37.0" width="13.3" height="249.5" fill="url(#h14)"/></g>
<text transform="translate(14.9,161.3) rotate(-90)" font-size="8.4" text-anchor="middle" fill="#3a3a3a">Genes</text>
<defs><linearGradient id="zg" x1="0" y1="0" x2="0" y2="1"><stop offset="0" stop-color="#7a0e1e"/><stop offset="0.2" stop-color="#a82838"/><stop offset="0.37" stop-color="#c27e8a"/><stop offset="0.48" stop-color="#f6f2ec"/><stop offset="0.57" stop-color="#a6cad4"/><stop offset="0.73" stop-color="#5860a8"/><stop offset="1" stop-color="#1e185a"/></linearGradient></defs>
<rect x="244" y="144" width="3" height="57" fill="url(#zg)"/>
<text x="238" y="137.6" font-size="8.2" fill="#333">Z-Score</text>
<text x="250.5" y="150.3" font-size="8.5" fill="#333">-2</text>
<text x="250.5" y="163.3" font-size="8.5" fill="#333">-1</text>
<text x="252.5" y="175.6" font-size="8.5" fill="#333">0</text>
<text x="252.5" y="188.6" font-size="8.5" fill="#333">1</text>
<text x="252.5" y="201.0" font-size="8.5" fill="#333">2</text>
<text transform="translate(185.9,322.5) rotate(-90)" font-size="8.0" fill="#222">CD4 T<tspan font-size="6.1" dy="1.7">con</tspan></text>
<text transform="translate(199.2,322.5) rotate(-90)" font-size="8.0" fill="#222">CD4 T<tspan font-size="6.1" dy="1.7">reg</tspan></text>
<text transform="translate(212.4,322.5) rotate(-90)" font-size="8.0" fill="#222">CD8 T<tspan font-size="6.1" dy="1.7">con</tspan></text>
<text transform="translate(225.7,322.5) rotate(-90)" font-size="8.0" fill="#222">CD8 T<tspan font-size="6.1" dy="1.7">reg</tspan></text>
<text x="263.2" y="16" font-size="11.5" font-weight="bold" fill="#000">B</text>
<rect x="293.0" y="23.0" width="219.5" height="257.3" fill="none" stroke="#000" stroke-width="1.55"/>
<line x1="285.6" y1="288" x2="285.6" y2="254" stroke="#000" stroke-width="1.3"/>
<path d="M285.6 246.8 L289.2 255.6 L285.6 253.8 L282.0 255.6 Z" fill="#000"/>
<line x1="285" y1="287.6" x2="317" y2="287.6" stroke="#000" stroke-width="1.3"/>
<path d="M324.6 287.6 L315.8 284.0 L317.6 287.6 L315.8 291.2 Z" fill="#000"/>
<text x="263.3" y="271.3" font-size="8.1" fill="#444">PC1</text>
<text x="304" y="301.2" font-size="8.1" fill="#444">PC2</text>
<ellipse cx="460.5" cy="153.5" rx="44.6" ry="74.0" transform="rotate(-1.00 460.5 153.5)" fill="#dcebcf" stroke="#6b8f4f" stroke-width="1.05" fill-opacity="1.00"/>
<g stroke="#678a4b" stroke-width="1.2" fill="none"><path d="M460.2 153 L446.7 98.8 M460.2 153 L495.2 162.6 M460.2 153 L439.2 196.5"/></g>
<circle cx="446.7" cy="98.8" r="1.2" fill="#5a7d40"/>
<circle cx="495.2" cy="162.6" r="1.2" fill="#5a7d40"/>
<circle cx="439.2" cy="196.5" r="1.2" fill="#5a7d40"/>
<ellipse cx="319.4" cy="171.6" rx="3.1" ry="98.0" transform="rotate(-6.20 319.4 171.6)" fill="#c8cde8" stroke="#36426e" stroke-width="1.10" fill-opacity="1.00"/>
<g stroke="#36426e" stroke-width="0.9" fill="none"><path d="M318.6 168 L311.6 96.4 M318.6 168 L322.3 210.6 M318.6 168 L321.2 206"/></g>
<circle cx="311.6" cy="96.4" r="1.1" fill="#1f3060"/><circle cx="322.3" cy="210.6" r="1.1" fill="#1f3060"/><circle cx="321.2" cy="206" r="0.9" fill="#1f3060"/>
<line x1="351.5" y1="45" x2="370.75" y2="271.75" stroke="#a01840" stroke-width="1.05"/>
<circle cx="353.7" cy="71.4" r="1.3" fill="#7a0a28"/><circle cx="364.5" cy="198.8" r="1.3" fill="#7a0a28"/><circle cx="365.1" cy="205.5" r="1.3" fill="#7a0a28"/>
<ellipse cx="412.4" cy="175.3" rx="4.4" ry="69.0" transform="rotate(-8.88 412.4 175.3)" fill="#d2bee6" stroke="#3e2458" stroke-width="1.10" fill-opacity="1.00"/>
<g stroke="#3e2458" stroke-width="0.9" fill="none"><path d="M410 178 L405.5 124 M410 178 L411 187 M410 178 L420 213"/></g>
<circle cx="405.5" cy="124" r="0.9" fill="#4a2a70"/><circle cx="411" cy="187" r="0.9" fill="#4a2a70"/><circle cx="420" cy="213" r="0.9" fill="#4a2a70"/>
<line x1="388.3" y1="23" x2="388.3" y2="280.3" stroke="#000" stroke-width="1.25"/>
<line x1="293" y1="164.5" x2="512.5" y2="164.5" stroke="#000" stroke-width="1.2"/>
<text x="303.6" y="70.8" font-size="8.4" fill="#67708c">CD8 Tcon</text>
<text x="346.8" y="41" font-size="8.4" fill="#8e4660">CD4 Tcon</text>
<text x="457.2" y="73.3" font-size="8.4" fill="#9aab8a">CD4 Treg</text>
<text transform="translate(401.2,104.2) rotate(-44)" font-size="8.4" fill="#45365e">CD8 Treg</text>
<text x="8.6" y="336.5" font-size="11.5" font-weight="bold" fill="#000">C</text>
<text transform="translate(139.8,339.9) scale(0.782,1)" font-size="9.8" fill="#2a2a2a" stroke="#2a2a2a" stroke-width="0.22" text-anchor="middle">Expression of T<tspan font-size="6.3" dy="2.4">reg</tspan><tspan dy="-2.4">-Associated</tspan></text>
<text transform="translate(139.4,352.2) scale(0.800,1)" font-size="9.8" fill="#2a2a2a" stroke="#2a2a2a" stroke-width="0.22" text-anchor="middle">Gene Signature</text>
<line x1="55.8" y1="356" x2="55.8" y2="470.5" stroke="#000" stroke-width="1.3"/>
<line x1="52.2" y1="469.9" x2="55.8" y2="469.9" stroke="#000" stroke-width="1.1"/>
<text x="49.1" y="472.9" font-size="8.4" fill="#222" stroke="#222" stroke-width="0.15" text-anchor="end">0</text>
<line x1="52.2" y1="442.0" x2="55.8" y2="442.0" stroke="#000" stroke-width="1.1"/>
<text x="49.1" y="445.0" font-size="8.4" fill="#222" stroke="#222" stroke-width="0.15" text-anchor="end">1000</text>
<line x1="52.2" y1="414.0" x2="55.8" y2="414.0" stroke="#000" stroke-width="1.1"/>
<text x="49.1" y="417.0" font-size="8.4" fill="#222" stroke="#222" stroke-width="0.15" text-anchor="end">2000</text>
<line x1="52.2" y1="386.1" x2="55.8" y2="386.1" stroke="#000" stroke-width="1.1"/>
<text x="49.1" y="389.1" font-size="8.4" fill="#222" stroke="#222" stroke-width="0.15" text-anchor="end">3000</text>
<line x1="52.2" y1="358.2" x2="55.8" y2="358.2" stroke="#000" stroke-width="1.1"/>
<text x="49.1" y="361.2" font-size="8.4" fill="#222" stroke="#222" stroke-width="0.15" text-anchor="end">4000</text>
<rect x="63.0" y="437.9" width="27.8" height="32.0" fill="#b4082f"/>
<path d="M69.7 436.0 H84.1 M76.9 436.0 V439.9 M69.7 439.9 H84.1" stroke="#222" stroke-width="1.1" fill="none"/>
<rect x="104.8" y="395.1" width="27.8" height="74.8" fill="#2f4f8b"/>
<path d="M111.5 394.5 H126.0 M118.8 394.5 V395.6 M111.5 395.6 H126.0" stroke="#222" stroke-width="1.1" fill="none"/>
<rect x="146.8" y="433.3" width="27.8" height="36.6" fill="#b4082f"/>
<path d="M153.5 432.2 H167.8 M160.7 432.2 V434.4 M153.5 434.4 H167.8" stroke="#222" stroke-width="1.1" fill="none"/>
<rect x="188.6" y="383.6" width="27.8" height="86.3" fill="#2f4f8b"/>
<path d="M195.3 381.1 H209.7 M202.5 381.1 V386.1 M195.3 386.1 H209.7" stroke="#222" stroke-width="1.1" fill="none"/>
<line x1="55.1" y1="469.9" x2="223.9" y2="469.9" stroke="#000" stroke-width="1.4"/>
<line x1="76.9" y1="469.9" x2="76.9" y2="472.9" stroke="#000" stroke-width="1"/>
<line x1="118.8" y1="469.9" x2="118.8" y2="472.9" stroke="#000" stroke-width="1"/>
<line x1="160.7" y1="469.9" x2="160.7" y2="472.9" stroke="#000" stroke-width="1"/>
<line x1="202.5" y1="469.9" x2="202.5" y2="472.9" stroke="#000" stroke-width="1"/>
<text transform="translate(78.3,476.5) rotate(-90)" font-size="8.8" fill="#222" text-anchor="end">CD4 T<tspan font-size="6.2" dy="1.9">conv</tspan></text>
<text transform="translate(120.2,476.5) rotate(-90)" font-size="8.8" fill="#222" text-anchor="end">CD4 T<tspan font-size="6.2" dy="1.9">reg</tspan></text>
<text transform="translate(162.1,476.5) rotate(-90)" font-size="8.8" fill="#222" text-anchor="end">CD8 T<tspan font-size="6.2" dy="1.9">conv</tspan></text>
<text transform="translate(203.9,476.5) rotate(-90)" font-size="8.8" fill="#222" text-anchor="end">CD8 T<tspan font-size="6.2" dy="1.9">reg</tspan></text>
<text transform="translate(24.9,413.4) rotate(-90) scale(0.875,1)" font-size="9" fill="#2a2a2a" text-anchor="middle">Mean expression value</text>
<line x1="125.6" y1="365.4" x2="201.7" y2="365.4" stroke="#000" stroke-width="1.1"/>
<text x="163.7" y="366.3" font-size="8.6" font-weight="bold" fill="#000" text-anchor="middle">**</text>
<line x1="161.3" y1="376.3" x2="201.7" y2="376.3" stroke="#000" stroke-width="1.1"/>
<text x="181.2" y="377" font-size="8.6" font-weight="bold" fill="#000" text-anchor="middle">***</text>
<text x="269.2" y="336.7" font-size="11.5" font-weight="bold" fill="#000">D</text>
<text transform="translate(401.2,339.9) scale(0.782,1)" font-size="9.8" fill="#2a2a2a" stroke="#2a2a2a" stroke-width="0.22" text-anchor="middle">Expression of Inverse T<tspan font-size="6.3" dy="2.4">reg</tspan><tspan dy="-2.4">-Associated</tspan></text>
<text transform="translate(401.9,352.2) scale(0.810,1)" font-size="9.8" fill="#2a2a2a" stroke="#2a2a2a" stroke-width="0.22" text-anchor="middle">Gene Signature</text>
<line x1="317.6" y1="356" x2="317.6" y2="470.5" stroke="#000" stroke-width="1.3"/>
<line x1="314.1" y1="469.9" x2="317.6" y2="469.9" stroke="#000" stroke-width="1.1"/>
<text x="311.0" y="472.9" font-size="8.4" fill="#222" stroke="#222" stroke-width="0.15" text-anchor="end">0</text>
<line x1="314.1" y1="442.0" x2="317.6" y2="442.0" stroke="#000" stroke-width="1.1"/>
<text x="311.0" y="445.0" font-size="8.4" fill="#222" stroke="#222" stroke-width="0.15" text-anchor="end">500</text>
<line x1="314.1" y1="414.0" x2="317.6" y2="414.0" stroke="#000" stroke-width="1.1"/>
<text x="311.0" y="417.0" font-size="8.4" fill="#222" stroke="#222" stroke-width="0.15" text-anchor="end">1000</text>
<line x1="314.1" y1="386.1" x2="317.6" y2="386.1" stroke="#000" stroke-width="1.1"/>
<text x="311.0" y="389.1" font-size="8.4" fill="#222" stroke="#222" stroke-width="0.15" text-anchor="end">1500</text>
<line x1="314.1" y1="358.2" x2="317.6" y2="358.2" stroke="#000" stroke-width="1.1"/>
<text x="311.0" y="361.2" font-size="8.4" fill="#222" stroke="#222" stroke-width="0.15" text-anchor="end">2000</text>
<rect x="324.8" y="390.3" width="27.8" height="79.6" fill="#b4082f"/>
<path d="M331.5 384.7 H345.9 M338.7 384.7 V395.9 M331.5 395.9 H345.9" stroke="#222" stroke-width="1.1" fill="none"/>
<rect x="366.7" y="433.9" width="27.8" height="36.0" fill="#2f4f8b"/>
<path d="M373.4 432.5 H387.8 M380.6 432.5 V435.3 M373.4 435.3 H387.8" stroke="#222" stroke-width="1.1" fill="none"/>
<rect x="408.6" y="382.2" width="27.8" height="87.7" fill="#b4082f"/>
<path d="M415.3 378.0 H429.7 M422.5 378.0 V386.4 M415.3 386.4 H429.7" stroke="#222" stroke-width="1.1" fill="none"/>
<rect x="450.5" y="430.5" width="27.8" height="39.4" fill="#2f4f8b"/>
<path d="M457.2 428.3 H471.6 M464.4 428.3 V432.8 M457.2 432.8 H471.6" stroke="#222" stroke-width="1.1" fill="none"/>
<line x1="317.0" y1="469.9" x2="485.8" y2="469.9" stroke="#000" stroke-width="1.4"/>
<line x1="338.7" y1="469.9" x2="338.7" y2="472.9" stroke="#000" stroke-width="1"/>
<line x1="380.6" y1="469.9" x2="380.6" y2="472.9" stroke="#000" stroke-width="1"/>
<line x1="422.5" y1="469.9" x2="422.5" y2="472.9" stroke="#000" stroke-width="1"/>
<line x1="464.4" y1="469.9" x2="464.4" y2="472.9" stroke="#000" stroke-width="1"/>
<text transform="translate(340.1,476.5) rotate(-90)" font-size="8.8" fill="#222" text-anchor="end">CD4 T<tspan font-size="6.2" dy="1.9">conv</tspan></text>
<text transform="translate(382.0,476.5) rotate(-90)" font-size="8.8" fill="#222" text-anchor="end">CD4 T<tspan font-size="6.2" dy="1.9">reg</tspan></text>
<text transform="translate(423.9,476.5) rotate(-90)" font-size="8.8" fill="#222" text-anchor="end">CD8 T<tspan font-size="6.2" dy="1.9">conv</tspan></text>
<text transform="translate(465.8,476.5) rotate(-90)" font-size="8.8" fill="#222" text-anchor="end">CD8 T<tspan font-size="6.2" dy="1.9">reg</tspan></text>
<text transform="translate(287.4,413.4) rotate(-90) scale(0.875,1)" font-size="9" fill="#2a2a2a" text-anchor="middle">Mean expression value</text>
<line x1="422.5" y1="374.0" x2="471" y2="374.0" stroke="#111" stroke-width="1.1"/>
<text x="446.9" y="375" font-size="8.6" font-weight="bold" fill="#000" text-anchor="middle">****</text>
<text x="8.7" y="540.6" font-size="11.5" font-weight="bold" fill="#000">E</text>
<text transform="translate(78.1,546.6) scale(0.76,1)" font-size="10" fill="#2a2a2a" stroke="#2a2a2a" stroke-width="0.18">Overexpressed in CD8 vs CD4</text>
<defs><clipPath id="ce"><circle cx="115.8" cy="620.8" r="64.2"/></clipPath></defs>
<circle cx="115.8" cy="620.8" r="64.2" fill="#97a8c5"/>
<circle cx="161.3" cy="597.5" r="41.7" fill="#d97a91"/>
<circle cx="161.3" cy="597.5" r="41.7" fill="#a64f78" clip-path="url(#ce)"/>
<text x="51.8" y="568.8" font-size="9.2" fill="#222" stroke="#222" stroke-width="0.25">T<tspan font-size="6.5" dx="-0.9" dy="2.4">con</tspan></text>
<text x="194.0" y="567.9" font-size="9.2" fill="#222" stroke="#222" stroke-width="0.25">T<tspan font-size="6.5" dx="-0.5" dy="2.8">reg</tspan></text>
<text x="180" y="583.5" font-size="9" fill="#3a1a2a" stroke="#3a1a2a" stroke-width="0.2" text-anchor="middle">539</text>
<text x="148.5" y="604.2" font-size="9" fill="#2a1a2a" stroke="#2a1a2a" stroke-width="0.2" text-anchor="middle">919</text>
<text x="98.7" y="629.2" font-size="9" fill="#1f2a48" stroke="#1f2a48" stroke-width="0.2" text-anchor="middle">2682</text>
<text x="269.4" y="541" font-size="11.5" font-weight="bold" fill="#000">F</text>
<text transform="translate(332.3,549.8) scale(0.762,1)" font-size="10" fill="#2a2a2a" stroke="#2a2a2a" stroke-width="0.18">Underexpressed in CD8 vs CD4</text>
<defs><clipPath id="cf"><circle cx="374.1" cy="604.5" r="45.7"/></clipPath></defs>
<circle cx="374.1" cy="604.5" r="45.7" fill="#97a8c5"/>
<circle cx="404.5" cy="588.3" r="29.8" fill="#d97a91"/>
<circle cx="404.5" cy="588.3" r="29.8" fill="#a64f78" clip-path="url(#cf)"/>
<text x="324.0" y="572.7" font-size="9.0" fill="#222" stroke="#222" stroke-width="0.25">T<tspan font-size="6.1" dx="-0.3" dy="2.1">con</tspan></text>
<text x="436.0" y="572.7" font-size="9.0" fill="#222" stroke="#222" stroke-width="0.25">T<tspan font-size="6.1" dx="-0.3" dy="1.8">reg</tspan></text>
<text x="423.4" y="582.2" font-size="9" fill="#3a1a2a" stroke="#3a1a2a" stroke-width="0.2" text-anchor="middle">250</text>
<text x="394" y="593" font-size="9" fill="#2a1a2a" stroke="#2a1a2a" stroke-width="0.2" text-anchor="middle">547</text>
<text x="355.7" y="611.1" font-size="8.6" fill="#1f2a48" stroke="#1f2a48" stroke-width="0.2" text-anchor="middle">1305</text>
<rect x="0.75" y="0.75" width="518.5" height="691.5" fill="none" stroke="#000" stroke-width="1.5"/>
</svg>
</body></html>
